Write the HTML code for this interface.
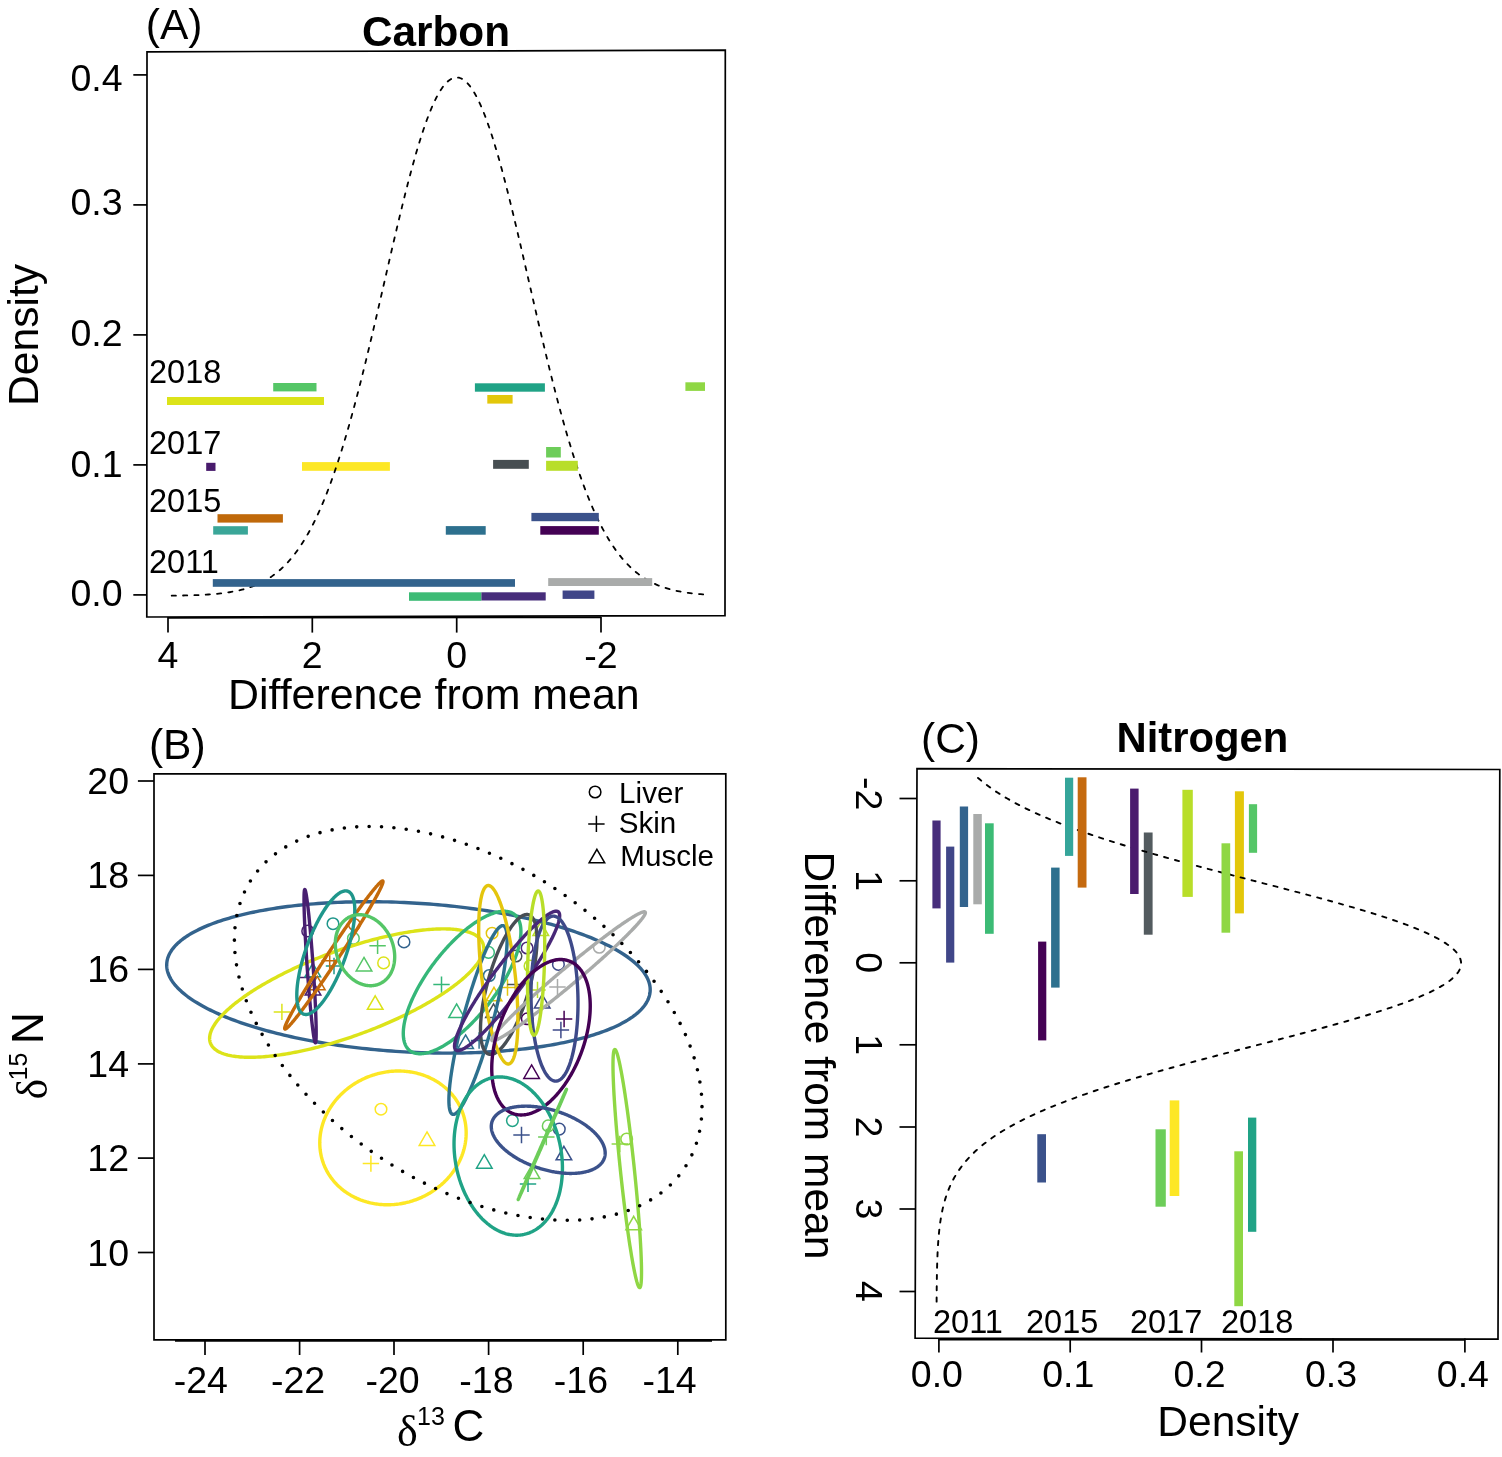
<!DOCTYPE html>
<html><head><meta charset="utf-8"><title>Carbon and Nitrogen</title>
<style>html,body{margin:0;padding:0;background:#fff;} svg{display:block;}</style></head>
<body><svg width="1502" height="1457" viewBox="0 0 1502 1457">
<rect width="1502" height="1457" fill="#fff"/>
<path d="M147.00,51.80 L725.30,50.20 L725.00,615.60 L146.80,617.00 Z" fill="none" stroke="#000" stroke-width="1.7" />
<line x1="133.30" y1="74.90" x2="147.00" y2="74.90" stroke="#000" stroke-width="1.7" />
<text x="122.60" y="91.00" font-size="37.5" font-family="'Liberation Sans', Arial, Helvetica, sans-serif" font-weight="normal" text-anchor="end" >0.4</text>
<line x1="133.30" y1="204.90" x2="147.00" y2="204.90" stroke="#000" stroke-width="1.7" />
<text x="122.60" y="214.70" font-size="37.5" font-family="'Liberation Sans', Arial, Helvetica, sans-serif" font-weight="normal" text-anchor="end" >0.3</text>
<line x1="133.30" y1="334.90" x2="147.00" y2="334.90" stroke="#000" stroke-width="1.7" />
<text x="122.60" y="345.90" font-size="37.5" font-family="'Liberation Sans', Arial, Helvetica, sans-serif" font-weight="normal" text-anchor="end" >0.2</text>
<line x1="133.30" y1="464.90" x2="147.00" y2="464.90" stroke="#000" stroke-width="1.7" />
<text x="122.60" y="476.80" font-size="37.5" font-family="'Liberation Sans', Arial, Helvetica, sans-serif" font-weight="normal" text-anchor="end" >0.1</text>
<line x1="133.30" y1="594.90" x2="147.00" y2="594.90" stroke="#000" stroke-width="1.7" />
<text x="122.60" y="606.00" font-size="37.5" font-family="'Liberation Sans', Arial, Helvetica, sans-serif" font-weight="normal" text-anchor="end" >0.0</text>
<line x1="168.00" y1="617.80" x2="601.00" y2="617.40" stroke="#000" stroke-width="1.7" />
<line x1="168.00" y1="617.00" x2="168.00" y2="632.60" stroke="#000" stroke-width="1.7" />
<text x="168.00" y="668.20" font-size="37.5" font-family="'Liberation Sans', Arial, Helvetica, sans-serif" font-weight="normal" text-anchor="middle" >4</text>
<line x1="312.30" y1="617.00" x2="312.30" y2="632.60" stroke="#000" stroke-width="1.7" />
<text x="312.30" y="668.20" font-size="37.5" font-family="'Liberation Sans', Arial, Helvetica, sans-serif" font-weight="normal" text-anchor="middle" >2</text>
<line x1="456.70" y1="617.00" x2="456.70" y2="632.60" stroke="#000" stroke-width="1.7" />
<text x="456.70" y="668.20" font-size="37.5" font-family="'Liberation Sans', Arial, Helvetica, sans-serif" font-weight="normal" text-anchor="middle" >0</text>
<line x1="601.00" y1="617.00" x2="601.00" y2="632.60" stroke="#000" stroke-width="1.7" />
<text x="601.00" y="668.20" font-size="37.5" font-family="'Liberation Sans', Arial, Helvetica, sans-serif" font-weight="normal" text-anchor="middle" >-2</text>
<text x="433.80" y="709.00" font-size="42.9" font-family="'Liberation Sans', Arial, Helvetica, sans-serif" font-weight="normal" text-anchor="middle" >Difference from mean</text>
<text x="37.80" y="335.00" font-size="42.6" font-family="'Liberation Sans', Arial, Helvetica, sans-serif" font-weight="normal" text-anchor="middle" transform="rotate(-90 37.80 335.00)" >Density</text>
<text x="145.80" y="39.00" font-size="42.5" font-family="'Liberation Sans', Arial, Helvetica, sans-serif" font-weight="normal" text-anchor="start" >(A)</text>
<text x="436.00" y="45.60" font-size="42.3" font-family="'Liberation Sans', Arial, Helvetica, sans-serif" font-weight="bold" text-anchor="middle" >Carbon</text>
<text x="149.00" y="383.00" font-size="32.5" font-family="'Liberation Sans', Arial, Helvetica, sans-serif" font-weight="normal" text-anchor="start" >2018</text>
<text x="149.00" y="453.90" font-size="32.5" font-family="'Liberation Sans', Arial, Helvetica, sans-serif" font-weight="normal" text-anchor="start" >2017</text>
<text x="149.00" y="512.00" font-size="32.5" font-family="'Liberation Sans', Arial, Helvetica, sans-serif" font-weight="normal" text-anchor="start" >2015</text>
<text x="149.00" y="573.20" font-size="32.5" font-family="'Liberation Sans', Arial, Helvetica, sans-serif" font-weight="normal" text-anchor="start" >2011</text>
<rect x="302.00" y="462.10" width="87.90" height="8.70" fill="#FDE725"/>
<path d="M170.79,595.70 L172.57,595.68 L174.35,595.65 L176.12,595.63 L177.90,595.60 L179.68,595.57 L181.46,595.54 L183.24,595.50 L185.02,595.46 L186.79,595.42 L188.57,595.38 L190.35,595.33 L192.13,595.27 L193.91,595.21 L195.69,595.15 L197.47,595.08 L199.24,595.00 L201.02,594.92 L202.80,594.83 L204.58,594.73 L206.36,594.63 L208.14,594.52 L209.92,594.39 L211.69,594.26 L213.47,594.12 L215.25,593.97 L217.03,593.80 L218.81,593.62 L220.59,593.43 L222.37,593.23 L224.14,593.00 L225.92,592.77 L227.70,592.51 L229.48,592.24 L231.26,591.94 L233.04,591.63 L234.81,591.29 L236.59,590.93 L238.37,590.54 L240.15,590.13 L241.93,589.69 L243.71,589.22 L245.49,588.72 L247.26,588.18 L249.04,587.61 L250.82,587.01 L252.60,586.36 L254.38,585.68 L256.16,584.95 L257.94,584.18 L259.71,583.36 L261.49,582.49 L263.27,581.57 L265.05,580.60 L266.83,579.57 L268.61,578.48 L270.39,577.34 L272.16,576.12 L273.94,574.84 L275.72,573.50 L277.50,572.08 L279.28,570.58 L281.06,569.01 L282.84,567.36 L284.61,565.62 L286.39,563.80 L288.17,561.89 L289.95,559.89 L291.73,557.80 L293.51,555.60 L295.28,553.31 L297.06,550.91 L298.84,548.41 L300.62,545.79 L302.40,543.07 L304.18,540.23 L305.96,537.27 L307.73,534.20 L309.51,531.00 L311.29,527.68 L313.07,524.23 L314.85,520.65 L316.63,516.95 L318.41,513.11 L320.18,509.13 L321.96,505.02 L323.74,500.78 L325.52,496.39 L327.30,491.87 L329.08,487.21 L330.86,482.40 L332.63,477.46 L334.41,472.38 L336.19,467.15 L337.97,461.79 L339.75,456.29 L341.53,450.65 L343.31,444.87 L345.08,438.96 L346.86,432.92 L348.64,426.75 L350.42,420.45 L352.20,414.03 L353.98,407.48 L355.75,400.82 L357.53,394.05 L359.31,387.16 L361.09,380.18 L362.87,373.09 L364.65,365.91 L366.43,358.65 L368.20,351.30 L369.98,343.88 L371.76,336.39 L373.54,328.84 L375.32,321.24 L377.10,313.59 L378.88,305.91 L380.65,298.19 L382.43,290.46 L384.21,282.72 L385.99,274.97 L387.77,267.24 L389.55,259.52 L391.33,251.82 L393.10,244.17 L394.88,236.56 L396.66,229.02 L398.44,221.54 L400.22,214.14 L402.00,206.83 L403.77,199.62 L405.55,192.52 L407.33,185.54 L409.11,178.70 L410.89,172.00 L412.67,165.45 L414.45,159.07 L416.22,152.86 L418.00,146.84 L419.78,141.01 L421.56,135.38 L423.34,129.97 L425.12,124.78 L426.90,119.82 L428.67,115.10 L430.45,110.62 L432.23,106.41 L434.01,102.45 L435.79,98.77 L437.57,95.36 L439.35,92.24 L441.12,89.40 L442.90,86.85 L444.68,84.61 L446.46,82.66 L448.24,81.02 L450.02,79.69 L451.80,78.67 L453.57,77.96 L455.35,77.56 L457.13,77.48 L458.91,77.72 L460.69,78.26 L462.47,79.13 L464.24,80.30 L466.02,81.78 L467.80,83.57 L469.58,85.66 L471.36,88.05 L473.14,90.74 L474.92,93.71 L476.69,96.98 L478.47,100.52 L480.25,104.34 L482.03,108.42 L483.81,112.76 L485.59,117.35 L487.37,122.19 L489.14,127.26 L490.92,132.56 L492.70,138.08 L494.48,143.81 L496.26,149.73 L498.04,155.85 L499.82,162.14 L501.59,168.60 L503.37,175.23 L505.15,182.00 L506.93,188.91 L508.71,195.94 L510.49,203.10 L512.27,210.36 L514.04,217.71 L515.82,225.15 L517.60,232.66 L519.38,240.24 L521.16,247.87 L522.94,255.55 L524.71,263.25 L526.49,270.98 L528.27,278.72 L530.05,286.47 L531.83,294.21 L533.61,301.93 L535.39,309.63 L537.16,317.30 L538.94,324.93 L540.72,332.50 L542.50,340.03 L544.28,347.48 L546.06,354.87 L547.84,362.18 L549.61,369.40 L551.39,376.54 L553.17,383.57 L554.95,390.51 L556.73,397.34 L558.51,404.06 L560.29,410.67 L562.06,417.15 L563.84,423.52 L565.62,429.76 L567.40,435.86 L569.18,441.84 L570.96,447.69 L572.74,453.40 L574.51,458.97 L576.29,464.41 L578.07,469.70 L579.85,474.86 L581.63,479.87 L583.41,484.75 L585.18,489.48 L586.96,494.08 L588.74,498.53 L590.52,502.85 L592.30,507.03 L594.08,511.07 L595.86,514.98 L597.63,518.76 L599.41,522.40 L601.19,525.92 L602.97,529.30 L604.75,532.56 L606.53,535.70 L608.31,538.72 L610.08,541.62 L611.86,544.40 L613.64,547.07 L615.42,549.63 L617.20,552.08 L618.98,554.43 L620.76,556.68 L622.53,558.82 L624.31,560.87 L626.09,562.83 L627.87,564.70 L629.65,566.48 L631.43,568.17 L633.20,569.78 L634.98,571.32 L636.76,572.77 L638.54,574.16 L640.32,575.47 L642.10,576.72 L643.88,577.90 L645.65,579.02 L647.43,580.08 L649.21,581.08 L650.99,582.03 L652.77,582.92 L654.55,583.76 L656.33,584.56 L658.10,585.31 L659.88,586.01 L661.66,586.68 L663.44,587.31 L665.22,587.89 L667.00,588.44 L668.78,588.96 L670.55,589.45 L672.33,589.91 L674.11,590.33 L675.89,590.73 L677.67,591.11 L679.45,591.46 L681.23,591.78 L683.00,592.09 L684.78,592.37 L686.56,592.64 L688.34,592.88 L690.12,593.11 L691.90,593.33 L693.67,593.53 L695.45,593.71 L697.23,593.88 L699.01,594.04 L700.79,594.19 L702.57,594.33 L704.35,594.45" fill="none" stroke="#000" stroke-width="1.8" stroke-dasharray="4.2 7.148" stroke-dashoffset="-0.9" stroke-linecap="round" stroke-linejoin="round"/>
<rect x="273.20" y="383.00" width="43.30" height="8.40" fill="#55C667"/>
<rect x="167.00" y="397.00" width="157.00" height="8.00" fill="#DCE319"/>
<rect x="474.90" y="383.30" width="70.00" height="8.40" fill="#20A386"/>
<rect x="487.30" y="395.00" width="25.30" height="8.60" fill="#E3C70A"/>
<rect x="685.40" y="382.30" width="19.60" height="8.60" fill="#8FD744"/>
<rect x="206.20" y="462.80" width="9.30" height="8.10" fill="#481A6C"/>
<rect x="493.10" y="459.90" width="35.70" height="8.90" fill="#474E52"/>
<rect x="546.10" y="447.00" width="14.70" height="10.50" fill="#6DCD59"/>
<rect x="546.10" y="460.80" width="31.70" height="10.00" fill="#B8DE29"/>
<rect x="217.50" y="514.20" width="65.40" height="8.40" fill="#C0690A"/>
<rect x="213.20" y="526.20" width="34.70" height="8.40" fill="#3AA698"/>
<rect x="531.40" y="512.90" width="67.40" height="8.30" fill="#3B528B"/>
<rect x="445.80" y="526.10" width="39.90" height="8.60" fill="#2D708E"/>
<rect x="540.30" y="526.10" width="58.50" height="8.60" fill="#440154"/>
<rect x="212.80" y="579.10" width="302.20" height="7.70" fill="#33638D"/>
<rect x="548.20" y="578.10" width="104.00" height="7.90" fill="#A9ABAA"/>
<rect x="409.00" y="592.30" width="72.40" height="8.50" fill="#3CBB75"/>
<rect x="481.40" y="592.30" width="64.30" height="8.20" fill="#472D7B"/>
<rect x="562.60" y="590.50" width="31.80" height="8.40" fill="#404688"/>
<path d="M154.00,773.80 L725.80,773.80 L725.80,1339.80 L154.00,1339.80 Z" fill="none" stroke="#000" stroke-width="1.7" />
<line x1="137.90" y1="781.00" x2="154.00" y2="781.00" stroke="#000" stroke-width="1.7" />
<text x="129.00" y="794.00" font-size="37.5" font-family="'Liberation Sans', Arial, Helvetica, sans-serif" font-weight="normal" text-anchor="end" >20</text>
<line x1="137.90" y1="875.40" x2="154.00" y2="875.40" stroke="#000" stroke-width="1.7" />
<text x="129.00" y="888.40" font-size="37.5" font-family="'Liberation Sans', Arial, Helvetica, sans-serif" font-weight="normal" text-anchor="end" >18</text>
<line x1="137.90" y1="969.40" x2="154.00" y2="969.40" stroke="#000" stroke-width="1.7" />
<text x="129.00" y="982.40" font-size="37.5" font-family="'Liberation Sans', Arial, Helvetica, sans-serif" font-weight="normal" text-anchor="end" >16</text>
<line x1="137.90" y1="1063.90" x2="154.00" y2="1063.90" stroke="#000" stroke-width="1.7" />
<text x="129.00" y="1076.90" font-size="37.5" font-family="'Liberation Sans', Arial, Helvetica, sans-serif" font-weight="normal" text-anchor="end" >14</text>
<line x1="137.90" y1="1158.10" x2="154.00" y2="1158.10" stroke="#000" stroke-width="1.7" />
<text x="129.00" y="1171.10" font-size="37.5" font-family="'Liberation Sans', Arial, Helvetica, sans-serif" font-weight="normal" text-anchor="end" >12</text>
<line x1="137.90" y1="1252.50" x2="154.00" y2="1252.50" stroke="#000" stroke-width="1.7" />
<text x="129.00" y="1265.50" font-size="37.5" font-family="'Liberation Sans', Arial, Helvetica, sans-serif" font-weight="normal" text-anchor="end" >10</text>
<line x1="175.00" y1="1340.90" x2="712.00" y2="1340.90" stroke="#000" stroke-width="1.7" />
<line x1="205.00" y1="1339.80" x2="205.00" y2="1355.00" stroke="#000" stroke-width="1.7" />
<text x="200.80" y="1393.00" font-size="37.5" font-family="'Liberation Sans', Arial, Helvetica, sans-serif" font-weight="normal" text-anchor="middle" >-24</text>
<line x1="299.60" y1="1339.80" x2="299.60" y2="1355.00" stroke="#000" stroke-width="1.7" />
<text x="298.10" y="1393.00" font-size="37.5" font-family="'Liberation Sans', Arial, Helvetica, sans-serif" font-weight="normal" text-anchor="middle" >-22</text>
<line x1="394.00" y1="1339.80" x2="394.00" y2="1355.00" stroke="#000" stroke-width="1.7" />
<text x="392.50" y="1393.00" font-size="37.5" font-family="'Liberation Sans', Arial, Helvetica, sans-serif" font-weight="normal" text-anchor="middle" >-20</text>
<line x1="488.60" y1="1339.80" x2="488.60" y2="1355.00" stroke="#000" stroke-width="1.7" />
<text x="486.40" y="1393.00" font-size="37.5" font-family="'Liberation Sans', Arial, Helvetica, sans-serif" font-weight="normal" text-anchor="middle" >-18</text>
<line x1="583.20" y1="1339.80" x2="583.20" y2="1355.00" stroke="#000" stroke-width="1.7" />
<text x="580.90" y="1393.00" font-size="37.5" font-family="'Liberation Sans', Arial, Helvetica, sans-serif" font-weight="normal" text-anchor="middle" >-16</text>
<line x1="677.80" y1="1339.80" x2="677.80" y2="1355.00" stroke="#000" stroke-width="1.7" />
<text x="669.60" y="1393.00" font-size="37.5" font-family="'Liberation Sans', Arial, Helvetica, sans-serif" font-weight="normal" text-anchor="middle" >-14</text>
<text x="148.90" y="759.00" font-size="42.5" font-family="'Liberation Sans', Arial, Helvetica, sans-serif" font-weight="normal" text-anchor="start" >(B)</text>
<circle cx="595.10" cy="792.00" r="5.80" fill="none" stroke="#000" stroke-width="1.5"/>
<path d="M588.20,823.90 H604.60 M596.40,815.70 V832.10" fill="none" stroke="#000" stroke-width="1.5"/>
<path d="M596.90,849.28 L604.71,862.81 L589.09,862.81 Z" fill="none" stroke="#000" stroke-width="1.5" stroke-linejoin="miter"/>
<text x="619.10" y="803.00" font-size="29.6" font-family="'Liberation Sans', Arial, Helvetica, sans-serif" font-weight="normal" text-anchor="start" >Liver</text>
<text x="618.70" y="832.90" font-size="29.6" font-family="'Liberation Sans', Arial, Helvetica, sans-serif" font-weight="normal" text-anchor="start" >Skin</text>
<text x="620.30" y="865.80" font-size="29.6" font-family="'Liberation Sans', Arial, Helvetica, sans-serif" font-weight="normal" text-anchor="start" >Muscle</text>
<circle cx="307.70" cy="931.00" r="5.80" fill="none" stroke="#481F70" stroke-width="1.5"/>
<path d="M299.90,977.40 H316.30 M308.10,969.20 V985.60" fill="none" stroke="#481F70" stroke-width="1.5"/>
<path d="M313.00,981.48 L320.81,995.01 L305.19,995.01 Z" fill="none" stroke="#481F70" stroke-width="1.5" stroke-linejoin="miter"/>
<circle cx="333.00" cy="923.70" r="5.80" fill="none" stroke="#1F968B" stroke-width="1.5"/>
<path d="M325.80,966.00 H342.20 M334.00,957.80 V974.20" fill="none" stroke="#1F968B" stroke-width="1.5"/>
<path d="M312.80,963.28 L320.61,976.81 L304.99,976.81 Z" fill="none" stroke="#1F968B" stroke-width="1.5" stroke-linejoin="miter"/>
<circle cx="354.40" cy="924.50" r="5.80" fill="none" stroke="#C46A0A" stroke-width="1.5"/>
<path d="M321.50,960.80 H337.90 M329.70,952.60 V969.00" fill="none" stroke="#C46A0A" stroke-width="1.5"/>
<path d="M317.30,976.28 L325.11,989.81 L309.49,989.81 Z" fill="none" stroke="#C46A0A" stroke-width="1.5" stroke-linejoin="miter"/>
<circle cx="353.40" cy="938.40" r="5.80" fill="none" stroke="#55C667" stroke-width="1.5"/>
<path d="M369.40,945.80 H385.80 M377.60,937.60 V954.00" fill="none" stroke="#55C667" stroke-width="1.5"/>
<path d="M364.00,957.38 L371.81,970.91 L356.19,970.91 Z" fill="none" stroke="#55C667" stroke-width="1.5" stroke-linejoin="miter"/>
<circle cx="383.60" cy="962.90" r="5.80" fill="none" stroke="#DCE319" stroke-width="1.5"/>
<path d="M273.70,1011.90 H290.10 M281.90,1003.70 V1020.10" fill="none" stroke="#DCE319" stroke-width="1.5"/>
<path d="M375.20,995.78 L383.01,1009.31 L367.39,1009.31 Z" fill="none" stroke="#DCE319" stroke-width="1.5" stroke-linejoin="miter"/>
<circle cx="404.00" cy="941.90" r="5.80" fill="none" stroke="#33638D" stroke-width="1.5"/>
<circle cx="381.00" cy="1109.20" r="5.80" fill="none" stroke="#FDE725" stroke-width="1.5"/>
<path d="M427.00,1131.88 L434.81,1145.41 L419.19,1145.41 Z" fill="none" stroke="#FDE725" stroke-width="1.5" stroke-linejoin="miter"/>
<path d="M362.70,1163.60 H379.10 M370.90,1155.40 V1171.80" fill="none" stroke="#FDE725" stroke-width="1.5"/>
<circle cx="488.50" cy="952.40" r="5.80" fill="none" stroke="#35B779" stroke-width="1.5"/>
<path d="M433.30,984.60 H449.70 M441.50,976.40 V992.80" fill="none" stroke="#35B779" stroke-width="1.5"/>
<path d="M456.60,1003.98 L464.41,1017.51 L448.79,1017.51 Z" fill="none" stroke="#35B779" stroke-width="1.5" stroke-linejoin="miter"/>
<circle cx="492.10" cy="933.20" r="5.80" fill="none" stroke="#E4C50D" stroke-width="1.5"/>
<path d="M499.30,987.50 H515.70 M507.50,979.30 V995.70" fill="none" stroke="#E4C50D" stroke-width="1.5"/>
<path d="M494.00,987.28 L501.81,1000.81 L486.19,1000.81 Z" fill="none" stroke="#E4C50D" stroke-width="1.5" stroke-linejoin="miter"/>
<circle cx="489.30" cy="975.50" r="5.80" fill="none" stroke="#2D708E" stroke-width="1.5"/>
<path d="M470.90,1040.50 H487.30 M479.10,1032.30 V1048.70" fill="none" stroke="#2D708E" stroke-width="1.5"/>
<path d="M465.60,1034.98 L473.41,1048.51 L457.79,1048.51 Z" fill="none" stroke="#2D708E" stroke-width="1.5" stroke-linejoin="miter"/>
<circle cx="527.10" cy="948.00" r="5.80" fill="none" stroke="#482878" stroke-width="1.5"/>
<circle cx="558.40" cy="964.40" r="5.80" fill="none" stroke="#3E4A89" stroke-width="1.5"/>
<path d="M552.70,1030.00 H569.10 M560.90,1021.80 V1038.20" fill="none" stroke="#3E4A89" stroke-width="1.5"/>
<path d="M542.20,994.58 L550.01,1008.11 L534.39,1008.11 Z" fill="none" stroke="#3E4A89" stroke-width="1.5" stroke-linejoin="miter"/>
<circle cx="599.30" cy="947.30" r="5.80" fill="none" stroke="#A9ABAA" stroke-width="1.5"/>
<path d="M549.30,987.10 H565.70 M557.50,978.90 V995.30" fill="none" stroke="#A9ABAA" stroke-width="1.5"/>
<path d="M529.30,989.90 H545.70 M537.50,981.70 V998.10" fill="none" stroke="#B8DE29" stroke-width="1.5"/>
<circle cx="530.00" cy="966.00" r="5.80" fill="none" stroke="#B8DE29" stroke-width="1.5"/>
<path d="M540.80,921.98 L548.61,935.51 L532.99,935.51 Z" fill="none" stroke="#B8DE29" stroke-width="1.5" stroke-linejoin="miter"/>
<circle cx="516.00" cy="956.00" r="5.80" fill="none" stroke="#484E54" stroke-width="1.5"/>
<path d="M507.30,984.50 H523.70 M515.50,976.30 V992.70" fill="none" stroke="#484E54" stroke-width="1.5"/>
<path d="M493.50,1003.98 L501.31,1017.51 L485.69,1017.51 Z" fill="none" stroke="#484E54" stroke-width="1.5" stroke-linejoin="miter"/>
<circle cx="527.30" cy="1018.80" r="5.80" fill="none" stroke="#440154" stroke-width="1.5"/>
<path d="M555.90,1019.00 H572.30 M564.10,1010.80 V1027.20" fill="none" stroke="#440154" stroke-width="1.5"/>
<path d="M531.60,1064.88 L539.41,1078.41 L523.79,1078.41 Z" fill="none" stroke="#440154" stroke-width="1.5" stroke-linejoin="miter"/>
<circle cx="512.40" cy="1120.60" r="5.80" fill="none" stroke="#20A386" stroke-width="1.5"/>
<path d="M484.30,1154.68 L492.11,1168.21 L476.49,1168.21 Z" fill="none" stroke="#20A386" stroke-width="1.5" stroke-linejoin="miter"/>
<path d="M519.80,1183.90 H536.20 M528.00,1175.70 V1192.10" fill="none" stroke="#20A386" stroke-width="1.5"/>
<circle cx="559.30" cy="1129.10" r="5.80" fill="none" stroke="#3B528B" stroke-width="1.5"/>
<path d="M513.30,1135.00 H529.70 M521.50,1126.80 V1143.20" fill="none" stroke="#3B528B" stroke-width="1.5"/>
<path d="M563.90,1146.28 L571.71,1159.81 L556.09,1159.81 Z" fill="none" stroke="#3B528B" stroke-width="1.5" stroke-linejoin="miter"/>
<circle cx="548.20" cy="1125.90" r="5.80" fill="none" stroke="#6DCD59" stroke-width="1.5"/>
<path d="M538.10,1137.00 H554.50 M546.30,1128.80 V1145.20" fill="none" stroke="#6DCD59" stroke-width="1.5"/>
<path d="M532.00,1164.98 L539.81,1178.51 L524.19,1178.51 Z" fill="none" stroke="#6DCD59" stroke-width="1.5" stroke-linejoin="miter"/>
<circle cx="626.70" cy="1139.00" r="5.80" fill="none" stroke="#8FD744" stroke-width="1.5"/>
<path d="M611.60,1144.00 H628.00 M619.80,1135.80 V1152.20" fill="none" stroke="#8FD744" stroke-width="1.5"/>
<path d="M633.70,1216.28 L641.51,1229.81 L625.89,1229.81 Z" fill="none" stroke="#8FD744" stroke-width="1.5" stroke-linejoin="miter"/>
<path d="M650.20,989.73 L650.16,991.03 L650.05,992.33 L649.87,993.62 L649.61,994.91 L649.28,996.19 L648.88,997.47 L648.40,998.74 L647.85,1000.00 L647.22,1001.26 L646.53,1002.51 L645.76,1003.75 L644.92,1004.99 L644.00,1006.21 L643.02,1007.43 L641.96,1008.64 L640.84,1009.84 L639.64,1011.03 L638.37,1012.20 L637.03,1013.37 L635.62,1014.53 L634.14,1015.67 L632.60,1016.81 L630.98,1017.93 L629.30,1019.04 L627.55,1020.14 L625.73,1021.22 L623.85,1022.29 L621.90,1023.35 L619.89,1024.39 L617.81,1025.42 L615.67,1026.43 L613.47,1027.43 L611.20,1028.42 L608.87,1029.39 L606.48,1030.34 L604.03,1031.27 L601.52,1032.19 L598.95,1033.10 L596.33,1033.98 L593.64,1034.85 L590.90,1035.70 L588.11,1036.54 L585.25,1037.35 L582.35,1038.15 L579.39,1038.93 L576.38,1039.69 L573.32,1040.43 L570.21,1041.15 L567.05,1041.86 L563.84,1042.54 L560.59,1043.20 L557.29,1043.85 L553.94,1044.47 L550.55,1045.07 L547.11,1045.65 L543.63,1046.21 L540.12,1046.75 L536.56,1047.27 L532.96,1047.77 L529.33,1048.25 L525.65,1048.70 L521.94,1049.13 L518.20,1049.55 L514.43,1049.93 L510.62,1050.30 L506.78,1050.65 L502.91,1050.97 L499.01,1051.27 L495.09,1051.55 L491.13,1051.80 L487.16,1052.03 L483.15,1052.24 L479.13,1052.43 L475.09,1052.59 L471.02,1052.74 L466.93,1052.85 L462.83,1052.95 L458.71,1053.02 L454.58,1053.07 L450.43,1053.10 L446.27,1053.10 L442.10,1053.08 L437.91,1053.04 L433.72,1052.97 L429.52,1052.88 L425.31,1052.77 L421.10,1052.63 L416.89,1052.47 L412.67,1052.29 L408.45,1052.09 L404.23,1051.86 L400.01,1051.61 L395.80,1051.34 L391.59,1051.05 L387.38,1050.73 L383.18,1050.39 L378.99,1050.03 L374.80,1049.65 L370.63,1049.24 L366.47,1048.81 L362.32,1048.37 L358.19,1047.89 L354.07,1047.40 L349.97,1046.89 L345.88,1046.35 L341.81,1045.80 L337.77,1045.22 L333.75,1044.62 L329.74,1044.01 L325.77,1043.37 L321.81,1042.71 L317.89,1042.03 L313.99,1041.34 L310.12,1040.62 L306.28,1039.88 L302.47,1039.13 L298.70,1038.35 L294.96,1037.56 L291.25,1036.75 L287.58,1035.92 L283.94,1035.07 L280.34,1034.21 L276.78,1033.33 L273.27,1032.43 L269.79,1031.51 L266.35,1030.58 L262.96,1029.63 L259.61,1028.67 L256.31,1027.69 L253.06,1026.69 L249.85,1025.68 L246.69,1024.66 L243.58,1023.62 L240.52,1022.56 L237.51,1021.50 L234.55,1020.42 L231.65,1019.32 L228.79,1018.22 L226.00,1017.10 L223.26,1015.97 L220.57,1014.82 L217.95,1013.67 L215.38,1012.50 L212.87,1011.33 L210.42,1010.14 L208.03,1008.95 L205.70,1007.74 L203.43,1006.53 L201.23,1005.30 L199.09,1004.07 L197.01,1002.83 L195.00,1001.58 L193.05,1000.33 L191.17,999.06 L189.35,997.79 L187.60,996.52 L185.92,995.24 L184.30,993.95 L182.76,992.66 L181.28,991.36 L179.87,990.06 L178.53,988.76 L177.26,987.45 L176.06,986.14 L174.94,984.82 L173.88,983.51 L172.90,982.19 L171.98,980.87 L171.14,979.55 L170.37,978.23 L169.68,976.91 L169.05,975.59 L168.50,974.27 L168.02,972.95 L167.62,971.63 L167.29,970.31 L167.03,969.00 L166.85,967.69 L166.74,966.38 L166.70,965.07 L166.74,963.77 L166.85,962.47 L167.03,961.18 L167.29,959.89 L167.62,958.61 L168.02,957.33 L168.50,956.06 L169.05,954.80 L169.68,953.54 L170.37,952.29 L171.14,951.05 L171.98,949.81 L172.90,948.59 L173.88,947.37 L174.94,946.16 L176.06,944.96 L177.26,943.77 L178.53,942.60 L179.87,941.43 L181.28,940.27 L182.76,939.13 L184.30,937.99 L185.92,936.87 L187.60,935.76 L189.35,934.66 L191.17,933.58 L193.05,932.51 L195.00,931.45 L197.01,930.41 L199.09,929.38 L201.23,928.37 L203.43,927.37 L205.70,926.38 L208.03,925.41 L210.42,924.46 L212.87,923.53 L215.38,922.61 L217.95,921.70 L220.57,920.82 L223.26,919.95 L226.00,919.10 L228.79,918.26 L231.65,917.45 L234.55,916.65 L237.51,915.87 L240.52,915.11 L243.58,914.37 L246.69,913.65 L249.85,912.94 L253.06,912.26 L256.31,911.60 L259.61,910.95 L262.96,910.33 L266.35,909.73 L269.79,909.15 L273.27,908.59 L276.78,908.05 L280.34,907.53 L283.94,907.03 L287.57,906.55 L291.25,906.10 L294.96,905.67 L298.70,905.25 L302.47,904.87 L306.28,904.50 L310.12,904.15 L313.99,903.83 L317.89,903.53 L321.81,903.25 L325.77,903.00 L329.74,902.77 L333.75,902.56 L337.77,902.37 L341.81,902.21 L345.88,902.06 L349.97,901.95 L354.07,901.85 L358.19,901.78 L362.32,901.73 L366.47,901.70 L370.63,901.70 L374.80,901.72 L378.99,901.76 L383.18,901.83 L387.38,901.92 L391.59,902.03 L395.80,902.17 L400.01,902.33 L404.23,902.51 L408.45,902.71 L412.67,902.94 L416.89,903.19 L421.10,903.46 L425.31,903.75 L429.52,904.07 L433.72,904.41 L437.91,904.77 L442.10,905.15 L446.27,905.56 L450.43,905.99 L454.58,906.43 L458.71,906.91 L462.83,907.40 L466.93,907.91 L471.02,908.45 L475.09,909.00 L479.13,909.58 L483.15,910.18 L487.16,910.79 L491.13,911.43 L495.09,912.09 L499.01,912.77 L502.91,913.46 L506.78,914.18 L510.62,914.92 L514.43,915.67 L518.20,916.45 L521.94,917.24 L525.65,918.05 L529.33,918.88 L532.96,919.73 L536.56,920.59 L540.12,921.47 L543.63,922.37 L547.11,923.29 L550.55,924.22 L553.94,925.17 L557.29,926.13 L560.59,927.11 L563.84,928.11 L567.05,929.12 L570.21,930.14 L573.32,931.18 L576.38,932.24 L579.39,933.30 L582.35,934.38 L585.25,935.48 L588.11,936.58 L590.90,937.70 L593.64,938.83 L596.33,939.98 L598.95,941.13 L601.52,942.30 L604.03,943.47 L606.48,944.66 L608.87,945.85 L611.20,947.06 L613.47,948.27 L615.67,949.50 L617.81,950.73 L619.89,951.97 L621.90,953.22 L623.85,954.47 L625.73,955.74 L627.55,957.01 L629.30,958.28 L630.98,959.56 L632.60,960.85 L634.14,962.14 L635.62,963.44 L637.03,964.74 L638.37,966.04 L639.64,967.35 L640.84,968.66 L641.96,969.98 L643.02,971.29 L644.00,972.61 L644.92,973.93 L645.76,975.25 L646.53,976.57 L647.22,977.89 L647.85,979.21 L648.40,980.53 L648.88,981.85 L649.28,983.17 L649.61,984.49 L649.87,985.80 L650.05,987.11 L650.16,988.42 Z" fill="none" stroke="#33638D" stroke-width="3.4" stroke-linejoin="round" />
<path d="M483.60,947.84 L483.58,948.65 L483.52,949.46 L483.41,950.29 L483.27,951.13 L483.08,951.99 L482.85,952.85 L482.58,953.73 L482.27,954.62 L481.91,955.53 L481.52,956.44 L481.08,957.36 L480.61,958.30 L480.09,959.25 L479.53,960.21 L478.93,961.17 L478.29,962.15 L477.61,963.14 L476.89,964.13 L476.14,965.14 L475.34,966.15 L474.50,967.17 L473.62,968.20 L472.71,969.23 L471.76,970.28 L470.76,971.33 L469.73,972.39 L468.67,973.45 L467.56,974.52 L466.42,975.60 L465.25,976.68 L464.03,977.76 L462.78,978.85 L461.50,979.95 L460.18,981.05 L458.82,982.15 L457.44,983.25 L456.01,984.36 L454.56,985.47 L453.07,986.59 L451.55,987.70 L450.00,988.82 L448.41,989.94 L446.80,991.06 L445.15,992.18 L443.47,993.30 L441.77,994.42 L440.03,995.54 L438.27,996.66 L436.48,997.78 L434.66,998.89 L432.82,1000.01 L430.95,1001.12 L429.05,1002.23 L427.13,1003.34 L425.18,1004.44 L423.21,1005.55 L421.22,1006.64 L419.20,1007.74 L417.16,1008.82 L415.10,1009.91 L413.02,1010.99 L410.92,1012.06 L408.80,1013.13 L406.66,1014.19 L404.50,1015.24 L402.32,1016.29 L400.13,1017.33 L397.92,1018.37 L395.70,1019.39 L393.46,1020.41 L391.20,1021.42 L388.94,1022.42 L386.65,1023.42 L384.36,1024.40 L382.06,1025.37 L379.74,1026.34 L377.42,1027.29 L375.08,1028.23 L372.74,1029.16 L370.39,1030.09 L368.03,1031.00 L365.67,1031.90 L363.30,1032.78 L360.92,1033.66 L358.54,1034.52 L356.16,1035.37 L353.77,1036.21 L351.38,1037.03 L348.99,1037.84 L346.60,1038.64 L344.21,1039.42 L341.82,1040.19 L339.43,1040.94 L337.04,1041.68 L334.66,1042.41 L332.28,1043.12 L329.90,1043.81 L327.53,1044.49 L325.17,1045.16 L322.81,1045.80 L320.46,1046.44 L318.12,1047.05 L315.78,1047.65 L313.46,1048.23 L311.14,1048.80 L308.84,1049.35 L306.55,1049.88 L304.26,1050.39 L302.00,1050.89 L299.74,1051.37 L297.50,1051.83 L295.28,1052.27 L293.07,1052.70 L290.88,1053.11 L288.70,1053.50 L286.54,1053.87 L284.40,1054.22 L282.28,1054.55 L280.18,1054.87 L278.10,1055.16 L276.04,1055.44 L274.00,1055.70 L271.98,1055.94 L269.99,1056.16 L268.02,1056.36 L266.07,1056.54 L264.15,1056.70 L262.25,1056.85 L260.38,1056.97 L258.54,1057.07 L256.72,1057.16 L254.93,1057.22 L253.17,1057.27 L251.43,1057.29 L249.73,1057.30 L248.05,1057.29 L246.40,1057.25 L244.79,1057.20 L243.20,1057.13 L241.65,1057.04 L240.13,1056.93 L238.64,1056.80 L237.19,1056.65 L235.76,1056.48 L234.38,1056.29 L233.02,1056.08 L231.70,1055.86 L230.42,1055.61 L229.17,1055.34 L227.95,1055.06 L226.78,1054.76 L225.64,1054.44 L224.53,1054.10 L223.47,1053.74 L222.44,1053.36 L221.44,1052.96 L220.49,1052.55 L219.58,1052.12 L218.70,1051.67 L217.86,1051.20 L217.06,1050.72 L216.31,1050.21 L215.59,1049.69 L214.91,1049.15 L214.27,1048.60 L213.67,1048.03 L213.11,1047.44 L212.59,1046.83 L212.12,1046.21 L211.68,1045.58 L211.29,1044.92 L210.93,1044.25 L210.62,1043.57 L210.35,1042.87 L210.12,1042.15 L209.93,1041.42 L209.79,1040.68 L209.68,1039.92 L209.62,1039.14 L209.60,1038.36 L209.62,1037.55 L209.68,1036.74 L209.79,1035.91 L209.93,1035.07 L210.12,1034.21 L210.35,1033.35 L210.62,1032.47 L210.93,1031.58 L211.29,1030.67 L211.68,1029.76 L212.12,1028.84 L212.59,1027.90 L213.11,1026.95 L213.67,1025.99 L214.27,1025.03 L214.91,1024.05 L215.59,1023.06 L216.31,1022.07 L217.06,1021.06 L217.86,1020.05 L218.70,1019.03 L219.58,1018.00 L220.49,1016.97 L221.44,1015.92 L222.44,1014.87 L223.47,1013.81 L224.53,1012.75 L225.64,1011.68 L226.78,1010.60 L227.95,1009.52 L229.17,1008.44 L230.42,1007.35 L231.70,1006.25 L233.02,1005.15 L234.38,1004.05 L235.76,1002.95 L237.19,1001.84 L238.64,1000.73 L240.13,999.61 L241.65,998.50 L243.20,997.38 L244.79,996.26 L246.40,995.14 L248.05,994.02 L249.73,992.90 L251.43,991.78 L253.17,990.66 L254.93,989.54 L256.72,988.42 L258.54,987.31 L260.38,986.19 L262.25,985.08 L264.15,983.97 L266.07,982.86 L268.02,981.76 L269.99,980.65 L271.98,979.56 L274.00,978.46 L276.04,977.38 L278.10,976.29 L280.18,975.21 L282.28,974.14 L284.40,973.07 L286.54,972.01 L288.70,970.96 L290.88,969.91 L293.07,968.87 L295.28,967.83 L297.50,966.81 L299.74,965.79 L302.00,964.78 L304.26,963.78 L306.55,962.78 L308.84,961.80 L311.14,960.83 L313.46,959.86 L315.78,958.91 L318.12,957.97 L320.46,957.04 L322.81,956.11 L325.17,955.20 L327.53,954.30 L329.90,953.42 L332.28,952.54 L334.66,951.68 L337.04,950.83 L339.43,949.99 L341.82,949.17 L344.21,948.36 L346.60,947.56 L348.99,946.78 L351.38,946.01 L353.77,945.26 L356.16,944.52 L358.54,943.79 L360.92,943.08 L363.30,942.39 L365.67,941.71 L368.03,941.04 L370.39,940.40 L372.74,939.76 L375.08,939.15 L377.42,938.55 L379.74,937.97 L382.06,937.40 L384.36,936.85 L386.65,936.32 L388.94,935.81 L391.20,935.31 L393.46,934.83 L395.70,934.37 L397.92,933.93 L400.13,933.50 L402.32,933.09 L404.50,932.70 L406.66,932.33 L408.80,931.98 L410.92,931.65 L413.02,931.33 L415.10,931.04 L417.16,930.76 L419.20,930.50 L421.22,930.26 L423.21,930.04 L425.18,929.84 L427.13,929.66 L429.05,929.50 L430.95,929.35 L432.82,929.23 L434.66,929.13 L436.48,929.04 L438.27,928.98 L440.03,928.93 L441.77,928.91 L443.47,928.90 L445.15,928.91 L446.80,928.95 L448.41,929.00 L450.00,929.07 L451.55,929.16 L453.07,929.27 L454.56,929.40 L456.01,929.55 L457.44,929.72 L458.82,929.91 L460.18,930.12 L461.50,930.34 L462.78,930.59 L464.03,930.86 L465.25,931.14 L466.42,931.44 L467.56,931.76 L468.67,932.10 L469.73,932.46 L470.76,932.84 L471.76,933.24 L472.71,933.65 L473.62,934.08 L474.50,934.53 L475.34,935.00 L476.14,935.48 L476.89,935.99 L477.61,936.51 L478.29,937.05 L478.93,937.60 L479.53,938.17 L480.09,938.76 L480.61,939.37 L481.08,939.99 L481.52,940.62 L481.91,941.28 L482.27,941.95 L482.58,942.63 L482.85,943.33 L483.08,944.05 L483.27,944.78 L483.41,945.52 L483.52,946.28 L483.58,947.06 Z" fill="none" stroke="#DCE319" stroke-width="3.4" stroke-linejoin="round" />
<path d="M316.19,1032.79 L316.19,1033.44 L316.18,1034.07 L316.18,1034.68 L316.17,1035.27 L316.16,1035.84 L316.15,1036.39 L316.14,1036.91 L316.13,1037.41 L316.11,1037.90 L316.09,1038.36 L316.07,1038.79 L316.05,1039.21 L316.03,1039.60 L316.01,1039.97 L315.98,1040.32 L315.95,1040.65 L315.92,1040.95 L315.89,1041.23 L315.86,1041.49 L315.82,1041.73 L315.78,1041.94 L315.74,1042.13 L315.70,1042.29 L315.66,1042.43 L315.62,1042.55 L315.57,1042.65 L315.52,1042.72 L315.47,1042.77 L315.42,1042.80 L315.37,1042.80 L315.32,1042.78 L315.26,1042.73 L315.20,1042.67 L315.15,1042.58 L315.09,1042.46 L315.02,1042.32 L314.96,1042.16 L314.90,1041.98 L314.83,1041.77 L314.76,1041.54 L314.69,1041.29 L314.62,1041.01 L314.55,1040.72 L314.48,1040.39 L314.40,1040.05 L314.33,1039.68 L314.25,1039.30 L314.17,1038.88 L314.09,1038.45 L314.01,1038.00 L313.93,1037.52 L313.85,1037.02 L313.76,1036.50 L313.68,1035.96 L313.59,1035.40 L313.50,1034.81 L313.42,1034.21 L313.33,1033.58 L313.23,1032.93 L313.14,1032.27 L313.05,1031.58 L312.96,1030.87 L312.86,1030.15 L312.77,1029.40 L312.67,1028.64 L312.58,1027.85 L312.48,1027.05 L312.38,1026.23 L312.28,1025.39 L312.18,1024.53 L312.08,1023.65 L311.98,1022.76 L311.88,1021.85 L311.78,1020.92 L311.68,1019.98 L311.57,1019.02 L311.47,1018.04 L311.37,1017.05 L311.26,1016.04 L311.16,1015.02 L311.05,1013.98 L310.95,1012.93 L310.84,1011.86 L310.74,1010.78 L310.63,1009.68 L310.52,1008.58 L310.42,1007.46 L310.31,1006.32 L310.21,1005.18 L310.10,1004.02 L309.99,1002.85 L309.89,1001.67 L309.78,1000.48 L309.68,999.28 L309.57,998.07 L309.46,996.85 L309.36,995.62 L309.25,994.38 L309.15,993.13 L309.04,991.87 L308.94,990.61 L308.83,989.34 L308.73,988.06 L308.63,986.77 L308.52,985.48 L308.42,984.18 L308.32,982.88 L308.22,981.57 L308.12,980.26 L308.02,978.94 L307.92,977.62 L307.82,976.30 L307.72,974.97 L307.62,973.64 L307.53,972.31 L307.43,970.97 L307.34,969.64 L307.24,968.30 L307.15,966.96 L307.06,965.63 L306.97,964.29 L306.87,962.95 L306.78,961.61 L306.70,960.28 L306.61,958.95 L306.52,957.62 L306.44,956.29 L306.35,954.96 L306.27,953.64 L306.19,952.32 L306.11,951.01 L306.03,949.70 L305.95,948.40 L305.87,947.10 L305.80,945.80 L305.72,944.52 L305.65,943.24 L305.58,941.97 L305.51,940.70 L305.44,939.44 L305.37,938.19 L305.30,936.95 L305.24,935.72 L305.18,934.49 L305.11,933.28 L305.05,932.08 L305.00,930.88 L304.94,929.70 L304.88,928.53 L304.83,927.37 L304.78,926.22 L304.73,925.09 L304.68,923.96 L304.63,922.85 L304.58,921.76 L304.54,920.67 L304.50,919.60 L304.46,918.55 L304.42,917.51 L304.38,916.48 L304.34,915.47 L304.31,914.47 L304.28,913.49 L304.25,912.53 L304.22,911.58 L304.19,910.65 L304.17,909.73 L304.15,908.84 L304.13,907.96 L304.11,907.10 L304.09,906.25 L304.07,905.43 L304.06,904.62 L304.05,903.83 L304.04,903.06 L304.03,902.31 L304.02,901.58 L304.02,900.87 L304.01,900.18 L304.01,899.51 L304.01,898.86 L304.02,898.23 L304.02,897.62 L304.03,897.03 L304.04,896.46 L304.05,895.91 L304.06,895.39 L304.07,894.89 L304.09,894.40 L304.11,893.94 L304.13,893.51 L304.15,893.09 L304.17,892.70 L304.19,892.33 L304.22,891.98 L304.25,891.65 L304.28,891.35 L304.31,891.07 L304.34,890.81 L304.38,890.57 L304.42,890.36 L304.46,890.17 L304.50,890.01 L304.54,889.87 L304.58,889.75 L304.63,889.65 L304.68,889.58 L304.73,889.53 L304.78,889.50 L304.83,889.50 L304.88,889.52 L304.94,889.57 L305.00,889.63 L305.05,889.72 L305.11,889.84 L305.18,889.98 L305.24,890.14 L305.30,890.32 L305.37,890.53 L305.44,890.76 L305.51,891.01 L305.58,891.29 L305.65,891.58 L305.72,891.91 L305.80,892.25 L305.87,892.62 L305.95,893.00 L306.03,893.42 L306.11,893.85 L306.19,894.30 L306.27,894.78 L306.35,895.28 L306.44,895.80 L306.52,896.34 L306.61,896.90 L306.70,897.49 L306.78,898.09 L306.87,898.72 L306.97,899.37 L307.06,900.03 L307.15,900.72 L307.24,901.43 L307.34,902.15 L307.43,902.90 L307.53,903.66 L307.62,904.45 L307.72,905.25 L307.82,906.07 L307.92,906.91 L308.02,907.77 L308.12,908.65 L308.22,909.54 L308.32,910.45 L308.42,911.38 L308.52,912.32 L308.63,913.28 L308.73,914.26 L308.83,915.25 L308.94,916.26 L309.04,917.28 L309.15,918.32 L309.25,919.37 L309.36,920.44 L309.46,921.52 L309.57,922.62 L309.68,923.72 L309.78,924.84 L309.89,925.98 L309.99,927.12 L310.10,928.28 L310.21,929.45 L310.31,930.63 L310.42,931.82 L310.52,933.02 L310.63,934.23 L310.74,935.45 L310.84,936.68 L310.95,937.92 L311.05,939.17 L311.16,940.43 L311.26,941.69 L311.37,942.96 L311.47,944.24 L311.57,945.53 L311.68,946.82 L311.78,948.12 L311.88,949.42 L311.98,950.73 L312.08,952.04 L312.18,953.36 L312.28,954.68 L312.38,956.00 L312.48,957.33 L312.58,958.66 L312.67,959.99 L312.77,961.33 L312.86,962.66 L312.96,964.00 L313.05,965.34 L313.14,966.67 L313.23,968.01 L313.33,969.35 L313.42,970.69 L313.50,972.02 L313.59,973.35 L313.68,974.68 L313.76,976.01 L313.85,977.34 L313.93,978.66 L314.01,979.98 L314.09,981.29 L314.17,982.60 L314.25,983.90 L314.33,985.20 L314.40,986.50 L314.48,987.78 L314.55,989.06 L314.62,990.33 L314.69,991.60 L314.76,992.86 L314.83,994.11 L314.90,995.35 L314.96,996.58 L315.02,997.81 L315.09,999.02 L315.15,1000.22 L315.20,1001.42 L315.26,1002.60 L315.32,1003.77 L315.37,1004.93 L315.42,1006.08 L315.47,1007.21 L315.52,1008.34 L315.57,1009.45 L315.62,1010.54 L315.66,1011.63 L315.70,1012.70 L315.74,1013.75 L315.78,1014.79 L315.82,1015.82 L315.86,1016.83 L315.89,1017.83 L315.92,1018.81 L315.95,1019.77 L315.98,1020.72 L316.01,1021.65 L316.03,1022.57 L316.05,1023.46 L316.07,1024.34 L316.09,1025.20 L316.11,1026.05 L316.13,1026.87 L316.14,1027.68 L316.15,1028.47 L316.16,1029.24 L316.17,1029.99 L316.18,1030.72 L316.18,1031.43 L316.19,1032.12 Z" fill="none" stroke="#481F70" stroke-width="3.4" stroke-linejoin="round" />
<path d="M383.01,881.61 L383.01,881.79 L382.98,882.00 L382.95,882.23 L382.89,882.48 L382.83,882.75 L382.75,883.05 L382.65,883.36 L382.54,883.70 L382.41,884.06 L382.27,884.44 L382.11,884.85 L381.94,885.27 L381.75,885.72 L381.55,886.19 L381.34,886.68 L381.11,887.18 L380.87,887.71 L380.61,888.27 L380.34,888.84 L380.05,889.43 L379.75,890.04 L379.43,890.67 L379.11,891.32 L378.76,891.99 L378.41,892.68 L378.04,893.38 L377.66,894.11 L377.26,894.86 L376.85,895.62 L376.43,896.40 L375.99,897.20 L375.54,898.02 L375.08,898.85 L374.61,899.70 L374.12,900.57 L373.62,901.46 L373.11,902.36 L372.59,903.28 L372.06,904.21 L371.51,905.16 L370.95,906.12 L370.39,907.10 L369.81,908.09 L369.22,909.10 L368.61,910.12 L368.00,911.16 L367.38,912.20 L366.75,913.27 L366.10,914.34 L365.45,915.43 L364.79,916.53 L364.12,917.64 L363.44,918.76 L362.75,919.89 L362.05,921.03 L361.34,922.19 L360.63,923.35 L359.90,924.52 L359.17,925.71 L358.43,926.90 L357.69,928.10 L356.93,929.31 L356.17,930.52 L355.40,931.75 L354.63,932.98 L353.85,934.22 L353.06,935.46 L352.27,936.71 L351.47,937.96 L350.67,939.22 L349.86,940.49 L349.04,941.76 L348.22,943.03 L347.40,944.31 L346.57,945.59 L345.74,946.88 L344.91,948.16 L344.07,949.45 L343.23,950.74 L342.39,952.03 L341.54,953.32 L340.69,954.61 L339.84,955.91 L338.99,957.20 L338.13,958.49 L337.28,959.78 L336.42,961.07 L335.57,962.36 L334.71,963.64 L333.85,964.93 L332.99,966.20 L332.13,967.48 L331.28,968.75 L330.42,970.02 L329.57,971.28 L328.71,972.54 L327.86,973.80 L327.01,975.04 L326.16,976.28 L325.31,977.52 L324.47,978.75 L323.63,979.97 L322.79,981.18 L321.96,982.39 L321.13,983.58 L320.30,984.77 L319.48,985.95 L318.66,987.12 L317.84,988.28 L317.03,989.43 L316.23,990.57 L315.43,991.70 L314.64,992.81 L313.85,993.92 L313.07,995.01 L312.30,996.09 L311.53,997.16 L310.77,998.22 L310.01,999.26 L309.27,1000.29 L308.53,1001.31 L307.80,1002.31 L307.07,1003.30 L306.36,1004.27 L305.65,1005.23 L304.95,1006.17 L304.26,1007.10 L303.58,1008.01 L302.91,1008.90 L302.25,1009.78 L301.60,1010.64 L300.95,1011.49 L300.32,1012.31 L299.70,1013.12 L299.09,1013.92 L298.48,1014.69 L297.89,1015.45 L297.31,1016.18 L296.75,1016.90 L296.19,1017.60 L295.64,1018.28 L295.11,1018.95 L294.59,1019.59 L294.08,1020.21 L293.58,1020.81 L293.09,1021.40 L292.62,1021.96 L292.16,1022.50 L291.71,1023.02 L291.27,1023.52 L290.85,1024.00 L290.44,1024.46 L290.04,1024.90 L289.66,1025.32 L289.29,1025.71 L288.94,1026.09 L288.59,1026.44 L288.27,1026.77 L287.95,1027.08 L287.65,1027.36 L287.36,1027.63 L287.09,1027.87 L286.83,1028.09 L286.59,1028.29 L286.36,1028.46 L286.15,1028.62 L285.95,1028.75 L285.76,1028.85 L285.59,1028.94 L285.43,1029.00 L285.29,1029.04 L285.16,1029.06 L285.05,1029.06 L284.95,1029.03 L284.87,1028.98 L284.81,1028.91 L284.75,1028.81 L284.72,1028.70 L284.69,1028.56 L284.69,1028.39 L284.69,1028.21 L284.72,1028.00 L284.75,1027.77 L284.81,1027.52 L284.87,1027.25 L284.95,1026.95 L285.05,1026.64 L285.16,1026.30 L285.29,1025.94 L285.43,1025.56 L285.59,1025.15 L285.76,1024.73 L285.95,1024.28 L286.15,1023.81 L286.36,1023.32 L286.59,1022.82 L286.83,1022.29 L287.09,1021.73 L287.36,1021.16 L287.65,1020.57 L287.95,1019.96 L288.27,1019.33 L288.59,1018.68 L288.94,1018.01 L289.29,1017.32 L289.66,1016.62 L290.04,1015.89 L290.44,1015.14 L290.85,1014.38 L291.27,1013.60 L291.71,1012.80 L292.16,1011.98 L292.62,1011.15 L293.09,1010.30 L293.58,1009.43 L294.08,1008.54 L294.59,1007.64 L295.11,1006.72 L295.64,1005.79 L296.19,1004.84 L296.75,1003.88 L297.31,1002.90 L297.89,1001.91 L298.48,1000.90 L299.09,999.88 L299.70,998.84 L300.32,997.80 L300.95,996.73 L301.60,995.66 L302.25,994.57 L302.91,993.47 L303.58,992.36 L304.26,991.24 L304.95,990.11 L305.65,988.97 L306.36,987.81 L307.07,986.65 L307.80,985.48 L308.53,984.29 L309.27,983.10 L310.01,981.90 L310.77,980.69 L311.53,979.48 L312.30,978.25 L313.07,977.02 L313.85,975.78 L314.64,974.54 L315.43,973.29 L316.23,972.04 L317.03,970.78 L317.84,969.51 L318.66,968.24 L319.48,966.97 L320.30,965.69 L321.13,964.41 L321.96,963.12 L322.79,961.84 L323.63,960.55 L324.47,959.26 L325.31,957.97 L326.16,956.68 L327.01,955.39 L327.86,954.09 L328.71,952.80 L329.57,951.51 L330.42,950.22 L331.28,948.93 L332.13,947.64 L332.99,946.36 L333.85,945.07 L334.71,943.80 L335.57,942.52 L336.42,941.25 L337.28,939.98 L338.13,938.72 L338.99,937.46 L339.84,936.20 L340.69,934.96 L341.54,933.72 L342.39,932.48 L343.23,931.25 L344.07,930.03 L344.91,928.82 L345.74,927.61 L346.57,926.42 L347.40,925.23 L348.22,924.05 L349.04,922.88 L349.86,921.72 L350.67,920.57 L351.47,919.43 L352.27,918.30 L353.06,917.19 L353.85,916.08 L354.63,914.99 L355.40,913.91 L356.17,912.84 L356.93,911.78 L357.69,910.74 L358.43,909.71 L359.17,908.69 L359.90,907.69 L360.63,906.70 L361.34,905.73 L362.05,904.77 L362.75,903.83 L363.44,902.90 L364.12,901.99 L364.79,901.10 L365.45,900.22 L366.10,899.36 L366.75,898.51 L367.38,897.69 L368.00,896.88 L368.61,896.08 L369.22,895.31 L369.81,894.55 L370.39,893.82 L370.95,893.10 L371.51,892.40 L372.06,891.72 L372.59,891.05 L373.11,890.41 L373.62,889.79 L374.12,889.19 L374.61,888.60 L375.08,888.04 L375.54,887.50 L375.99,886.98 L376.43,886.48 L376.85,886.00 L377.26,885.54 L377.66,885.10 L378.04,884.68 L378.41,884.29 L378.76,883.91 L379.11,883.56 L379.43,883.23 L379.75,882.92 L380.05,882.64 L380.34,882.37 L380.61,882.13 L380.87,881.91 L381.11,881.71 L381.34,881.54 L381.55,881.38 L381.75,881.25 L381.94,881.15 L382.11,881.06 L382.27,881.00 L382.41,880.96 L382.54,880.94 L382.65,880.94 L382.75,880.97 L382.83,881.02 L382.89,881.09 L382.95,881.19 L382.98,881.30 L383.01,881.44 Z" fill="none" stroke="#C46A0A" stroke-width="3.4" stroke-linejoin="round" />
<path d="M354.80,910.29 L354.80,911.08 L354.78,911.88 L354.76,912.70 L354.73,913.52 L354.69,914.37 L354.64,915.22 L354.58,916.08 L354.52,916.95 L354.44,917.84 L354.36,918.74 L354.27,919.64 L354.17,920.56 L354.06,921.48 L353.94,922.42 L353.81,923.36 L353.68,924.32 L353.53,925.28 L353.38,926.25 L353.22,927.23 L353.05,928.22 L352.87,929.21 L352.69,930.21 L352.49,931.22 L352.29,932.24 L352.08,933.26 L351.87,934.28 L351.64,935.31 L351.41,936.35 L351.16,937.40 L350.91,938.44 L350.66,939.49 L350.39,940.55 L350.12,941.61 L349.84,942.67 L349.56,943.74 L349.26,944.81 L348.96,945.88 L348.65,946.95 L348.34,948.02 L348.02,949.10 L347.69,950.18 L347.35,951.26 L347.01,952.33 L346.66,953.41 L346.31,954.49 L345.95,955.57 L345.58,956.65 L345.20,957.72 L344.83,958.80 L344.44,959.87 L344.05,960.94 L343.65,962.01 L343.25,963.07 L342.85,964.13 L342.43,965.19 L342.02,966.25 L341.59,967.30 L341.17,968.34 L340.74,969.38 L340.30,970.42 L339.86,971.45 L339.41,972.47 L338.97,973.49 L338.51,974.51 L338.06,975.51 L337.60,976.51 L337.13,977.50 L336.66,978.49 L336.19,979.46 L335.72,980.43 L335.24,981.39 L334.76,982.34 L334.28,983.28 L333.79,984.22 L333.31,985.14 L332.82,986.05 L332.32,986.95 L331.83,987.85 L331.33,988.73 L330.84,989.60 L330.34,990.46 L329.84,991.31 L329.33,992.14 L328.83,992.97 L328.33,993.78 L327.82,994.58 L327.32,995.37 L326.81,996.14 L326.31,996.90 L325.80,997.65 L325.29,998.38 L324.79,999.10 L324.28,999.81 L323.78,1000.50 L323.27,1001.17 L322.77,1001.84 L322.27,1002.48 L321.76,1003.11 L321.26,1003.73 L320.76,1004.33 L320.27,1004.91 L319.77,1005.48 L319.28,1006.04 L318.78,1006.57 L318.29,1007.09 L317.81,1007.60 L317.32,1008.08 L316.84,1008.55 L316.36,1009.01 L315.88,1009.44 L315.41,1009.86 L314.94,1010.26 L314.47,1010.65 L314.00,1011.01 L313.54,1011.36 L313.09,1011.69 L312.63,1012.00 L312.19,1012.30 L311.74,1012.57 L311.30,1012.83 L310.86,1013.07 L310.43,1013.29 L310.01,1013.50 L309.58,1013.68 L309.17,1013.85 L308.75,1013.99 L308.35,1014.12 L307.95,1014.23 L307.55,1014.32 L307.16,1014.40 L306.77,1014.45 L306.40,1014.48 L306.02,1014.50 L305.65,1014.50 L305.29,1014.47 L304.94,1014.43 L304.59,1014.37 L304.25,1014.30 L303.91,1014.20 L303.58,1014.08 L303.26,1013.95 L302.95,1013.80 L302.64,1013.62 L302.34,1013.43 L302.04,1013.22 L301.76,1013.00 L301.48,1012.75 L301.21,1012.49 L300.94,1012.21 L300.69,1011.91 L300.44,1011.59 L300.19,1011.25 L299.96,1010.90 L299.73,1010.53 L299.52,1010.14 L299.31,1009.73 L299.11,1009.30 L298.91,1008.86 L298.73,1008.40 L298.55,1007.93 L298.38,1007.44 L298.22,1006.93 L298.07,1006.40 L297.92,1005.86 L297.79,1005.30 L297.66,1004.73 L297.54,1004.14 L297.43,1003.53 L297.33,1002.91 L297.24,1002.27 L297.16,1001.62 L297.08,1000.96 L297.02,1000.28 L296.96,999.58 L296.91,998.87 L296.87,998.15 L296.84,997.41 L296.82,996.66 L296.80,995.89 L296.80,995.11 L296.80,994.32 L296.82,993.52 L296.84,992.70 L296.87,991.88 L296.91,991.03 L296.96,990.18 L297.02,989.32 L297.08,988.45 L297.16,987.56 L297.24,986.66 L297.33,985.76 L297.43,984.84 L297.54,983.92 L297.66,982.98 L297.79,982.04 L297.92,981.08 L298.07,980.12 L298.22,979.15 L298.38,978.17 L298.55,977.18 L298.73,976.19 L298.91,975.19 L299.11,974.18 L299.31,973.16 L299.52,972.14 L299.73,971.12 L299.96,970.09 L300.19,969.05 L300.44,968.00 L300.69,966.96 L300.94,965.91 L301.21,964.85 L301.48,963.79 L301.76,962.73 L302.04,961.66 L302.34,960.59 L302.64,959.52 L302.95,958.45 L303.26,957.38 L303.58,956.30 L303.91,955.22 L304.25,954.14 L304.59,953.07 L304.94,951.99 L305.29,950.91 L305.65,949.83 L306.02,948.75 L306.40,947.68 L306.77,946.60 L307.16,945.53 L307.55,944.46 L307.95,943.39 L308.35,942.33 L308.75,941.27 L309.17,940.21 L309.58,939.15 L310.01,938.10 L310.43,937.06 L310.86,936.02 L311.30,934.98 L311.74,933.95 L312.19,932.93 L312.63,931.91 L313.09,930.89 L313.54,929.89 L314.00,928.89 L314.47,927.90 L314.94,926.91 L315.41,925.94 L315.88,924.97 L316.36,924.01 L316.84,923.06 L317.32,922.12 L317.81,921.18 L318.29,920.26 L318.78,919.35 L319.28,918.45 L319.77,917.55 L320.27,916.67 L320.76,915.80 L321.26,914.94 L321.76,914.09 L322.27,913.26 L322.77,912.43 L323.27,911.62 L323.78,910.82 L324.28,910.03 L324.79,909.26 L325.29,908.50 L325.80,907.75 L326.31,907.02 L326.81,906.30 L327.32,905.59 L327.82,904.90 L328.33,904.23 L328.83,903.56 L329.33,902.92 L329.84,902.29 L330.34,901.67 L330.84,901.07 L331.33,900.49 L331.83,899.92 L332.32,899.36 L332.82,898.83 L333.31,898.31 L333.79,897.80 L334.28,897.32 L334.76,896.85 L335.24,896.39 L335.72,895.96 L336.19,895.54 L336.66,895.14 L337.13,894.75 L337.60,894.39 L338.06,894.04 L338.51,893.71 L338.97,893.40 L339.41,893.10 L339.86,892.83 L340.30,892.57 L340.74,892.33 L341.17,892.11 L341.59,891.90 L342.02,891.72 L342.43,891.55 L342.85,891.41 L343.25,891.28 L343.65,891.17 L344.05,891.08 L344.44,891.00 L344.83,890.95 L345.20,890.92 L345.58,890.90 L345.95,890.90 L346.31,890.93 L346.66,890.97 L347.01,891.03 L347.35,891.10 L347.69,891.20 L348.02,891.32 L348.34,891.45 L348.65,891.60 L348.96,891.78 L349.26,891.97 L349.56,892.18 L349.84,892.40 L350.12,892.65 L350.39,892.91 L350.66,893.19 L350.91,893.49 L351.16,893.81 L351.41,894.15 L351.64,894.50 L351.87,894.87 L352.08,895.26 L352.29,895.67 L352.49,896.10 L352.69,896.54 L352.87,897.00 L353.05,897.47 L353.22,897.96 L353.38,898.47 L353.53,899.00 L353.68,899.54 L353.81,900.10 L353.94,900.67 L354.06,901.26 L354.17,901.87 L354.27,902.49 L354.36,903.13 L354.44,903.78 L354.52,904.44 L354.58,905.12 L354.64,905.82 L354.69,906.53 L354.73,907.25 L354.76,907.99 L354.78,908.74 L354.80,909.51 Z" fill="none" stroke="#1F968B" stroke-width="3.4" stroke-linejoin="round" />
<path d="M394.69,956.78 L394.69,957.39 L394.67,958.00 L394.65,958.60 L394.62,959.20 L394.58,959.80 L394.53,960.39 L394.47,960.99 L394.40,961.57 L394.33,962.16 L394.24,962.74 L394.15,963.32 L394.04,963.89 L393.93,964.46 L393.81,965.03 L393.68,965.59 L393.54,966.15 L393.39,966.70 L393.24,967.24 L393.07,967.78 L392.90,968.32 L392.72,968.85 L392.53,969.38 L392.33,969.89 L392.13,970.41 L391.91,970.91 L391.69,971.41 L391.46,971.91 L391.22,972.40 L390.97,972.88 L390.71,973.35 L390.45,973.82 L390.18,974.28 L389.90,974.73 L389.62,975.17 L389.32,975.61 L389.02,976.04 L388.71,976.46 L388.40,976.87 L388.08,977.28 L387.75,977.67 L387.41,978.06 L387.07,978.44 L386.72,978.81 L386.36,979.18 L386.00,979.53 L385.63,979.88 L385.25,980.21 L384.87,980.54 L384.48,980.86 L384.09,981.16 L383.69,981.46 L383.28,981.75 L382.87,982.03 L382.45,982.30 L382.03,982.56 L381.60,982.81 L381.17,983.05 L380.73,983.28 L380.29,983.50 L379.85,983.71 L379.40,983.91 L378.94,984.10 L378.48,984.28 L378.02,984.45 L377.55,984.61 L377.08,984.76 L376.60,984.90 L376.12,985.02 L375.64,985.14 L375.16,985.24 L374.67,985.34 L374.18,985.42 L373.68,985.50 L373.18,985.56 L372.68,985.61 L372.18,985.65 L371.68,985.68 L371.17,985.70 L370.67,985.71 L370.16,985.71 L369.64,985.70 L369.13,985.67 L368.62,985.64 L368.10,985.60 L367.59,985.54 L367.07,985.47 L366.55,985.40 L366.04,985.31 L365.52,985.21 L365.00,985.10 L364.48,984.98 L363.96,984.85 L363.45,984.71 L362.93,984.55 L362.41,984.39 L361.90,984.22 L361.38,984.04 L360.87,983.84 L360.36,983.64 L359.84,983.43 L359.33,983.20 L358.83,982.97 L358.32,982.72 L357.82,982.47 L357.32,982.21 L356.82,981.93 L356.32,981.65 L355.82,981.36 L355.33,981.05 L354.84,980.74 L354.36,980.42 L353.88,980.09 L353.40,979.75 L352.92,979.40 L352.45,979.05 L351.98,978.68 L351.52,978.31 L351.06,977.92 L350.60,977.53 L350.15,977.13 L349.71,976.72 L349.27,976.31 L348.83,975.88 L348.40,975.45 L347.97,975.01 L347.55,974.56 L347.13,974.11 L346.72,973.65 L346.31,973.18 L345.91,972.70 L345.52,972.22 L345.13,971.73 L344.75,971.23 L344.37,970.73 L344.00,970.22 L343.64,969.71 L343.28,969.19 L342.93,968.66 L342.59,968.13 L342.25,967.59 L341.92,967.05 L341.60,966.50 L341.29,965.95 L340.98,965.39 L340.68,964.83 L340.38,964.26 L340.10,963.69 L339.82,963.11 L339.55,962.53 L339.29,961.95 L339.03,961.36 L338.78,960.77 L338.54,960.18 L338.31,959.58 L338.09,958.98 L337.87,958.38 L337.67,957.78 L337.47,957.17 L337.28,956.56 L337.10,955.95 L336.93,955.34 L336.76,954.72 L336.61,954.11 L336.46,953.49 L336.32,952.87 L336.19,952.26 L336.07,951.64 L335.96,951.02 L335.85,950.40 L335.76,949.78 L335.67,949.16 L335.60,948.54 L335.53,947.92 L335.47,947.30 L335.42,946.68 L335.38,946.07 L335.35,945.45 L335.33,944.84 L335.31,944.23 L335.31,943.62 L335.31,943.01 L335.33,942.40 L335.35,941.80 L335.38,941.20 L335.42,940.60 L335.47,940.01 L335.53,939.41 L335.60,938.83 L335.67,938.24 L335.76,937.66 L335.85,937.08 L335.96,936.51 L336.07,935.94 L336.19,935.37 L336.32,934.81 L336.46,934.25 L336.61,933.70 L336.76,933.16 L336.93,932.62 L337.10,932.08 L337.28,931.55 L337.47,931.02 L337.67,930.51 L337.87,929.99 L338.09,929.49 L338.31,928.99 L338.54,928.49 L338.78,928.00 L339.03,927.52 L339.29,927.05 L339.55,926.58 L339.82,926.12 L340.10,925.67 L340.38,925.23 L340.68,924.79 L340.98,924.36 L341.29,923.94 L341.60,923.53 L341.92,923.12 L342.25,922.73 L342.59,922.34 L342.93,921.96 L343.28,921.59 L343.64,921.22 L344.00,920.87 L344.37,920.52 L344.75,920.19 L345.13,919.86 L345.52,919.54 L345.91,919.24 L346.31,918.94 L346.72,918.65 L347.13,918.37 L347.55,918.10 L347.97,917.84 L348.40,917.59 L348.83,917.35 L349.27,917.12 L349.71,916.90 L350.15,916.69 L350.60,916.49 L351.06,916.30 L351.52,916.12 L351.98,915.95 L352.45,915.79 L352.92,915.64 L353.40,915.50 L353.88,915.38 L354.36,915.26 L354.84,915.16 L355.33,915.06 L355.82,914.98 L356.32,914.90 L356.82,914.84 L357.32,914.79 L357.82,914.75 L358.32,914.72 L358.83,914.70 L359.33,914.69 L359.84,914.69 L360.36,914.70 L360.87,914.73 L361.38,914.76 L361.90,914.80 L362.41,914.86 L362.93,914.93 L363.45,915.00 L363.96,915.09 L364.48,915.19 L365.00,915.30 L365.52,915.42 L366.04,915.55 L366.55,915.69 L367.07,915.85 L367.59,916.01 L368.10,916.18 L368.62,916.36 L369.13,916.56 L369.64,916.76 L370.16,916.97 L370.67,917.20 L371.17,917.43 L371.68,917.68 L372.18,917.93 L372.68,918.19 L373.18,918.47 L373.68,918.75 L374.18,919.04 L374.67,919.35 L375.16,919.66 L375.64,919.98 L376.12,920.31 L376.60,920.65 L377.08,921.00 L377.55,921.35 L378.02,921.72 L378.48,922.09 L378.94,922.48 L379.40,922.87 L379.85,923.27 L380.29,923.68 L380.73,924.09 L381.17,924.52 L381.60,924.95 L382.03,925.39 L382.45,925.84 L382.87,926.29 L383.28,926.75 L383.69,927.22 L384.09,927.70 L384.48,928.18 L384.87,928.67 L385.25,929.17 L385.63,929.67 L386.00,930.18 L386.36,930.69 L386.72,931.21 L387.07,931.74 L387.41,932.27 L387.75,932.81 L388.08,933.35 L388.40,933.90 L388.71,934.45 L389.02,935.01 L389.32,935.57 L389.62,936.14 L389.90,936.71 L390.18,937.29 L390.45,937.87 L390.71,938.45 L390.97,939.04 L391.22,939.63 L391.46,940.22 L391.69,940.82 L391.91,941.42 L392.13,942.02 L392.33,942.62 L392.53,943.23 L392.72,943.84 L392.90,944.45 L393.07,945.06 L393.24,945.68 L393.39,946.29 L393.54,946.91 L393.68,947.53 L393.81,948.14 L393.93,948.76 L394.04,949.38 L394.15,950.00 L394.24,950.62 L394.33,951.24 L394.40,951.86 L394.47,952.48 L394.53,953.10 L394.58,953.72 L394.62,954.33 L394.65,954.95 L394.67,955.56 L394.69,956.17 Z" fill="none" stroke="#55C667" stroke-width="3.4" stroke-linejoin="round" />
<path d="M466.16,1132.92 L466.15,1134.09 L466.11,1135.26 L466.06,1136.42 L465.98,1137.59 L465.88,1138.76 L465.76,1139.92 L465.61,1141.09 L465.45,1142.26 L465.26,1143.42 L465.05,1144.58 L464.81,1145.74 L464.56,1146.90 L464.28,1148.05 L463.99,1149.21 L463.67,1150.36 L463.32,1151.50 L462.96,1152.64 L462.58,1153.78 L462.17,1154.91 L461.75,1156.04 L461.30,1157.16 L460.83,1158.27 L460.34,1159.38 L459.83,1160.48 L459.30,1161.58 L458.75,1162.66 L458.18,1163.75 L457.59,1164.82 L456.98,1165.88 L456.35,1166.94 L455.71,1167.99 L455.04,1169.02 L454.35,1170.05 L453.65,1171.07 L452.92,1172.08 L452.18,1173.08 L451.42,1174.06 L450.64,1175.04 L449.85,1176.01 L449.04,1176.96 L448.21,1177.90 L447.36,1178.83 L446.50,1179.75 L445.62,1180.65 L444.72,1181.54 L443.81,1182.42 L442.88,1183.28 L441.94,1184.13 L440.99,1184.97 L440.01,1185.79 L439.03,1186.60 L438.03,1187.39 L437.02,1188.17 L435.99,1188.93 L434.95,1189.68 L433.90,1190.41 L432.83,1191.12 L431.75,1191.82 L430.66,1192.51 L429.56,1193.17 L428.45,1193.82 L427.33,1194.45 L426.20,1195.07 L425.05,1195.66 L423.90,1196.24 L422.74,1196.80 L421.57,1197.35 L420.39,1197.87 L419.20,1198.38 L418.00,1198.87 L416.80,1199.34 L415.58,1199.79 L414.37,1200.22 L413.14,1200.64 L411.91,1201.03 L410.67,1201.41 L409.43,1201.77 L408.18,1202.10 L406.93,1202.42 L405.68,1202.72 L404.42,1202.99 L403.15,1203.25 L401.89,1203.49 L400.62,1203.71 L399.35,1203.91 L398.07,1204.08 L396.80,1204.24 L395.52,1204.38 L394.24,1204.50 L392.97,1204.59 L391.69,1204.67 L390.41,1204.73 L389.14,1204.76 L387.86,1204.78 L386.59,1204.77 L385.32,1204.75 L384.05,1204.70 L382.78,1204.64 L381.52,1204.55 L380.26,1204.44 L379.00,1204.32 L377.75,1204.17 L376.50,1204.00 L375.26,1203.82 L374.02,1203.61 L372.79,1203.38 L371.57,1203.13 L370.35,1202.87 L369.14,1202.58 L367.93,1202.27 L366.74,1201.95 L365.55,1201.60 L364.37,1201.24 L363.20,1200.85 L362.03,1200.45 L360.88,1200.03 L359.74,1199.58 L358.60,1199.12 L357.48,1198.64 L356.37,1198.15 L355.27,1197.63 L354.18,1197.10 L353.10,1196.54 L352.04,1195.97 L350.99,1195.39 L349.95,1194.78 L348.92,1194.16 L347.90,1193.52 L346.91,1192.86 L345.92,1192.19 L344.95,1191.50 L343.99,1190.79 L343.05,1190.07 L342.12,1189.33 L341.21,1188.58 L340.32,1187.81 L339.44,1187.02 L338.57,1186.22 L337.73,1185.41 L336.90,1184.58 L336.09,1183.74 L335.29,1182.88 L334.51,1182.01 L333.75,1181.13 L333.01,1180.23 L332.29,1179.32 L331.58,1178.40 L330.90,1177.46 L330.23,1176.51 L329.58,1175.56 L328.95,1174.59 L328.34,1173.60 L327.75,1172.61 L327.18,1171.61 L326.63,1170.60 L326.10,1169.57 L325.59,1168.54 L325.10,1167.50 L324.64,1166.45 L324.19,1165.39 L323.76,1164.32 L323.36,1163.24 L322.97,1162.16 L322.61,1161.07 L322.27,1159.97 L321.95,1158.86 L321.65,1157.75 L321.37,1156.63 L321.12,1155.51 L320.89,1154.38 L320.68,1153.25 L320.49,1152.11 L320.32,1150.97 L320.17,1149.82 L320.05,1148.67 L319.95,1147.52 L319.87,1146.36 L319.82,1145.20 L319.79,1144.04 L319.77,1142.88 L319.79,1141.71 L319.82,1140.54 L319.87,1139.38 L319.95,1138.21 L320.05,1137.04 L320.17,1135.88 L320.32,1134.71 L320.49,1133.54 L320.68,1132.38 L320.89,1131.22 L321.12,1130.06 L321.37,1128.90 L321.65,1127.75 L321.95,1126.59 L322.27,1125.44 L322.61,1124.30 L322.97,1123.16 L323.36,1122.02 L323.76,1120.89 L324.19,1119.76 L324.64,1118.64 L325.10,1117.53 L325.59,1116.42 L326.10,1115.32 L326.63,1114.22 L327.18,1113.14 L327.75,1112.05 L328.34,1110.98 L328.95,1109.92 L329.58,1108.86 L330.23,1107.81 L330.90,1106.78 L331.58,1105.75 L332.29,1104.73 L333.01,1103.72 L333.75,1102.72 L334.51,1101.74 L335.29,1100.76 L336.09,1099.79 L336.90,1098.84 L337.73,1097.90 L338.57,1096.97 L339.44,1096.05 L340.32,1095.15 L341.21,1094.26 L342.12,1093.38 L343.05,1092.52 L343.99,1091.67 L344.95,1090.83 L345.92,1090.01 L346.91,1089.20 L347.90,1088.41 L348.92,1087.63 L349.95,1086.87 L350.99,1086.12 L352.04,1085.39 L353.10,1084.68 L354.18,1083.98 L355.27,1083.29 L356.37,1082.63 L357.48,1081.98 L358.60,1081.35 L359.74,1080.73 L360.88,1080.14 L362.03,1079.56 L363.20,1079.00 L364.37,1078.45 L365.55,1077.93 L366.74,1077.42 L367.93,1076.93 L369.14,1076.46 L370.35,1076.01 L371.57,1075.58 L372.79,1075.16 L374.02,1074.77 L375.26,1074.39 L376.50,1074.03 L377.75,1073.70 L379.00,1073.38 L380.26,1073.08 L381.52,1072.81 L382.78,1072.55 L384.05,1072.31 L385.32,1072.09 L386.59,1071.89 L387.86,1071.72 L389.14,1071.56 L390.41,1071.42 L391.69,1071.30 L392.97,1071.21 L394.24,1071.13 L395.52,1071.07 L396.80,1071.04 L398.07,1071.02 L399.35,1071.03 L400.62,1071.05 L401.89,1071.10 L403.15,1071.16 L404.42,1071.25 L405.68,1071.36 L406.93,1071.48 L408.18,1071.63 L409.43,1071.80 L410.67,1071.98 L411.91,1072.19 L413.14,1072.42 L414.37,1072.67 L415.58,1072.93 L416.80,1073.22 L418.00,1073.53 L419.20,1073.85 L420.39,1074.20 L421.57,1074.56 L422.74,1074.95 L423.90,1075.35 L425.05,1075.77 L426.20,1076.22 L427.33,1076.68 L428.45,1077.16 L429.56,1077.65 L430.66,1078.17 L431.75,1078.70 L432.83,1079.26 L433.90,1079.83 L434.95,1080.41 L435.99,1081.02 L437.02,1081.64 L438.03,1082.28 L439.03,1082.94 L440.01,1083.61 L440.99,1084.30 L441.94,1085.01 L442.88,1085.73 L443.81,1086.47 L444.72,1087.22 L445.62,1087.99 L446.50,1088.78 L447.36,1089.58 L448.21,1090.39 L449.04,1091.22 L449.85,1092.06 L450.64,1092.92 L451.42,1093.79 L452.18,1094.67 L452.92,1095.57 L453.65,1096.48 L454.35,1097.40 L455.04,1098.34 L455.71,1099.29 L456.35,1100.24 L456.98,1101.21 L457.59,1102.20 L458.18,1103.19 L458.75,1104.19 L459.30,1105.20 L459.83,1106.23 L460.34,1107.26 L460.83,1108.30 L461.30,1109.35 L461.75,1110.41 L462.17,1111.48 L462.58,1112.56 L462.96,1113.64 L463.32,1114.73 L463.67,1115.83 L463.99,1116.94 L464.28,1118.05 L464.56,1119.17 L464.81,1120.29 L465.05,1121.42 L465.26,1122.55 L465.45,1123.69 L465.61,1124.83 L465.76,1125.98 L465.88,1127.13 L465.98,1128.28 L466.06,1129.44 L466.11,1130.60 L466.15,1131.76 Z" fill="none" stroke="#FDE725" stroke-width="3.4" stroke-linejoin="round" />
<path d="M520.92,931.56 L520.91,932.43 L520.88,933.33 L520.84,934.23 L520.78,935.16 L520.70,936.09 L520.60,937.04 L520.48,938.01 L520.35,938.98 L520.19,939.98 L520.03,940.98 L519.84,942.00 L519.63,943.03 L519.41,944.07 L519.17,945.12 L518.91,946.18 L518.64,947.26 L518.35,948.34 L518.04,949.44 L517.71,950.55 L517.37,951.66 L517.01,952.79 L516.64,953.92 L516.24,955.07 L515.83,956.22 L515.41,957.38 L514.97,958.55 L514.51,959.72 L514.03,960.90 L513.54,962.09 L513.04,963.28 L512.52,964.48 L511.98,965.69 L511.43,966.90 L510.86,968.12 L510.28,969.34 L509.69,970.56 L509.07,971.79 L508.45,973.02 L507.81,974.25 L507.16,975.49 L506.49,976.73 L505.81,977.97 L505.12,979.21 L504.41,980.45 L503.69,981.70 L502.96,982.94 L502.21,984.18 L501.46,985.42 L500.69,986.67 L499.91,987.91 L499.12,989.15 L498.31,990.38 L497.50,991.62 L496.67,992.85 L495.84,994.08 L494.99,995.30 L494.14,996.52 L493.27,997.74 L492.39,998.95 L491.51,1000.16 L490.62,1001.36 L489.71,1002.56 L488.80,1003.75 L487.88,1004.93 L486.96,1006.11 L486.02,1007.28 L485.08,1008.44 L484.13,1009.59 L483.18,1010.74 L482.22,1011.88 L481.25,1013.01 L480.28,1014.12 L479.30,1015.23 L478.31,1016.33 L477.32,1017.42 L476.33,1018.50 L475.33,1019.57 L474.33,1020.62 L473.32,1021.67 L472.31,1022.70 L471.30,1023.72 L470.29,1024.73 L469.27,1025.72 L468.25,1026.71 L467.23,1027.67 L466.20,1028.63 L465.18,1029.57 L464.15,1030.50 L463.13,1031.41 L462.10,1032.30 L461.07,1033.19 L460.05,1034.05 L459.02,1034.90 L458.00,1035.74 L456.97,1036.55 L455.95,1037.36 L454.93,1038.14 L453.91,1038.91 L452.90,1039.66 L451.89,1040.39 L450.88,1041.11 L449.87,1041.81 L448.87,1042.49 L447.87,1043.15 L446.88,1043.79 L445.89,1044.42 L444.90,1045.02 L443.92,1045.61 L442.95,1046.18 L441.98,1046.72 L441.02,1047.25 L440.07,1047.76 L439.12,1048.25 L438.18,1048.72 L437.24,1049.17 L436.32,1049.60 L435.40,1050.00 L434.49,1050.39 L433.58,1050.76 L432.69,1051.10 L431.81,1051.43 L430.93,1051.73 L430.06,1052.01 L429.21,1052.28 L428.36,1052.52 L427.53,1052.74 L426.70,1052.93 L425.89,1053.11 L425.08,1053.26 L424.29,1053.40 L423.51,1053.51 L422.74,1053.60 L421.99,1053.67 L421.24,1053.71 L420.51,1053.74 L419.79,1053.74 L419.08,1053.72 L418.39,1053.68 L417.71,1053.62 L417.04,1053.54 L416.39,1053.43 L415.75,1053.31 L415.13,1053.16 L414.51,1052.99 L413.92,1052.80 L413.34,1052.58 L412.77,1052.35 L412.22,1052.09 L411.68,1051.82 L411.16,1051.52 L410.66,1051.20 L410.17,1050.86 L409.69,1050.50 L409.23,1050.12 L408.79,1049.72 L408.37,1049.30 L407.96,1048.85 L407.56,1048.39 L407.19,1047.91 L406.83,1047.40 L406.49,1046.88 L406.16,1046.34 L405.85,1045.78 L405.56,1045.20 L405.29,1044.60 L405.03,1043.98 L404.79,1043.34 L404.57,1042.68 L404.36,1042.01 L404.17,1041.32 L404.01,1040.61 L403.85,1039.88 L403.72,1039.13 L403.60,1038.37 L403.50,1037.59 L403.42,1036.79 L403.36,1035.98 L403.32,1035.15 L403.29,1034.30 L403.28,1033.44 L403.29,1032.57 L403.32,1031.67 L403.36,1030.77 L403.42,1029.84 L403.50,1028.91 L403.60,1027.96 L403.72,1026.99 L403.85,1026.02 L404.01,1025.02 L404.17,1024.02 L404.36,1023.00 L404.57,1021.97 L404.79,1020.93 L405.03,1019.88 L405.29,1018.82 L405.56,1017.74 L405.85,1016.66 L406.16,1015.56 L406.49,1014.45 L406.83,1013.34 L407.19,1012.21 L407.56,1011.08 L407.96,1009.93 L408.37,1008.78 L408.79,1007.62 L409.23,1006.45 L409.69,1005.28 L410.17,1004.10 L410.66,1002.91 L411.16,1001.72 L411.68,1000.52 L412.22,999.31 L412.77,998.10 L413.34,996.88 L413.92,995.66 L414.51,994.44 L415.13,993.21 L415.75,991.98 L416.39,990.75 L417.04,989.51 L417.71,988.27 L418.39,987.03 L419.08,985.79 L419.79,984.55 L420.51,983.30 L421.24,982.06 L421.99,980.82 L422.74,979.58 L423.51,978.33 L424.29,977.09 L425.08,975.85 L425.89,974.62 L426.70,973.38 L427.53,972.15 L428.36,970.92 L429.21,969.70 L430.06,968.48 L430.93,967.26 L431.81,966.05 L432.69,964.84 L433.58,963.64 L434.49,962.44 L435.40,961.25 L436.32,960.07 L437.24,958.89 L438.18,957.72 L439.12,956.56 L440.07,955.41 L441.02,954.26 L441.98,953.12 L442.95,951.99 L443.92,950.88 L444.90,949.77 L445.89,948.67 L446.88,947.58 L447.87,946.50 L448.87,945.43 L449.87,944.38 L450.88,943.33 L451.89,942.30 L452.90,941.28 L453.91,940.27 L454.93,939.28 L455.95,938.29 L456.97,937.33 L458.00,936.37 L459.02,935.43 L460.05,934.50 L461.07,933.59 L462.10,932.70 L463.13,931.81 L464.15,930.95 L465.18,930.10 L466.20,929.26 L467.23,928.45 L468.25,927.64 L469.27,926.86 L470.29,926.09 L471.30,925.34 L472.31,924.61 L473.32,923.89 L474.33,923.19 L475.33,922.51 L476.33,921.85 L477.32,921.21 L478.31,920.58 L479.30,919.98 L480.28,919.39 L481.25,918.82 L482.22,918.28 L483.18,917.75 L484.13,917.24 L485.08,916.75 L486.02,916.28 L486.96,915.83 L487.88,915.40 L488.80,915.00 L489.71,914.61 L490.62,914.24 L491.51,913.90 L492.39,913.57 L493.27,913.27 L494.14,912.99 L494.99,912.72 L495.84,912.48 L496.67,912.26 L497.50,912.07 L498.31,911.89 L499.12,911.74 L499.91,911.60 L500.69,911.49 L501.46,911.40 L502.21,911.33 L502.96,911.29 L503.69,911.26 L504.41,911.26 L505.12,911.28 L505.81,911.32 L506.49,911.38 L507.16,911.46 L507.81,911.57 L508.45,911.69 L509.07,911.84 L509.69,912.01 L510.28,912.20 L510.86,912.42 L511.43,912.65 L511.98,912.91 L512.52,913.18 L513.04,913.48 L513.54,913.80 L514.03,914.14 L514.51,914.50 L514.97,914.88 L515.41,915.28 L515.83,915.70 L516.24,916.15 L516.64,916.61 L517.01,917.09 L517.37,917.60 L517.71,918.12 L518.04,918.66 L518.35,919.22 L518.64,919.80 L518.91,920.40 L519.17,921.02 L519.41,921.66 L519.63,922.32 L519.84,922.99 L520.03,923.68 L520.19,924.39 L520.35,925.12 L520.48,925.87 L520.60,926.63 L520.70,927.41 L520.78,928.21 L520.84,929.02 L520.88,929.85 L520.91,930.70 Z" fill="none" stroke="#35B779" stroke-width="3.4" stroke-linejoin="round" />
<path d="M507.10,939.93 L507.10,940.82 L507.08,941.73 L507.06,942.66 L507.03,943.61 L506.99,944.59 L506.94,945.60 L506.88,946.62 L506.82,947.67 L506.74,948.74 L506.66,949.83 L506.57,950.94 L506.46,952.08 L506.35,953.23 L506.24,954.41 L506.11,955.60 L505.97,956.82 L505.83,958.05 L505.68,959.30 L505.51,960.57 L505.35,961.86 L505.17,963.17 L504.98,964.49 L504.79,965.83 L504.58,967.19 L504.37,968.57 L504.15,969.95 L503.93,971.36 L503.69,972.78 L503.45,974.21 L503.20,975.66 L502.94,977.12 L502.68,978.60 L502.41,980.08 L502.12,981.58 L501.84,983.09 L501.54,984.61 L501.24,986.15 L500.93,987.69 L500.61,989.24 L500.29,990.81 L499.96,992.38 L499.63,993.96 L499.28,995.54 L498.93,997.14 L498.58,998.74 L498.21,1000.35 L497.85,1001.96 L497.47,1003.58 L497.09,1005.21 L496.71,1006.84 L496.31,1008.47 L495.92,1010.11 L495.51,1011.75 L495.10,1013.39 L494.69,1015.04 L494.27,1016.68 L493.85,1018.33 L493.42,1019.98 L492.99,1021.62 L492.55,1023.27 L492.11,1024.92 L491.66,1026.56 L491.21,1028.20 L490.76,1029.84 L490.30,1031.48 L489.84,1033.11 L489.37,1034.74 L488.90,1036.37 L488.43,1037.99 L487.95,1039.60 L487.47,1041.21 L486.99,1042.81 L486.51,1044.41 L486.02,1046.00 L485.53,1047.58 L485.04,1049.15 L484.55,1050.71 L484.05,1052.26 L483.55,1053.81 L483.05,1055.34 L482.55,1056.86 L482.05,1058.37 L481.55,1059.87 L481.04,1061.36 L480.54,1062.83 L480.03,1064.30 L479.52,1065.74 L479.02,1067.18 L478.51,1068.60 L478.00,1070.00 L477.49,1071.39 L476.98,1072.77 L476.48,1074.13 L475.97,1075.47 L475.46,1076.79 L474.96,1078.10 L474.45,1079.39 L473.95,1080.66 L473.45,1081.91 L472.95,1083.15 L472.45,1084.36 L471.95,1085.56 L471.45,1086.73 L470.96,1087.89 L470.47,1089.02 L469.98,1090.14 L469.49,1091.23 L469.01,1092.30 L468.53,1093.35 L468.05,1094.37 L467.57,1095.38 L467.10,1096.36 L466.63,1097.31 L466.16,1098.25 L465.70,1099.16 L465.24,1100.04 L464.79,1100.90 L464.34,1101.74 L463.89,1102.55 L463.45,1103.34 L463.01,1104.10 L462.58,1104.84 L462.15,1105.55 L461.73,1106.23 L461.31,1106.89 L460.90,1107.52 L460.49,1108.12 L460.08,1108.70 L459.69,1109.25 L459.29,1109.77 L458.91,1110.27 L458.53,1110.74 L458.15,1111.18 L457.79,1111.59 L457.42,1111.98 L457.07,1112.33 L456.72,1112.66 L456.37,1112.96 L456.04,1113.23 L455.71,1113.48 L455.39,1113.69 L455.07,1113.88 L454.76,1114.04 L454.46,1114.17 L454.16,1114.27 L453.88,1114.34 L453.59,1114.39 L453.32,1114.40 L453.06,1114.39 L452.80,1114.34 L452.55,1114.27 L452.31,1114.17 L452.07,1114.04 L451.85,1113.89 L451.63,1113.70 L451.42,1113.48 L451.21,1113.24 L451.02,1112.97 L450.83,1112.67 L450.65,1112.34 L450.49,1111.99 L450.32,1111.60 L450.17,1111.19 L450.03,1110.75 L449.89,1110.28 L449.76,1109.79 L449.65,1109.26 L449.54,1108.72 L449.43,1108.14 L449.34,1107.54 L449.26,1106.91 L449.18,1106.25 L449.12,1105.57 L449.06,1104.86 L449.01,1104.12 L448.97,1103.36 L448.94,1102.58 L448.92,1101.77 L448.90,1100.93 L448.90,1100.07 L448.90,1099.18 L448.92,1098.27 L448.94,1097.34 L448.97,1096.39 L449.01,1095.41 L449.06,1094.40 L449.12,1093.38 L449.18,1092.33 L449.26,1091.26 L449.34,1090.17 L449.43,1089.06 L449.54,1087.92 L449.65,1086.77 L449.76,1085.59 L449.89,1084.40 L450.03,1083.18 L450.17,1081.95 L450.32,1080.70 L450.49,1079.43 L450.65,1078.14 L450.83,1076.83 L451.02,1075.51 L451.21,1074.17 L451.42,1072.81 L451.63,1071.43 L451.85,1070.05 L452.07,1068.64 L452.31,1067.22 L452.55,1065.79 L452.80,1064.34 L453.06,1062.88 L453.32,1061.40 L453.59,1059.92 L453.88,1058.42 L454.16,1056.91 L454.46,1055.39 L454.76,1053.85 L455.07,1052.31 L455.39,1050.76 L455.71,1049.19 L456.04,1047.62 L456.37,1046.04 L456.72,1044.46 L457.07,1042.86 L457.42,1041.26 L457.79,1039.65 L458.15,1038.04 L458.53,1036.42 L458.91,1034.79 L459.29,1033.16 L459.69,1031.53 L460.08,1029.89 L460.49,1028.25 L460.90,1026.61 L461.31,1024.96 L461.73,1023.32 L462.15,1021.67 L462.58,1020.02 L463.01,1018.38 L463.45,1016.73 L463.89,1015.08 L464.34,1013.44 L464.79,1011.80 L465.24,1010.16 L465.70,1008.52 L466.16,1006.89 L466.63,1005.26 L467.10,1003.63 L467.57,1002.01 L468.05,1000.40 L468.53,998.79 L469.01,997.19 L469.49,995.59 L469.98,994.00 L470.47,992.42 L470.96,990.85 L471.45,989.29 L471.95,987.74 L472.45,986.19 L472.95,984.66 L473.45,983.14 L473.95,981.63 L474.45,980.13 L474.96,978.64 L475.46,977.17 L475.97,975.70 L476.48,974.26 L476.98,972.82 L477.49,971.40 L478.00,970.00 L478.51,968.61 L479.02,967.23 L479.52,965.87 L480.03,964.53 L480.54,963.21 L481.04,961.90 L481.55,960.61 L482.05,959.34 L482.55,958.09 L483.05,956.85 L483.55,955.64 L484.05,954.44 L484.55,953.27 L485.04,952.11 L485.53,950.98 L486.02,949.86 L486.51,948.77 L486.99,947.70 L487.47,946.65 L487.95,945.63 L488.43,944.62 L488.90,943.64 L489.37,942.69 L489.84,941.75 L490.30,940.84 L490.76,939.96 L491.21,939.10 L491.66,938.26 L492.11,937.45 L492.55,936.66 L492.99,935.90 L493.42,935.16 L493.85,934.45 L494.27,933.77 L494.69,933.11 L495.10,932.48 L495.51,931.88 L495.92,931.30 L496.31,930.75 L496.71,930.23 L497.09,929.73 L497.47,929.26 L497.85,928.82 L498.21,928.41 L498.58,928.02 L498.93,927.67 L499.28,927.34 L499.63,927.04 L499.96,926.77 L500.29,926.52 L500.61,926.31 L500.93,926.12 L501.24,925.96 L501.54,925.83 L501.84,925.73 L502.12,925.66 L502.41,925.61 L502.68,925.60 L502.94,925.61 L503.20,925.66 L503.45,925.73 L503.69,925.83 L503.93,925.96 L504.15,926.11 L504.37,926.30 L504.58,926.52 L504.79,926.76 L504.98,927.03 L505.17,927.33 L505.35,927.66 L505.51,928.01 L505.68,928.40 L505.83,928.81 L505.97,929.25 L506.11,929.72 L506.24,930.21 L506.35,930.74 L506.46,931.28 L506.57,931.86 L506.66,932.46 L506.74,933.09 L506.82,933.75 L506.88,934.43 L506.94,935.14 L506.99,935.88 L507.03,936.64 L507.06,937.42 L507.08,938.23 L507.10,939.07 Z" fill="none" stroke="#2D708E" stroke-width="3.4" stroke-linejoin="round" />
<path d="M537.00,939.64 L537.00,940.58 L536.98,941.54 L536.96,942.51 L536.93,943.49 L536.89,944.49 L536.85,945.50 L536.79,946.52 L536.73,947.55 L536.65,948.59 L536.57,949.64 L536.48,950.71 L536.38,951.78 L536.28,952.87 L536.16,953.96 L536.04,955.06 L535.91,956.18 L535.77,957.30 L535.62,958.43 L535.46,959.56 L535.30,960.71 L535.12,961.86 L534.94,963.02 L534.75,964.18 L534.56,965.36 L534.35,966.53 L534.14,967.72 L533.92,968.90 L533.69,970.10 L533.46,971.29 L533.22,972.49 L532.96,973.70 L532.71,974.91 L532.44,976.12 L532.17,977.33 L531.89,978.55 L531.60,979.76 L531.31,980.98 L531.01,982.20 L530.70,983.42 L530.39,984.64 L530.07,985.86 L529.74,987.09 L529.41,988.30 L529.07,989.52 L528.73,990.74 L528.37,991.95 L528.02,993.17 L527.65,994.38 L527.28,995.58 L526.91,996.79 L526.53,997.99 L526.14,999.18 L525.75,1000.37 L525.35,1001.56 L524.95,1002.74 L524.55,1003.92 L524.14,1005.09 L523.72,1006.25 L523.30,1007.41 L522.88,1008.56 L522.45,1009.70 L522.01,1010.83 L521.58,1011.96 L521.13,1013.08 L520.69,1014.19 L520.24,1015.29 L519.79,1016.38 L519.33,1017.46 L518.87,1018.53 L518.41,1019.59 L517.95,1020.64 L517.48,1021.68 L517.01,1022.71 L516.54,1023.73 L516.06,1024.73 L515.58,1025.72 L515.10,1026.70 L514.62,1027.67 L514.14,1028.62 L513.66,1029.56 L513.17,1030.49 L512.68,1031.40 L512.19,1032.30 L511.70,1033.18 L511.21,1034.05 L510.72,1034.90 L510.23,1035.74 L509.74,1036.56 L509.24,1037.37 L508.75,1038.16 L508.26,1038.93 L507.76,1039.69 L507.27,1040.43 L506.78,1041.15 L506.29,1041.86 L505.80,1042.55 L505.31,1043.22 L504.82,1043.87 L504.33,1044.51 L503.84,1045.13 L503.36,1045.72 L502.88,1046.30 L502.40,1046.86 L501.92,1047.41 L501.44,1047.93 L500.96,1048.43 L500.49,1048.91 L500.02,1049.38 L499.55,1049.82 L499.09,1050.25 L498.63,1050.65 L498.17,1051.04 L497.71,1051.40 L497.26,1051.74 L496.81,1052.07 L496.37,1052.37 L495.92,1052.65 L495.49,1052.91 L495.05,1053.15 L494.62,1053.37 L494.20,1053.57 L493.78,1053.75 L493.36,1053.90 L492.95,1054.04 L492.55,1054.15 L492.15,1054.24 L491.75,1054.31 L491.36,1054.36 L490.97,1054.39 L490.59,1054.40 L490.22,1054.39 L489.85,1054.35 L489.48,1054.29 L489.13,1054.22 L488.77,1054.12 L488.43,1054.00 L488.09,1053.85 L487.76,1053.69 L487.43,1053.51 L487.11,1053.30 L486.80,1053.08 L486.49,1052.83 L486.19,1052.56 L485.90,1052.27 L485.61,1051.97 L485.33,1051.64 L485.06,1051.29 L484.79,1050.92 L484.54,1050.53 L484.28,1050.11 L484.04,1049.68 L483.81,1049.23 L483.58,1048.76 L483.36,1048.27 L483.15,1047.76 L482.94,1047.24 L482.75,1046.69 L482.56,1046.12 L482.38,1045.54 L482.20,1044.93 L482.04,1044.31 L481.88,1043.67 L481.73,1043.01 L481.59,1042.33 L481.46,1041.64 L481.34,1040.93 L481.22,1040.20 L481.12,1039.45 L481.02,1038.69 L480.93,1037.91 L480.85,1037.11 L480.77,1036.30 L480.71,1035.48 L480.65,1034.63 L480.61,1033.77 L480.57,1032.90 L480.54,1032.01 L480.52,1031.11 L480.50,1030.19 L480.50,1029.26 L480.50,1028.32 L480.52,1027.36 L480.54,1026.39 L480.57,1025.41 L480.61,1024.41 L480.65,1023.40 L480.71,1022.38 L480.77,1021.35 L480.85,1020.31 L480.93,1019.26 L481.02,1018.19 L481.12,1017.12 L481.22,1016.03 L481.34,1014.94 L481.46,1013.84 L481.59,1012.72 L481.73,1011.60 L481.88,1010.47 L482.04,1009.34 L482.20,1008.19 L482.38,1007.04 L482.56,1005.88 L482.75,1004.72 L482.94,1003.54 L483.15,1002.37 L483.36,1001.18 L483.58,1000.00 L483.81,998.80 L484.04,997.61 L484.28,996.41 L484.54,995.20 L484.79,993.99 L485.06,992.78 L485.33,991.57 L485.61,990.35 L485.90,989.14 L486.19,987.92 L486.49,986.70 L486.80,985.48 L487.11,984.26 L487.43,983.04 L487.76,981.81 L488.09,980.60 L488.43,979.38 L488.77,978.16 L489.13,976.95 L489.48,975.73 L489.85,974.52 L490.22,973.32 L490.59,972.11 L490.97,970.91 L491.36,969.72 L491.75,968.53 L492.15,967.34 L492.55,966.16 L492.95,964.98 L493.36,963.81 L493.78,962.65 L494.20,961.49 L494.62,960.34 L495.05,959.20 L495.49,958.07 L495.92,956.94 L496.37,955.82 L496.81,954.71 L497.26,953.61 L497.71,952.52 L498.17,951.44 L498.63,950.37 L499.09,949.31 L499.55,948.26 L500.02,947.22 L500.49,946.19 L500.96,945.17 L501.44,944.17 L501.92,943.18 L502.40,942.20 L502.88,941.23 L503.36,940.28 L503.84,939.34 L504.33,938.41 L504.82,937.50 L505.31,936.60 L505.80,935.72 L506.29,934.85 L506.78,934.00 L507.27,933.16 L507.76,932.34 L508.26,931.53 L508.75,930.74 L509.24,929.97 L509.74,929.21 L510.23,928.47 L510.72,927.75 L511.21,927.04 L511.70,926.35 L512.19,925.68 L512.68,925.03 L513.17,924.39 L513.66,923.77 L514.14,923.18 L514.62,922.60 L515.10,922.04 L515.58,921.49 L516.06,920.97 L516.54,920.47 L517.01,919.99 L517.48,919.52 L517.95,919.08 L518.41,918.65 L518.87,918.25 L519.33,917.86 L519.79,917.50 L520.24,917.16 L520.69,916.83 L521.13,916.53 L521.58,916.25 L522.01,915.99 L522.45,915.75 L522.88,915.53 L523.30,915.33 L523.72,915.15 L524.14,915.00 L524.55,914.86 L524.95,914.75 L525.35,914.66 L525.75,914.59 L526.14,914.54 L526.53,914.51 L526.91,914.50 L527.28,914.51 L527.65,914.55 L528.02,914.61 L528.37,914.68 L528.73,914.78 L529.07,914.90 L529.41,915.05 L529.74,915.21 L530.07,915.39 L530.39,915.60 L530.70,915.82 L531.01,916.07 L531.31,916.34 L531.60,916.63 L531.89,916.93 L532.17,917.26 L532.44,917.61 L532.71,917.98 L532.96,918.37 L533.22,918.79 L533.46,919.22 L533.69,919.67 L533.92,920.14 L534.14,920.63 L534.35,921.14 L534.56,921.66 L534.75,922.21 L534.94,922.78 L535.12,923.36 L535.30,923.97 L535.46,924.59 L535.62,925.23 L535.77,925.89 L535.91,926.57 L536.04,927.26 L536.16,927.97 L536.28,928.70 L536.38,929.45 L536.48,930.21 L536.57,930.99 L536.65,931.79 L536.73,932.60 L536.79,933.42 L536.85,934.27 L536.89,935.13 L536.93,936.00 L536.96,936.89 L536.98,937.79 L537.00,938.71 Z" fill="none" stroke="#484E54" stroke-width="3.4" stroke-linejoin="round" />
<path d="M517.90,1020.16 L517.90,1021.49 L517.89,1022.81 L517.87,1024.12 L517.85,1025.41 L517.83,1026.68 L517.79,1027.94 L517.75,1029.18 L517.71,1030.41 L517.66,1031.62 L517.60,1032.81 L517.54,1033.98 L517.47,1035.14 L517.40,1036.28 L517.32,1037.40 L517.23,1038.50 L517.14,1039.58 L517.04,1040.64 L516.94,1041.68 L516.83,1042.70 L516.72,1043.70 L516.60,1044.68 L516.47,1045.63 L516.34,1046.57 L516.21,1047.48 L516.06,1048.38 L515.92,1049.24 L515.76,1050.09 L515.61,1050.92 L515.44,1051.72 L515.27,1052.49 L515.10,1053.25 L514.92,1053.97 L514.74,1054.68 L514.55,1055.36 L514.36,1056.02 L514.16,1056.65 L513.95,1057.26 L513.75,1057.84 L513.53,1058.39 L513.31,1058.92 L513.09,1059.43 L512.87,1059.91 L512.63,1060.36 L512.40,1060.79 L512.16,1061.19 L511.92,1061.56 L511.67,1061.91 L511.41,1062.23 L511.16,1062.53 L510.90,1062.80 L510.63,1063.04 L510.37,1063.25 L510.10,1063.44 L509.82,1063.60 L509.54,1063.73 L509.26,1063.84 L508.97,1063.92 L508.69,1063.97 L508.39,1064.00 L508.10,1064.00 L507.80,1063.97 L507.50,1063.91 L507.20,1063.83 L506.89,1063.71 L506.58,1063.58 L506.27,1063.41 L505.96,1063.22 L505.64,1063.00 L505.32,1062.75 L505.00,1062.48 L504.68,1062.18 L504.36,1061.86 L504.03,1061.50 L503.70,1061.13 L503.37,1060.72 L503.04,1060.29 L502.71,1059.83 L502.38,1059.35 L502.04,1058.84 L501.70,1058.30 L501.37,1057.74 L501.03,1057.16 L500.69,1056.55 L500.35,1055.91 L500.01,1055.25 L499.67,1054.57 L499.33,1053.86 L498.98,1053.12 L498.64,1052.37 L498.30,1051.59 L497.96,1050.78 L497.62,1049.95 L497.27,1049.10 L496.93,1048.23 L496.59,1047.34 L496.25,1046.42 L495.91,1045.48 L495.57,1044.52 L495.23,1043.54 L494.90,1042.53 L494.56,1041.51 L494.22,1040.47 L493.89,1039.40 L493.56,1038.32 L493.23,1037.21 L492.90,1036.09 L492.57,1034.95 L492.24,1033.79 L491.92,1032.62 L491.60,1031.42 L491.28,1030.21 L490.96,1028.98 L490.64,1027.73 L490.33,1026.47 L490.02,1025.20 L489.71,1023.90 L489.40,1022.60 L489.10,1021.27 L488.80,1019.94 L488.50,1018.59 L488.21,1017.22 L487.91,1015.85 L487.63,1014.46 L487.34,1013.06 L487.06,1011.64 L486.78,1010.22 L486.50,1008.79 L486.23,1007.34 L485.97,1005.89 L485.70,1004.42 L485.44,1002.95 L485.19,1001.47 L484.93,999.98 L484.68,998.48 L484.44,996.97 L484.20,995.46 L483.97,993.94 L483.73,992.42 L483.51,990.89 L483.29,989.35 L483.07,987.82 L482.85,986.27 L482.65,984.73 L482.44,983.18 L482.24,981.62 L482.05,980.07 L481.86,978.52 L481.68,976.96 L481.50,975.40 L481.33,973.84 L481.16,972.29 L480.99,970.73 L480.84,969.17 L480.68,967.62 L480.54,966.07 L480.39,964.52 L480.26,962.97 L480.13,961.43 L480.00,959.89 L479.88,958.36 L479.77,956.83 L479.66,955.31 L479.56,953.79 L479.46,952.28 L479.37,950.78 L479.28,949.28 L479.20,947.79 L479.13,946.31 L479.06,944.84 L479.00,943.37 L478.94,941.92 L478.89,940.48 L478.85,939.04 L478.81,937.62 L478.77,936.21 L478.75,934.81 L478.73,933.43 L478.71,932.05 L478.70,930.69 L478.70,929.34 L478.70,928.01 L478.71,926.69 L478.73,925.38 L478.75,924.09 L478.77,922.82 L478.81,921.56 L478.85,920.32 L478.89,919.09 L478.94,917.88 L479.00,916.69 L479.06,915.52 L479.13,914.36 L479.20,913.22 L479.28,912.10 L479.37,911.00 L479.46,909.92 L479.56,908.86 L479.66,907.82 L479.77,906.80 L479.88,905.80 L480.00,904.82 L480.13,903.87 L480.26,902.93 L480.39,902.02 L480.54,901.12 L480.68,900.26 L480.84,899.41 L480.99,898.58 L481.16,897.78 L481.33,897.01 L481.50,896.25 L481.68,895.53 L481.86,894.82 L482.05,894.14 L482.24,893.48 L482.44,892.85 L482.65,892.24 L482.85,891.66 L483.07,891.11 L483.29,890.58 L483.51,890.07 L483.73,889.59 L483.97,889.14 L484.20,888.71 L484.44,888.31 L484.68,887.94 L484.93,887.59 L485.19,887.27 L485.44,886.97 L485.70,886.70 L485.97,886.46 L486.23,886.25 L486.50,886.06 L486.78,885.90 L487.06,885.77 L487.34,885.66 L487.63,885.58 L487.91,885.53 L488.21,885.50 L488.50,885.50 L488.80,885.53 L489.10,885.59 L489.40,885.67 L489.71,885.79 L490.02,885.92 L490.33,886.09 L490.64,886.28 L490.96,886.50 L491.28,886.75 L491.60,887.02 L491.92,887.32 L492.24,887.64 L492.57,888.00 L492.90,888.37 L493.23,888.78 L493.56,889.21 L493.89,889.67 L494.22,890.15 L494.56,890.66 L494.90,891.20 L495.23,891.76 L495.57,892.34 L495.91,892.95 L496.25,893.59 L496.59,894.25 L496.93,894.93 L497.27,895.64 L497.62,896.38 L497.96,897.13 L498.30,897.91 L498.64,898.72 L498.98,899.55 L499.33,900.40 L499.67,901.27 L500.01,902.16 L500.35,903.08 L500.69,904.02 L501.03,904.98 L501.37,905.96 L501.70,906.97 L502.04,907.99 L502.38,909.03 L502.71,910.10 L503.04,911.18 L503.37,912.29 L503.70,913.41 L504.03,914.55 L504.36,915.71 L504.68,916.88 L505.00,918.08 L505.32,919.29 L505.64,920.52 L505.96,921.77 L506.27,923.03 L506.58,924.30 L506.89,925.60 L507.20,926.90 L507.50,928.23 L507.80,929.56 L508.10,930.91 L508.39,932.28 L508.69,933.65 L508.97,935.04 L509.26,936.44 L509.54,937.86 L509.82,939.28 L510.10,940.71 L510.37,942.16 L510.63,943.61 L510.90,945.08 L511.16,946.55 L511.41,948.03 L511.67,949.52 L511.92,951.02 L512.16,952.53 L512.40,954.04 L512.63,955.56 L512.87,957.08 L513.09,958.61 L513.31,960.15 L513.53,961.68 L513.75,963.23 L513.95,964.77 L514.16,966.32 L514.36,967.88 L514.55,969.43 L514.74,970.98 L514.92,972.54 L515.10,974.10 L515.27,975.66 L515.44,977.21 L515.61,978.77 L515.76,980.33 L515.92,981.88 L516.06,983.43 L516.21,984.98 L516.34,986.53 L516.47,988.07 L516.60,989.61 L516.72,991.14 L516.83,992.67 L516.94,994.19 L517.04,995.71 L517.14,997.22 L517.23,998.72 L517.32,1000.22 L517.40,1001.71 L517.47,1003.19 L517.54,1004.66 L517.60,1006.13 L517.66,1007.58 L517.71,1009.02 L517.75,1010.46 L517.79,1011.88 L517.83,1013.29 L517.85,1014.69 L517.87,1016.07 L517.89,1017.45 L517.90,1018.81 Z" fill="none" stroke="#E4C50D" stroke-width="3.4" stroke-linejoin="round" />
<path d="M559.67,915.79 L559.66,916.23 L559.64,916.70 L559.60,917.18 L559.54,917.69 L559.47,918.21 L559.38,918.75 L559.28,919.31 L559.16,919.89 L559.03,920.49 L558.87,921.11 L558.71,921.74 L558.52,922.39 L558.33,923.06 L558.11,923.75 L557.88,924.46 L557.64,925.18 L557.38,925.92 L557.10,926.67 L556.81,927.45 L556.50,928.24 L556.18,929.04 L555.84,929.86 L555.49,930.70 L555.13,931.55 L554.75,932.42 L554.35,933.30 L553.94,934.20 L553.52,935.11 L553.08,936.03 L552.63,936.97 L552.16,937.92 L551.68,938.88 L551.19,939.86 L550.68,940.85 L550.17,941.85 L549.63,942.87 L549.09,943.89 L548.53,944.93 L547.96,945.98 L547.37,947.04 L546.78,948.10 L546.17,949.18 L545.55,950.27 L544.92,951.37 L544.27,952.47 L543.62,953.59 L542.95,954.71 L542.28,955.85 L541.59,956.98 L540.89,958.13 L540.19,959.28 L539.47,960.44 L538.74,961.61 L538.00,962.78 L537.25,963.96 L536.50,965.14 L535.73,966.33 L534.96,967.52 L534.18,968.72 L533.39,969.92 L532.59,971.12 L531.78,972.33 L530.97,973.54 L530.15,974.75 L529.32,975.96 L528.48,977.17 L527.64,978.39 L526.79,979.61 L525.94,980.82 L525.08,982.04 L524.22,983.26 L523.35,984.47 L522.47,985.69 L521.59,986.90 L520.71,988.11 L519.82,989.32 L518.93,990.53 L518.03,991.73 L517.13,992.93 L516.23,994.13 L515.32,995.32 L514.42,996.51 L513.51,997.69 L512.60,998.87 L511.68,1000.04 L510.77,1001.21 L509.85,1002.37 L508.93,1003.52 L508.02,1004.67 L507.10,1005.81 L506.18,1006.94 L505.27,1008.07 L504.35,1009.18 L503.43,1010.29 L502.52,1011.39 L501.60,1012.48 L500.69,1013.56 L499.78,1014.63 L498.88,1015.69 L497.97,1016.74 L497.07,1017.78 L496.17,1018.80 L495.27,1019.82 L494.38,1020.82 L493.49,1021.81 L492.61,1022.79 L491.73,1023.76 L490.85,1024.71 L489.98,1025.65 L489.12,1026.58 L488.26,1027.49 L487.41,1028.39 L486.56,1029.27 L485.72,1030.14 L484.88,1030.99 L484.05,1031.83 L483.23,1032.65 L482.42,1033.46 L481.61,1034.25 L480.81,1035.03 L480.02,1035.79 L479.24,1036.53 L478.47,1037.25 L477.70,1037.96 L476.95,1038.65 L476.20,1039.32 L475.46,1039.98 L474.73,1040.62 L474.01,1041.23 L473.31,1041.83 L472.61,1042.42 L471.92,1042.98 L471.25,1043.52 L470.58,1044.05 L469.93,1044.55 L469.28,1045.04 L468.65,1045.51 L468.03,1045.95 L467.42,1046.38 L466.83,1046.79 L466.24,1047.18 L465.67,1047.54 L465.11,1047.89 L464.57,1048.22 L464.03,1048.52 L463.52,1048.81 L463.01,1049.07 L462.52,1049.32 L462.04,1049.54 L461.57,1049.74 L461.12,1049.92 L460.68,1050.08 L460.26,1050.22 L459.85,1050.34 L459.45,1050.44 L459.07,1050.51 L458.71,1050.57 L458.36,1050.60 L458.02,1050.61 L457.70,1050.60 L457.39,1050.57 L457.10,1050.52 L456.82,1050.45 L456.56,1050.35 L456.32,1050.24 L456.09,1050.10 L455.87,1049.94 L455.68,1049.77 L455.49,1049.57 L455.33,1049.35 L455.17,1049.10 L455.04,1048.84 L454.92,1048.56 L454.82,1048.26 L454.73,1047.93 L454.66,1047.59 L454.60,1047.22 L454.56,1046.84 L454.54,1046.43 L454.53,1046.01 L454.54,1045.57 L454.56,1045.10 L454.60,1044.62 L454.66,1044.11 L454.73,1043.59 L454.82,1043.05 L454.92,1042.49 L455.04,1041.91 L455.17,1041.31 L455.33,1040.69 L455.49,1040.06 L455.68,1039.41 L455.87,1038.74 L456.09,1038.05 L456.32,1037.34 L456.56,1036.62 L456.82,1035.88 L457.10,1035.13 L457.39,1034.35 L457.70,1033.56 L458.02,1032.76 L458.36,1031.94 L458.71,1031.10 L459.07,1030.25 L459.45,1029.38 L459.85,1028.50 L460.26,1027.60 L460.68,1026.69 L461.12,1025.77 L461.57,1024.83 L462.04,1023.88 L462.52,1022.92 L463.01,1021.94 L463.52,1020.95 L464.03,1019.95 L464.57,1018.93 L465.11,1017.91 L465.67,1016.87 L466.24,1015.82 L466.83,1014.76 L467.42,1013.70 L468.03,1012.62 L468.65,1011.53 L469.28,1010.43 L469.93,1009.33 L470.58,1008.21 L471.25,1007.09 L471.92,1005.95 L472.61,1004.82 L473.31,1003.67 L474.01,1002.52 L474.73,1001.36 L475.46,1000.19 L476.20,999.02 L476.95,997.84 L477.70,996.66 L478.47,995.47 L479.24,994.28 L480.02,993.08 L480.81,991.88 L481.61,990.68 L482.42,989.47 L483.23,988.26 L484.05,987.05 L484.88,985.84 L485.72,984.63 L486.56,983.41 L487.41,982.19 L488.26,980.98 L489.12,979.76 L489.98,978.54 L490.85,977.33 L491.73,976.11 L492.61,974.90 L493.49,973.69 L494.38,972.48 L495.27,971.27 L496.17,970.07 L497.07,968.87 L497.97,967.67 L498.88,966.48 L499.78,965.29 L500.69,964.11 L501.60,962.93 L502.52,961.76 L503.43,960.59 L504.35,959.43 L505.27,958.28 L506.18,957.13 L507.10,955.99 L508.02,954.86 L508.93,953.73 L509.85,952.62 L510.77,951.51 L511.68,950.41 L512.60,949.32 L513.51,948.24 L514.42,947.17 L515.32,946.11 L516.23,945.06 L517.13,944.02 L518.03,943.00 L518.93,941.98 L519.82,940.98 L520.71,939.99 L521.59,939.01 L522.47,938.04 L523.35,937.09 L524.22,936.15 L525.08,935.22 L525.94,934.31 L526.79,933.41 L527.64,932.53 L528.48,931.66 L529.32,930.81 L530.15,929.97 L530.97,929.15 L531.78,928.34 L532.59,927.55 L533.39,926.77 L534.18,926.01 L534.96,925.27 L535.73,924.55 L536.50,923.84 L537.25,923.15 L538.00,922.48 L538.74,921.82 L539.47,921.18 L540.19,920.57 L540.89,919.97 L541.59,919.38 L542.28,918.82 L542.95,918.28 L543.62,917.75 L544.27,917.25 L544.92,916.76 L545.55,916.29 L546.17,915.85 L546.78,915.42 L547.37,915.01 L547.96,914.62 L548.53,914.26 L549.09,913.91 L549.63,913.58 L550.17,913.28 L550.68,912.99 L551.19,912.73 L551.68,912.48 L552.16,912.26 L552.63,912.06 L553.08,911.88 L553.52,911.72 L553.94,911.58 L554.35,911.46 L554.75,911.36 L555.13,911.29 L555.49,911.23 L555.84,911.20 L556.18,911.19 L556.50,911.20 L556.81,911.23 L557.10,911.28 L557.38,911.35 L557.64,911.45 L557.88,911.56 L558.11,911.70 L558.33,911.86 L558.52,912.03 L558.71,912.23 L558.87,912.45 L559.03,912.70 L559.16,912.96 L559.28,913.24 L559.38,913.54 L559.47,913.87 L559.54,914.21 L559.60,914.58 L559.64,914.96 L559.66,915.37 Z" fill="none" stroke="#482878" stroke-width="3.4" stroke-linejoin="round" />
<path d="M645.39,912.73 L645.38,912.93 L645.35,913.15 L645.29,913.39 L645.21,913.65 L645.10,913.93 L644.97,914.23 L644.82,914.55 L644.65,914.88 L644.45,915.24 L644.23,915.61 L643.98,916.00 L643.72,916.41 L643.43,916.84 L643.11,917.29 L642.78,917.76 L642.42,918.24 L642.04,918.74 L641.64,919.26 L641.21,919.79 L640.76,920.34 L640.29,920.91 L639.80,921.50 L639.29,922.10 L638.76,922.72 L638.20,923.36 L637.62,924.01 L637.02,924.68 L636.41,925.36 L635.77,926.06 L635.11,926.77 L634.43,927.50 L633.73,928.25 L633.01,929.01 L632.27,929.78 L631.51,930.57 L630.73,931.37 L629.93,932.18 L629.11,933.01 L628.28,933.86 L627.43,934.71 L626.56,935.58 L625.67,936.46 L624.76,937.35 L623.84,938.25 L622.90,939.17 L621.95,940.10 L620.97,941.03 L619.99,941.98 L618.98,942.94 L617.96,943.91 L616.93,944.89 L615.88,945.88 L614.82,946.87 L613.74,947.88 L612.65,948.90 L611.54,949.92 L610.43,950.95 L609.29,951.99 L608.15,953.04 L607.00,954.09 L605.83,955.15 L604.65,956.22 L603.46,957.29 L602.26,958.37 L601.05,959.46 L599.84,960.55 L598.61,961.64 L597.37,962.74 L596.12,963.84 L594.87,964.95 L593.60,966.06 L592.33,967.18 L591.05,968.29 L589.77,969.41 L588.48,970.53 L587.18,971.65 L585.87,972.78 L584.57,973.90 L583.25,975.03 L581.94,976.15 L580.61,977.28 L579.29,978.41 L577.96,979.53 L576.63,980.66 L575.29,981.78 L573.96,982.90 L572.62,984.02 L571.28,985.14 L569.94,986.25 L568.60,987.36 L567.26,988.47 L565.92,989.57 L564.58,990.67 L563.24,991.77 L561.91,992.86 L560.57,993.95 L559.24,995.03 L557.91,996.10 L556.59,997.17 L555.26,998.23 L553.95,999.29 L552.63,1000.34 L551.33,1001.38 L550.02,1002.41 L548.72,1003.44 L547.43,1004.46 L546.15,1005.47 L544.87,1006.47 L543.60,1007.46 L542.33,1008.44 L541.08,1009.41 L539.83,1010.37 L538.59,1011.32 L537.36,1012.26 L536.15,1013.19 L534.94,1014.11 L533.74,1015.02 L532.55,1015.91 L531.37,1016.80 L530.20,1017.67 L529.05,1018.53 L527.91,1019.37 L526.77,1020.20 L525.66,1021.02 L524.55,1021.83 L523.46,1022.62 L522.38,1023.39 L521.32,1024.16 L520.27,1024.91 L519.24,1025.64 L518.22,1026.36 L517.21,1027.06 L516.23,1027.75 L515.25,1028.42 L514.30,1029.08 L513.36,1029.72 L512.44,1030.34 L511.53,1030.95 L510.64,1031.54 L509.77,1032.11 L508.92,1032.67 L508.09,1033.21 L507.27,1033.73 L506.47,1034.24 L505.69,1034.72 L504.93,1035.19 L504.19,1035.64 L503.47,1036.08 L502.77,1036.49 L502.09,1036.89 L501.43,1037.27 L500.79,1037.63 L500.18,1037.97 L499.58,1038.29 L499.00,1038.59 L498.44,1038.88 L497.91,1039.14 L497.40,1039.39 L496.91,1039.62 L496.44,1039.82 L495.99,1040.01 L495.56,1040.18 L495.16,1040.33 L494.78,1040.46 L494.42,1040.57 L494.09,1040.66 L493.77,1040.73 L493.48,1040.79 L493.22,1040.82 L492.97,1040.83 L492.75,1040.82 L492.55,1040.80 L492.38,1040.75 L492.23,1040.68 L492.10,1040.60 L491.99,1040.49 L491.91,1040.37 L491.85,1040.22 L491.82,1040.06 L491.81,1039.87 L491.82,1039.67 L491.85,1039.45 L491.91,1039.21 L491.99,1038.95 L492.10,1038.67 L492.23,1038.37 L492.38,1038.05 L492.55,1037.72 L492.75,1037.36 L492.97,1036.99 L493.22,1036.60 L493.48,1036.19 L493.77,1035.76 L494.09,1035.31 L494.42,1034.84 L494.78,1034.36 L495.16,1033.86 L495.56,1033.34 L495.99,1032.81 L496.44,1032.26 L496.91,1031.69 L497.40,1031.10 L497.91,1030.50 L498.44,1029.88 L499.00,1029.24 L499.58,1028.59 L500.18,1027.92 L500.79,1027.24 L501.43,1026.54 L502.09,1025.83 L502.77,1025.10 L503.47,1024.35 L504.19,1023.59 L504.93,1022.82 L505.69,1022.03 L506.47,1021.23 L507.27,1020.42 L508.09,1019.59 L508.92,1018.74 L509.77,1017.89 L510.64,1017.02 L511.53,1016.14 L512.44,1015.25 L513.36,1014.35 L514.30,1013.43 L515.25,1012.50 L516.23,1011.57 L517.21,1010.62 L518.22,1009.66 L519.24,1008.69 L520.27,1007.71 L521.32,1006.72 L522.38,1005.73 L523.46,1004.72 L524.55,1003.70 L525.66,1002.68 L526.77,1001.65 L527.91,1000.61 L529.05,999.56 L530.20,998.51 L531.37,997.45 L532.55,996.38 L533.74,995.31 L534.94,994.23 L536.15,993.14 L537.36,992.05 L538.59,990.96 L539.83,989.86 L541.08,988.76 L542.33,987.65 L543.60,986.54 L544.87,985.42 L546.15,984.31 L547.43,983.19 L548.72,982.07 L550.02,980.95 L551.33,979.82 L552.63,978.70 L553.95,977.57 L555.26,976.45 L556.59,975.32 L557.91,974.19 L559.24,973.07 L560.57,971.94 L561.91,970.82 L563.24,969.70 L564.58,968.58 L565.92,967.46 L567.26,966.35 L568.60,965.24 L569.94,964.13 L571.28,963.03 L572.62,961.93 L573.96,960.83 L575.29,959.74 L576.63,958.65 L577.96,957.57 L579.29,956.50 L580.61,955.43 L581.94,954.37 L583.25,953.31 L584.57,952.26 L585.87,951.22 L587.18,950.19 L588.48,949.16 L589.77,948.14 L591.05,947.13 L592.33,946.13 L593.60,945.14 L594.87,944.16 L596.12,943.19 L597.37,942.23 L598.61,941.28 L599.84,940.34 L601.05,939.41 L602.26,938.49 L603.46,937.58 L604.65,936.69 L605.83,935.80 L607.00,934.93 L608.15,934.07 L609.29,933.23 L610.43,932.40 L611.54,931.58 L612.65,930.77 L613.74,929.98 L614.82,929.21 L615.88,928.44 L616.93,927.69 L617.96,926.96 L618.98,926.24 L619.99,925.54 L620.97,924.85 L621.95,924.18 L622.90,923.52 L623.84,922.88 L624.76,922.26 L625.67,921.65 L626.56,921.06 L627.43,920.49 L628.28,919.93 L629.11,919.39 L629.93,918.87 L630.73,918.36 L631.51,917.88 L632.27,917.41 L633.01,916.96 L633.73,916.52 L634.43,916.11 L635.11,915.71 L635.77,915.33 L636.41,914.97 L637.02,914.63 L637.62,914.31 L638.20,914.01 L638.76,913.72 L639.29,913.46 L639.80,913.21 L640.29,912.98 L640.76,912.78 L641.21,912.59 L641.64,912.42 L642.04,912.27 L642.42,912.14 L642.78,912.03 L643.11,911.94 L643.43,911.87 L643.72,911.81 L643.98,911.78 L644.23,911.77 L644.45,911.78 L644.65,911.80 L644.82,911.85 L644.97,911.92 L645.10,912.00 L645.21,912.11 L645.29,912.23 L645.35,912.38 L645.38,912.54 Z" fill="none" stroke="#A9ABAA" stroke-width="3.4" stroke-linejoin="round" />
<path d="M578.00,1002.86 L578.00,1004.29 L577.99,1005.73 L577.97,1007.16 L577.94,1008.59 L577.91,1010.02 L577.87,1011.44 L577.82,1012.86 L577.77,1014.28 L577.71,1015.69 L577.64,1017.10 L577.57,1018.50 L577.49,1019.89 L577.40,1021.28 L577.30,1022.66 L577.20,1024.03 L577.09,1025.40 L576.97,1026.76 L576.85,1028.11 L576.72,1029.45 L576.58,1030.78 L576.44,1032.10 L576.29,1033.41 L576.13,1034.71 L575.97,1036.00 L575.80,1037.28 L575.62,1038.54 L575.44,1039.80 L575.25,1041.04 L575.05,1042.27 L574.85,1043.48 L574.64,1044.68 L574.43,1045.87 L574.21,1047.04 L573.98,1048.20 L573.75,1049.34 L573.51,1050.47 L573.27,1051.58 L573.02,1052.68 L572.76,1053.76 L572.50,1054.82 L572.24,1055.86 L571.96,1056.89 L571.69,1057.90 L571.40,1058.89 L571.12,1059.87 L570.82,1060.82 L570.53,1061.76 L570.22,1062.68 L569.92,1063.57 L569.61,1064.45 L569.29,1065.31 L568.97,1066.14 L568.64,1066.96 L568.31,1067.76 L567.98,1068.53 L567.64,1069.28 L567.30,1070.02 L566.95,1070.73 L566.60,1071.41 L566.25,1072.08 L565.89,1072.72 L565.53,1073.34 L565.17,1073.94 L564.80,1074.52 L564.43,1075.07 L564.06,1075.60 L563.68,1076.10 L563.30,1076.58 L562.92,1077.04 L562.54,1077.48 L562.15,1077.89 L561.76,1078.27 L561.37,1078.63 L560.98,1078.97 L560.58,1079.28 L560.19,1079.57 L559.79,1079.84 L559.39,1080.07 L558.98,1080.29 L558.58,1080.48 L558.18,1080.64 L557.77,1080.78 L557.36,1080.89 L556.96,1080.98 L556.55,1081.05 L556.14,1081.09 L555.73,1081.10 L555.32,1081.09 L554.91,1081.05 L554.50,1080.99 L554.09,1080.90 L553.68,1080.79 L553.27,1080.65 L552.86,1080.49 L552.45,1080.31 L552.04,1080.09 L551.64,1079.86 L551.23,1079.60 L550.82,1079.31 L550.42,1079.00 L550.02,1078.66 L549.61,1078.31 L549.21,1077.92 L548.81,1077.51 L548.42,1077.08 L548.02,1076.63 L547.63,1076.15 L547.24,1075.64 L546.85,1075.12 L546.46,1074.57 L546.08,1073.99 L545.70,1073.40 L545.32,1072.78 L544.94,1072.14 L544.57,1071.47 L544.20,1070.79 L543.83,1070.08 L543.47,1069.35 L543.11,1068.60 L542.75,1067.82 L542.40,1067.03 L542.05,1066.22 L541.70,1065.38 L541.36,1064.53 L541.02,1063.65 L540.69,1062.75 L540.36,1061.84 L540.03,1060.90 L539.71,1059.95 L539.39,1058.98 L539.08,1057.99 L538.78,1056.98 L538.47,1055.95 L538.18,1054.91 L537.88,1053.85 L537.60,1052.77 L537.31,1051.68 L537.04,1050.57 L536.76,1049.44 L536.50,1048.30 L536.24,1047.14 L535.98,1045.97 L535.73,1044.79 L535.49,1043.59 L535.25,1042.37 L535.02,1041.14 L534.79,1039.90 L534.57,1038.65 L534.36,1037.39 L534.15,1036.11 L533.95,1034.82 L533.75,1033.52 L533.56,1032.21 L533.38,1030.89 L533.20,1029.56 L533.03,1028.22 L532.87,1026.88 L532.71,1025.52 L532.56,1024.15 L532.42,1022.78 L532.28,1021.40 L532.15,1020.01 L532.03,1018.62 L531.91,1017.22 L531.80,1015.81 L531.70,1014.40 L531.60,1012.99 L531.51,1011.57 L531.43,1010.14 L531.36,1008.72 L531.29,1007.29 L531.23,1005.85 L531.18,1004.42 L531.13,1002.98 L531.09,1001.54 L531.06,1000.10 L531.03,998.66 L531.01,997.22 L531.00,995.78 L531.00,994.34 L531.00,992.91 L531.01,991.47 L531.03,990.04 L531.06,988.61 L531.09,987.18 L531.13,985.76 L531.18,984.34 L531.23,982.92 L531.29,981.51 L531.36,980.10 L531.43,978.70 L531.51,977.31 L531.60,975.92 L531.70,974.54 L531.80,973.17 L531.91,971.80 L532.03,970.44 L532.15,969.09 L532.28,967.75 L532.42,966.42 L532.56,965.10 L532.71,963.79 L532.87,962.49 L533.03,961.20 L533.20,959.92 L533.38,958.66 L533.56,957.40 L533.75,956.16 L533.95,954.93 L534.15,953.72 L534.36,952.52 L534.57,951.33 L534.79,950.16 L535.02,949.00 L535.25,947.86 L535.49,946.73 L535.73,945.62 L535.98,944.52 L536.24,943.44 L536.50,942.38 L536.76,941.34 L537.04,940.31 L537.31,939.30 L537.60,938.31 L537.88,937.33 L538.18,936.38 L538.47,935.44 L538.78,934.52 L539.08,933.63 L539.39,932.75 L539.71,931.89 L540.03,931.06 L540.36,930.24 L540.69,929.44 L541.02,928.67 L541.36,927.92 L541.70,927.18 L542.05,926.47 L542.40,925.79 L542.75,925.12 L543.11,924.48 L543.47,923.86 L543.83,923.26 L544.20,922.68 L544.57,922.13 L544.94,921.60 L545.32,921.10 L545.70,920.62 L546.08,920.16 L546.46,919.72 L546.85,919.31 L547.24,918.93 L547.63,918.57 L548.02,918.23 L548.42,917.92 L548.81,917.63 L549.21,917.36 L549.61,917.13 L550.02,916.91 L550.42,916.72 L550.82,916.56 L551.23,916.42 L551.64,916.31 L552.04,916.22 L552.45,916.15 L552.86,916.11 L553.27,916.10 L553.68,916.11 L554.09,916.15 L554.50,916.21 L554.91,916.30 L555.32,916.41 L555.73,916.55 L556.14,916.71 L556.55,916.89 L556.96,917.11 L557.36,917.34 L557.77,917.60 L558.18,917.89 L558.58,918.20 L558.98,918.54 L559.39,918.89 L559.79,919.28 L560.19,919.69 L560.58,920.12 L560.98,920.57 L561.37,921.05 L561.76,921.56 L562.15,922.08 L562.54,922.63 L562.92,923.21 L563.30,923.80 L563.68,924.42 L564.06,925.06 L564.43,925.73 L564.80,926.41 L565.17,927.12 L565.53,927.85 L565.89,928.60 L566.25,929.38 L566.60,930.17 L566.95,930.98 L567.30,931.82 L567.64,932.67 L567.98,933.55 L568.31,934.45 L568.64,935.36 L568.97,936.30 L569.29,937.25 L569.61,938.22 L569.92,939.21 L570.22,940.22 L570.53,941.25 L570.82,942.29 L571.12,943.35 L571.40,944.43 L571.69,945.52 L571.96,946.63 L572.24,947.76 L572.50,948.90 L572.76,950.06 L573.02,951.23 L573.27,952.41 L573.51,953.61 L573.75,954.83 L573.98,956.06 L574.21,957.30 L574.43,958.55 L574.64,959.81 L574.85,961.09 L575.05,962.38 L575.25,963.68 L575.44,964.99 L575.62,966.31 L575.80,967.64 L575.97,968.98 L576.13,970.32 L576.29,971.68 L576.44,973.05 L576.58,974.42 L576.72,975.80 L576.85,977.19 L576.97,978.58 L577.09,979.98 L577.20,981.39 L577.30,982.80 L577.40,984.21 L577.49,985.63 L577.57,987.06 L577.64,988.48 L577.71,989.91 L577.77,991.35 L577.82,992.78 L577.87,994.22 L577.91,995.66 L577.94,997.10 L577.97,998.54 L577.99,999.98 L578.00,1001.42 Z" fill="none" stroke="#3E4A89" stroke-width="3.4" stroke-linejoin="round" />
<path d="M544.70,945.66 L544.70,946.88 L544.69,948.11 L544.69,949.34 L544.68,950.58 L544.67,951.82 L544.65,953.07 L544.64,954.31 L544.62,955.56 L544.59,956.82 L544.57,958.07 L544.54,959.33 L544.51,960.58 L544.48,961.84 L544.44,963.10 L544.41,964.36 L544.37,965.62 L544.32,966.87 L544.28,968.13 L544.23,969.38 L544.18,970.64 L544.13,971.89 L544.07,973.14 L544.02,974.38 L543.96,975.62 L543.89,976.86 L543.83,978.09 L543.76,979.32 L543.69,980.54 L543.62,981.76 L543.55,982.97 L543.47,984.18 L543.39,985.38 L543.31,986.57 L543.23,987.76 L543.14,988.94 L543.06,990.11 L542.97,991.27 L542.88,992.43 L542.78,993.57 L542.69,994.71 L542.59,995.83 L542.49,996.95 L542.39,998.06 L542.29,999.15 L542.18,1000.23 L542.07,1001.31 L541.97,1002.37 L541.85,1003.42 L541.74,1004.46 L541.63,1005.48 L541.51,1006.49 L541.39,1007.49 L541.28,1008.47 L541.15,1009.45 L541.03,1010.40 L540.91,1011.34 L540.78,1012.27 L540.66,1013.19 L540.53,1014.08 L540.40,1014.96 L540.27,1015.83 L540.14,1016.68 L540.00,1017.52 L539.87,1018.33 L539.73,1019.13 L539.60,1019.92 L539.46,1020.68 L539.32,1021.43 L539.18,1022.16 L539.04,1022.87 L538.90,1023.57 L538.76,1024.24 L538.61,1024.90 L538.47,1025.54 L538.33,1026.16 L538.18,1026.76 L538.03,1027.34 L537.89,1027.90 L537.74,1028.45 L537.59,1028.97 L537.45,1029.47 L537.30,1029.95 L537.15,1030.41 L537.00,1030.85 L536.85,1031.27 L536.70,1031.67 L536.55,1032.05 L536.40,1032.41 L536.25,1032.74 L536.10,1033.06 L535.95,1033.35 L535.80,1033.62 L535.65,1033.88 L535.50,1034.10 L535.35,1034.31 L535.20,1034.50 L535.05,1034.66 L534.90,1034.81 L534.75,1034.93 L534.61,1035.02 L534.46,1035.10 L534.31,1035.16 L534.17,1035.19 L534.02,1035.20 L533.87,1035.19 L533.73,1035.16 L533.59,1035.10 L533.44,1035.02 L533.30,1034.93 L533.16,1034.80 L533.02,1034.66 L532.88,1034.50 L532.74,1034.31 L532.60,1034.10 L532.47,1033.88 L532.33,1033.62 L532.20,1033.35 L532.06,1033.06 L531.93,1032.74 L531.80,1032.41 L531.67,1032.05 L531.54,1031.67 L531.42,1031.27 L531.29,1030.85 L531.17,1030.41 L531.05,1029.95 L530.92,1029.47 L530.81,1028.97 L530.69,1028.44 L530.57,1027.90 L530.46,1027.34 L530.35,1026.76 L530.23,1026.16 L530.13,1025.54 L530.02,1024.90 L529.91,1024.24 L529.81,1023.57 L529.71,1022.87 L529.61,1022.16 L529.51,1021.43 L529.42,1020.68 L529.32,1019.92 L529.23,1019.13 L529.14,1018.33 L529.06,1017.51 L528.97,1016.68 L528.89,1015.83 L528.81,1014.96 L528.73,1014.08 L528.65,1013.18 L528.58,1012.27 L528.51,1011.34 L528.44,1010.40 L528.37,1009.44 L528.31,1008.47 L528.24,1007.49 L528.18,1006.49 L528.13,1005.48 L528.07,1004.45 L528.02,1003.42 L527.97,1002.37 L527.92,1001.31 L527.88,1000.23 L527.83,999.15 L527.79,998.05 L527.76,996.95 L527.72,995.83 L527.69,994.71 L527.66,993.57 L527.63,992.43 L527.61,991.27 L527.58,990.11 L527.56,988.94 L527.55,987.76 L527.53,986.57 L527.52,985.38 L527.51,984.18 L527.51,982.97 L527.50,981.76 L527.50,980.54 L527.50,979.32 L527.51,978.09 L527.51,976.86 L527.52,975.62 L527.53,974.38 L527.55,973.13 L527.56,971.89 L527.58,970.64 L527.61,969.38 L527.63,968.13 L527.66,966.87 L527.69,965.62 L527.72,964.36 L527.76,963.10 L527.79,961.84 L527.83,960.58 L527.88,959.33 L527.92,958.07 L527.97,956.82 L528.02,955.56 L528.07,954.31 L528.13,953.06 L528.18,951.82 L528.24,950.58 L528.31,949.34 L528.37,948.11 L528.44,946.88 L528.51,945.66 L528.58,944.44 L528.65,943.23 L528.73,942.02 L528.81,940.82 L528.89,939.63 L528.97,938.44 L529.06,937.26 L529.14,936.09 L529.23,934.93 L529.32,933.77 L529.42,932.63 L529.51,931.49 L529.61,930.37 L529.71,929.25 L529.81,928.14 L529.91,927.05 L530.02,925.97 L530.13,924.89 L530.23,923.83 L530.35,922.78 L530.46,921.74 L530.57,920.72 L530.69,919.71 L530.81,918.71 L530.92,917.73 L531.05,916.75 L531.17,915.80 L531.29,914.86 L531.42,913.93 L531.54,913.01 L531.67,912.12 L531.80,911.24 L531.93,910.37 L532.06,909.52 L532.20,908.68 L532.33,907.87 L532.47,907.07 L532.60,906.28 L532.74,905.52 L532.88,904.77 L533.02,904.04 L533.16,903.33 L533.30,902.63 L533.44,901.96 L533.59,901.30 L533.73,900.66 L533.87,900.04 L534.02,899.44 L534.17,898.86 L534.31,898.30 L534.46,897.75 L534.61,897.23 L534.75,896.73 L534.90,896.25 L535.05,895.79 L535.20,895.35 L535.35,894.93 L535.50,894.53 L535.65,894.15 L535.80,893.79 L535.95,893.46 L536.10,893.14 L536.25,892.85 L536.40,892.58 L536.55,892.32 L536.70,892.10 L536.85,891.89 L537.00,891.70 L537.15,891.54 L537.30,891.39 L537.45,891.27 L537.59,891.18 L537.74,891.10 L537.89,891.04 L538.03,891.01 L538.18,891.00 L538.33,891.01 L538.47,891.04 L538.61,891.10 L538.76,891.18 L538.90,891.27 L539.04,891.40 L539.18,891.54 L539.32,891.70 L539.46,891.89 L539.60,892.10 L539.73,892.32 L539.87,892.58 L540.00,892.85 L540.14,893.14 L540.27,893.46 L540.40,893.79 L540.53,894.15 L540.66,894.53 L540.78,894.93 L540.91,895.35 L541.03,895.79 L541.15,896.25 L541.28,896.73 L541.39,897.23 L541.51,897.76 L541.63,898.30 L541.74,898.86 L541.85,899.44 L541.97,900.04 L542.07,900.66 L542.18,901.30 L542.29,901.96 L542.39,902.63 L542.49,903.33 L542.59,904.04 L542.69,904.77 L542.78,905.52 L542.88,906.28 L542.97,907.07 L543.06,907.87 L543.14,908.69 L543.23,909.52 L543.31,910.37 L543.39,911.24 L543.47,912.12 L543.55,913.02 L543.62,913.93 L543.69,914.86 L543.76,915.80 L543.83,916.76 L543.89,917.73 L543.96,918.71 L544.02,919.71 L544.07,920.72 L544.13,921.75 L544.18,922.78 L544.23,923.83 L544.28,924.89 L544.32,925.97 L544.37,927.05 L544.41,928.15 L544.44,929.25 L544.48,930.37 L544.51,931.49 L544.54,932.63 L544.57,933.77 L544.59,934.93 L544.62,936.09 L544.64,937.26 L544.65,938.44 L544.67,939.63 L544.68,940.82 L544.69,942.02 L544.69,943.23 L544.70,944.44 Z" fill="none" stroke="#B8DE29" stroke-width="3.4" stroke-linejoin="round" />
<path d="M590.25,1006.01 L590.24,1007.26 L590.22,1008.51 L590.18,1009.78 L590.13,1011.05 L590.06,1012.33 L589.98,1013.62 L589.88,1014.92 L589.77,1016.22 L589.64,1017.53 L589.50,1018.84 L589.34,1020.17 L589.17,1021.49 L588.99,1022.82 L588.78,1024.16 L588.57,1025.50 L588.34,1026.84 L588.10,1028.18 L587.84,1029.53 L587.56,1030.88 L587.28,1032.24 L586.98,1033.59 L586.66,1034.95 L586.33,1036.30 L585.99,1037.66 L585.63,1039.02 L585.26,1040.37 L584.88,1041.73 L584.48,1043.08 L584.07,1044.43 L583.65,1045.78 L583.21,1047.13 L582.76,1048.47 L582.30,1049.81 L581.83,1051.15 L581.34,1052.48 L580.84,1053.81 L580.33,1055.13 L579.81,1056.45 L579.27,1057.76 L578.73,1059.07 L578.17,1060.37 L577.60,1061.66 L577.02,1062.94 L576.43,1064.22 L575.82,1065.49 L575.21,1066.74 L574.59,1067.99 L573.95,1069.24 L573.31,1070.47 L572.66,1071.69 L571.99,1072.90 L571.32,1074.10 L570.64,1075.29 L569.95,1076.46 L569.25,1077.63 L568.54,1078.78 L567.82,1079.92 L567.10,1081.05 L566.36,1082.16 L565.62,1083.26 L564.88,1084.35 L564.12,1085.42 L563.36,1086.48 L562.59,1087.52 L561.81,1088.55 L561.03,1089.56 L560.24,1090.55 L559.45,1091.53 L558.65,1092.49 L557.84,1093.44 L557.03,1094.37 L556.22,1095.28 L555.40,1096.17 L554.57,1097.05 L553.75,1097.90 L552.91,1098.74 L552.08,1099.56 L551.24,1100.36 L550.40,1101.14 L549.55,1101.91 L548.70,1102.65 L547.85,1103.37 L547.00,1104.07 L546.15,1104.76 L545.29,1105.42 L544.44,1106.06 L543.58,1106.68 L542.72,1107.28 L541.86,1107.85 L541.00,1108.41 L540.14,1108.94 L539.28,1109.46 L538.42,1109.95 L537.56,1110.41 L536.71,1110.86 L535.85,1111.28 L535.00,1111.68 L534.15,1112.06 L533.30,1112.42 L532.45,1112.75 L531.60,1113.06 L530.76,1113.35 L529.92,1113.61 L529.09,1113.85 L528.25,1114.07 L527.43,1114.26 L526.60,1114.43 L525.78,1114.57 L524.97,1114.70 L524.16,1114.80 L523.35,1114.87 L522.55,1114.92 L521.76,1114.95 L520.97,1114.96 L520.19,1114.94 L519.41,1114.89 L518.64,1114.83 L517.88,1114.74 L517.12,1114.62 L516.38,1114.49 L515.64,1114.32 L514.90,1114.14 L514.18,1113.93 L513.46,1113.70 L512.75,1113.45 L512.05,1113.17 L511.36,1112.87 L510.68,1112.54 L510.01,1112.20 L509.34,1111.83 L508.69,1111.44 L508.05,1111.02 L507.41,1110.58 L506.79,1110.12 L506.18,1109.64 L505.57,1109.14 L504.98,1108.61 L504.40,1108.06 L503.83,1107.49 L503.27,1106.90 L502.73,1106.29 L502.19,1105.66 L501.67,1105.00 L501.16,1104.33 L500.66,1103.63 L500.17,1102.92 L499.70,1102.18 L499.24,1101.43 L498.79,1100.66 L498.35,1099.86 L497.93,1099.05 L497.52,1098.22 L497.12,1097.37 L496.74,1096.50 L496.37,1095.61 L496.01,1094.71 L495.67,1093.79 L495.34,1092.85 L495.02,1091.89 L494.72,1090.92 L494.44,1089.93 L494.16,1088.92 L493.90,1087.90 L493.66,1086.87 L493.43,1085.81 L493.22,1084.75 L493.01,1083.67 L492.83,1082.57 L492.66,1081.46 L492.50,1080.34 L492.36,1079.21 L492.23,1078.06 L492.12,1076.90 L492.02,1075.73 L491.94,1074.54 L491.87,1073.35 L491.82,1072.14 L491.78,1070.92 L491.76,1069.69 L491.75,1068.46 L491.76,1067.21 L491.78,1065.95 L491.82,1064.69 L491.87,1063.42 L491.94,1062.13 L492.02,1060.85 L492.12,1059.55 L492.23,1058.25 L492.36,1056.94 L492.50,1055.62 L492.66,1054.30 L492.83,1052.98 L493.01,1051.64 L493.22,1050.31 L493.43,1048.97 L493.66,1047.63 L493.90,1046.28 L494.16,1044.93 L494.44,1043.58 L494.72,1042.23 L495.02,1040.87 L495.34,1039.52 L495.67,1038.16 L496.01,1036.81 L496.37,1035.45 L496.74,1034.09 L497.12,1032.74 L497.52,1031.39 L497.93,1030.03 L498.35,1028.68 L498.79,1027.34 L499.24,1025.99 L499.70,1024.65 L500.17,1023.32 L500.66,1021.98 L501.16,1020.66 L501.67,1019.33 L502.19,1018.02 L502.73,1016.71 L503.27,1015.40 L503.83,1014.10 L504.40,1012.81 L504.98,1011.53 L505.57,1010.25 L506.18,1008.98 L506.79,1007.72 L507.41,1006.47 L508.05,1005.23 L508.69,1004.00 L509.34,1002.78 L510.01,1001.57 L510.68,1000.37 L511.36,999.18 L512.05,998.00 L512.75,996.84 L513.46,995.68 L514.18,994.54 L514.90,993.42 L515.64,992.30 L516.38,991.20 L517.12,990.12 L517.88,989.05 L518.64,987.99 L519.41,986.95 L520.19,985.92 L520.97,984.91 L521.76,983.91 L522.55,982.94 L523.35,981.97 L524.16,981.03 L524.97,980.10 L525.78,979.19 L526.60,978.30 L527.43,977.42 L528.25,976.56 L529.09,975.72 L529.92,974.90 L530.76,974.10 L531.60,973.32 L532.45,972.56 L533.30,971.82 L534.15,971.09 L535.00,970.39 L535.85,969.71 L536.71,969.05 L537.56,968.41 L538.42,967.79 L539.28,967.19 L540.14,966.61 L541.00,966.06 L541.86,965.52 L542.72,965.01 L543.58,964.52 L544.44,964.05 L545.29,963.61 L546.15,963.18 L547.00,962.78 L547.85,962.40 L548.70,962.05 L549.55,961.72 L550.40,961.41 L551.24,961.12 L552.08,960.86 L552.91,960.62 L553.75,960.40 L554.57,960.21 L555.40,960.04 L556.22,959.89 L557.03,959.77 L557.84,959.67 L558.65,959.59 L559.45,959.54 L560.24,959.52 L561.03,959.51 L561.81,959.53 L562.59,959.57 L563.36,959.64 L564.12,959.73 L564.88,959.84 L565.62,959.98 L566.36,960.14 L567.10,960.33 L567.82,960.53 L568.54,960.77 L569.25,961.02 L569.95,961.30 L570.64,961.60 L571.32,961.92 L571.99,962.27 L572.66,962.64 L573.31,963.03 L573.95,963.45 L574.59,963.88 L575.21,964.34 L575.82,964.83 L576.43,965.33 L577.02,965.86 L577.60,966.40 L578.17,966.97 L578.73,967.56 L579.27,968.18 L579.81,968.81 L580.33,969.46 L580.84,970.14 L581.34,970.83 L581.83,971.55 L582.30,972.28 L582.76,973.04 L583.21,973.81 L583.65,974.61 L584.07,975.42 L584.48,976.25 L584.88,977.10 L585.26,977.97 L585.63,978.86 L585.99,979.76 L586.33,980.68 L586.66,981.62 L586.98,982.58 L587.28,983.55 L587.56,984.54 L587.84,985.54 L588.10,986.56 L588.34,987.60 L588.57,988.65 L588.78,989.72 L588.99,990.80 L589.17,991.89 L589.34,993.00 L589.50,994.13 L589.64,995.26 L589.77,996.41 L589.88,997.57 L589.98,998.74 L590.06,999.93 L590.13,1001.12 L590.18,1002.33 L590.22,1003.55 L590.24,1004.77 Z" fill="none" stroke="#440154" stroke-width="3.4" stroke-linejoin="round" />
<path d="M562.44,1168.21 L562.43,1169.57 L562.41,1170.93 L562.36,1172.28 L562.31,1173.63 L562.23,1174.98 L562.14,1176.32 L562.03,1177.65 L561.91,1178.97 L561.77,1180.29 L561.62,1181.60 L561.44,1182.91 L561.25,1184.20 L561.05,1185.49 L560.83,1186.77 L560.59,1188.03 L560.34,1189.29 L560.07,1190.54 L559.79,1191.78 L559.49,1193.01 L559.17,1194.22 L558.84,1195.43 L558.49,1196.62 L558.13,1197.80 L557.75,1198.97 L557.36,1200.12 L556.95,1201.26 L556.53,1202.39 L556.09,1203.50 L555.64,1204.60 L555.18,1205.68 L554.70,1206.75 L554.20,1207.80 L553.69,1208.84 L553.17,1209.86 L552.64,1210.87 L552.09,1211.86 L551.52,1212.83 L550.95,1213.78 L550.36,1214.72 L549.76,1215.64 L549.14,1216.54 L548.52,1217.42 L547.88,1218.28 L547.23,1219.12 L546.56,1219.95 L545.89,1220.76 L545.20,1221.54 L544.50,1222.31 L543.80,1223.05 L543.08,1223.78 L542.35,1224.48 L541.61,1225.17 L540.86,1225.83 L540.09,1226.47 L539.32,1227.09 L538.54,1227.69 L537.76,1228.27 L536.96,1228.82 L536.15,1229.35 L535.34,1229.86 L534.51,1230.35 L533.68,1230.82 L532.84,1231.26 L532.00,1231.68 L531.14,1232.07 L530.28,1232.45 L529.41,1232.80 L528.54,1233.12 L527.66,1233.43 L526.77,1233.71 L525.88,1233.96 L524.98,1234.19 L524.08,1234.40 L523.17,1234.59 L522.26,1234.75 L521.35,1234.88 L520.43,1235.00 L519.50,1235.09 L518.58,1235.15 L517.65,1235.19 L516.71,1235.21 L515.78,1235.20 L514.84,1235.17 L513.90,1235.11 L512.96,1235.03 L512.01,1234.93 L511.07,1234.80 L510.13,1234.65 L509.18,1234.47 L508.23,1234.27 L507.29,1234.05 L506.34,1233.80 L505.40,1233.53 L504.45,1233.23 L503.51,1232.91 L502.57,1232.57 L501.63,1232.21 L500.69,1231.82 L499.75,1231.41 L498.82,1230.97 L497.89,1230.52 L496.96,1230.04 L496.04,1229.53 L495.12,1229.01 L494.20,1228.46 L493.29,1227.89 L492.39,1227.30 L491.48,1226.69 L490.59,1226.06 L489.69,1225.40 L488.81,1224.72 L487.93,1224.03 L487.05,1223.31 L486.19,1222.57 L485.33,1221.81 L484.47,1221.03 L483.62,1220.23 L482.79,1219.42 L481.95,1218.58 L481.13,1217.72 L480.32,1216.85 L479.51,1215.95 L478.71,1215.04 L477.92,1214.11 L477.14,1213.16 L476.37,1212.20 L475.61,1211.22 L474.86,1210.22 L474.12,1209.20 L473.39,1208.17 L472.67,1207.12 L471.96,1206.06 L471.27,1204.98 L470.58,1203.89 L469.90,1202.78 L469.24,1201.66 L468.59,1200.52 L467.95,1199.37 L467.32,1198.21 L466.71,1197.03 L466.11,1195.85 L465.52,1194.65 L464.94,1193.43 L464.38,1192.21 L463.83,1190.98 L463.29,1189.73 L462.77,1188.48 L462.26,1187.21 L461.77,1185.94 L461.29,1184.65 L460.82,1183.36 L460.37,1182.06 L459.94,1180.75 L459.51,1179.44 L459.11,1178.11 L458.71,1176.78 L458.34,1175.45 L457.97,1174.10 L457.63,1172.76 L457.30,1171.40 L456.98,1170.05 L456.68,1168.69 L456.40,1167.32 L456.13,1165.95 L455.87,1164.58 L455.64,1163.21 L455.42,1161.83 L455.21,1160.45 L455.02,1159.07 L454.85,1157.69 L454.70,1156.31 L454.56,1154.93 L454.43,1153.55 L454.32,1152.17 L454.23,1150.79 L454.16,1149.41 L454.10,1148.03 L454.06,1146.66 L454.04,1145.29 L454.03,1143.93 L454.04,1142.56 L454.06,1141.20 L454.10,1139.85 L454.16,1138.50 L454.23,1137.16 L454.32,1135.82 L454.43,1134.49 L454.56,1133.16 L454.70,1131.84 L454.85,1130.53 L455.02,1129.23 L455.21,1127.93 L455.42,1126.64 L455.64,1125.37 L455.87,1124.10 L456.13,1122.84 L456.40,1121.59 L456.68,1120.35 L456.98,1119.13 L457.30,1117.91 L457.63,1116.71 L457.97,1115.51 L458.34,1114.33 L458.71,1113.17 L459.11,1112.01 L459.51,1110.87 L459.94,1109.75 L460.37,1108.63 L460.82,1107.53 L461.29,1106.45 L461.77,1105.38 L462.26,1104.33 L462.77,1103.29 L463.29,1102.27 L463.83,1101.27 L464.38,1100.28 L464.94,1099.31 L465.52,1098.35 L466.11,1097.42 L466.71,1096.50 L467.32,1095.60 L467.95,1094.72 L468.59,1093.85 L469.24,1093.01 L469.90,1092.18 L470.58,1091.38 L471.27,1090.59 L471.96,1089.83 L472.67,1089.08 L473.39,1088.36 L474.12,1087.65 L474.86,1086.97 L475.61,1086.30 L476.37,1085.66 L477.14,1085.04 L477.92,1084.44 L478.71,1083.87 L479.51,1083.31 L480.32,1082.78 L481.13,1082.27 L481.95,1081.78 L482.79,1081.32 L483.62,1080.88 L484.47,1080.46 L485.33,1080.06 L486.19,1079.69 L487.05,1079.34 L487.93,1079.01 L488.81,1078.71 L489.69,1078.43 L490.59,1078.17 L491.48,1077.94 L492.39,1077.73 L493.29,1077.55 L494.20,1077.39 L495.12,1077.25 L496.04,1077.14 L496.96,1077.05 L497.89,1076.98 L498.82,1076.94 L499.75,1076.93 L500.69,1076.93 L501.63,1076.97 L502.57,1077.02 L503.51,1077.10 L504.45,1077.21 L505.40,1077.34 L506.34,1077.49 L507.29,1077.66 L508.23,1077.86 L509.18,1078.09 L510.13,1078.33 L511.07,1078.61 L512.01,1078.90 L512.96,1079.22 L513.90,1079.56 L514.84,1079.93 L515.78,1080.31 L516.71,1080.73 L517.65,1081.16 L518.58,1081.62 L519.50,1082.10 L520.43,1082.60 L521.35,1083.12 L522.26,1083.67 L523.17,1084.24 L524.08,1084.83 L524.98,1085.44 L525.88,1086.08 L526.77,1086.73 L527.66,1087.41 L528.54,1088.11 L529.41,1088.82 L530.28,1089.56 L531.14,1090.32 L532.00,1091.10 L532.84,1091.90 L533.68,1092.72 L534.51,1093.55 L535.34,1094.41 L536.15,1095.29 L536.96,1096.18 L537.76,1097.09 L538.54,1098.02 L539.32,1098.97 L540.09,1099.94 L540.86,1100.92 L541.61,1101.92 L542.35,1102.93 L543.08,1103.96 L543.80,1105.01 L544.50,1106.07 L545.20,1107.15 L545.89,1108.25 L546.56,1109.35 L547.23,1110.48 L547.88,1111.61 L548.52,1112.76 L549.14,1113.92 L549.76,1115.10 L550.36,1116.29 L550.95,1117.49 L551.52,1118.70 L552.09,1119.92 L552.64,1121.16 L553.17,1122.40 L553.69,1123.66 L554.20,1124.92 L554.70,1126.20 L555.18,1127.48 L555.64,1128.77 L556.09,1130.07 L556.53,1131.38 L556.95,1132.70 L557.36,1134.02 L557.75,1135.35 L558.13,1136.69 L558.49,1138.03 L558.84,1139.38 L559.17,1140.73 L559.49,1142.09 L559.79,1143.45 L560.07,1144.81 L560.34,1146.18 L560.59,1147.55 L560.83,1148.93 L561.05,1150.30 L561.25,1151.68 L561.44,1153.06 L561.62,1154.44 L561.77,1155.82 L561.91,1157.21 L562.03,1158.59 L562.14,1159.97 L562.23,1161.35 L562.31,1162.72 L562.36,1164.10 L562.41,1165.47 L562.43,1166.84 Z" fill="none" stroke="#20A386" stroke-width="3.4" stroke-linejoin="round" />
<path d="M605.18,1153.09 L605.17,1153.63 L605.15,1154.17 L605.10,1154.69 L605.04,1155.22 L604.96,1155.74 L604.87,1156.25 L604.76,1156.76 L604.63,1157.27 L604.48,1157.77 L604.31,1158.26 L604.13,1158.75 L603.94,1159.23 L603.72,1159.71 L603.49,1160.18 L603.24,1160.64 L602.97,1161.10 L602.69,1161.55 L602.39,1161.99 L602.08,1162.43 L601.75,1162.86 L601.40,1163.29 L601.03,1163.70 L600.65,1164.11 L600.26,1164.51 L599.84,1164.91 L599.42,1165.30 L598.97,1165.67 L598.51,1166.05 L598.04,1166.41 L597.55,1166.76 L597.05,1167.11 L596.53,1167.45 L595.99,1167.78 L595.44,1168.10 L594.88,1168.41 L594.30,1168.72 L593.71,1169.01 L593.11,1169.30 L592.49,1169.58 L591.86,1169.85 L591.21,1170.11 L590.55,1170.36 L589.88,1170.60 L589.20,1170.83 L588.50,1171.05 L587.79,1171.26 L587.07,1171.47 L586.34,1171.66 L585.59,1171.84 L584.84,1172.02 L584.07,1172.18 L583.29,1172.34 L582.50,1172.48 L581.71,1172.61 L580.90,1172.74 L580.08,1172.85 L579.25,1172.96 L578.41,1173.05 L577.56,1173.13 L576.71,1173.21 L575.84,1173.27 L574.97,1173.33 L574.09,1173.37 L573.20,1173.40 L572.30,1173.42 L571.40,1173.44 L570.48,1173.44 L569.57,1173.43 L568.64,1173.41 L567.71,1173.38 L566.77,1173.35 L565.83,1173.30 L564.88,1173.24 L563.93,1173.17 L562.97,1173.09 L562.01,1173.00 L561.04,1172.90 L560.07,1172.79 L559.10,1172.67 L558.12,1172.54 L557.14,1172.40 L556.16,1172.25 L555.17,1172.09 L554.19,1171.92 L553.20,1171.74 L552.21,1171.55 L551.21,1171.35 L550.22,1171.15 L549.23,1170.93 L548.23,1170.70 L547.24,1170.46 L546.25,1170.22 L545.25,1169.96 L544.26,1169.70 L543.27,1169.43 L542.28,1169.14 L541.29,1168.85 L540.31,1168.55 L539.32,1168.24 L538.34,1167.92 L537.37,1167.60 L536.39,1167.26 L535.42,1166.92 L534.46,1166.57 L533.49,1166.21 L532.54,1165.84 L531.58,1165.46 L530.64,1165.08 L529.69,1164.69 L528.76,1164.29 L527.83,1163.88 L526.90,1163.47 L525.98,1163.05 L525.07,1162.62 L524.17,1162.19 L523.27,1161.75 L522.38,1161.30 L521.50,1160.84 L520.63,1160.38 L519.76,1159.91 L518.90,1159.44 L518.06,1158.96 L517.22,1158.48 L516.39,1157.98 L515.57,1157.49 L514.76,1156.99 L513.96,1156.48 L513.17,1155.97 L512.40,1155.45 L511.63,1154.93 L510.87,1154.40 L510.13,1153.87 L509.40,1153.33 L508.68,1152.79 L507.97,1152.25 L507.27,1151.70 L506.59,1151.15 L505.91,1150.60 L505.26,1150.04 L504.61,1149.48 L503.98,1148.91 L503.36,1148.35 L502.75,1147.78 L502.16,1147.21 L501.59,1146.63 L501.02,1146.06 L500.47,1145.48 L499.94,1144.90 L499.42,1144.32 L498.92,1143.74 L498.43,1143.15 L497.95,1142.57 L497.49,1141.98 L497.05,1141.40 L496.62,1140.81 L496.21,1140.22 L495.81,1139.64 L495.43,1139.05 L495.07,1138.46 L494.72,1137.88 L494.39,1137.29 L494.07,1136.71 L493.78,1136.12 L493.49,1135.54 L493.23,1134.96 L492.98,1134.38 L492.75,1133.80 L492.53,1133.22 L492.33,1132.65 L492.15,1132.07 L491.99,1131.50 L491.84,1130.94 L491.71,1130.37 L491.60,1129.81 L491.50,1129.25 L491.43,1128.69 L491.37,1128.14 L491.32,1127.59 L491.30,1127.05 L491.29,1126.51 L491.30,1125.97 L491.32,1125.43 L491.37,1124.91 L491.43,1124.38 L491.50,1123.86 L491.60,1123.35 L491.71,1122.84 L491.84,1122.33 L491.99,1121.83 L492.15,1121.34 L492.33,1120.85 L492.53,1120.37 L492.75,1119.89 L492.98,1119.42 L493.23,1118.96 L493.49,1118.50 L493.78,1118.05 L494.07,1117.61 L494.39,1117.17 L494.72,1116.74 L495.07,1116.31 L495.43,1115.90 L495.81,1115.49 L496.21,1115.09 L496.62,1114.69 L497.05,1114.30 L497.49,1113.93 L497.95,1113.55 L498.43,1113.19 L498.92,1112.84 L499.42,1112.49 L499.94,1112.15 L500.47,1111.82 L501.02,1111.50 L501.59,1111.19 L502.16,1110.88 L502.75,1110.59 L503.36,1110.30 L503.98,1110.02 L504.61,1109.75 L505.26,1109.49 L505.91,1109.24 L506.59,1109.00 L507.27,1108.77 L507.97,1108.55 L508.68,1108.34 L509.40,1108.13 L510.13,1107.94 L510.87,1107.76 L511.63,1107.58 L512.40,1107.42 L513.17,1107.26 L513.96,1107.12 L514.76,1106.99 L515.57,1106.86 L516.39,1106.75 L517.22,1106.64 L518.06,1106.55 L518.90,1106.47 L519.76,1106.39 L520.63,1106.33 L521.50,1106.27 L522.38,1106.23 L523.27,1106.20 L524.17,1106.18 L525.07,1106.16 L525.98,1106.16 L526.90,1106.17 L527.83,1106.19 L528.76,1106.22 L529.69,1106.25 L530.64,1106.30 L531.58,1106.36 L532.54,1106.43 L533.49,1106.51 L534.46,1106.60 L535.42,1106.70 L536.39,1106.81 L537.37,1106.93 L538.34,1107.06 L539.32,1107.20 L540.31,1107.35 L541.29,1107.51 L542.28,1107.68 L543.27,1107.86 L544.26,1108.05 L545.25,1108.25 L546.25,1108.45 L547.24,1108.67 L548.23,1108.90 L549.23,1109.14 L550.22,1109.38 L551.21,1109.64 L552.21,1109.90 L553.20,1110.17 L554.19,1110.46 L555.17,1110.75 L556.16,1111.05 L557.14,1111.36 L558.12,1111.68 L559.10,1112.00 L560.07,1112.34 L561.04,1112.68 L562.01,1113.03 L562.97,1113.39 L563.93,1113.76 L564.88,1114.14 L565.83,1114.52 L566.77,1114.91 L567.71,1115.31 L568.64,1115.72 L569.57,1116.13 L570.48,1116.55 L571.40,1116.98 L572.30,1117.41 L573.20,1117.85 L574.09,1118.30 L574.97,1118.76 L575.84,1119.22 L576.71,1119.69 L577.56,1120.16 L578.41,1120.64 L579.25,1121.12 L580.08,1121.62 L580.90,1122.11 L581.71,1122.61 L582.50,1123.12 L583.29,1123.63 L584.07,1124.15 L584.84,1124.67 L585.59,1125.20 L586.34,1125.73 L587.07,1126.27 L587.79,1126.81 L588.50,1127.35 L589.20,1127.90 L589.88,1128.45 L590.55,1129.00 L591.21,1129.56 L591.86,1130.12 L592.49,1130.69 L593.11,1131.25 L593.71,1131.82 L594.30,1132.39 L594.88,1132.97 L595.44,1133.54 L595.99,1134.12 L596.53,1134.70 L597.05,1135.28 L597.55,1135.86 L598.04,1136.45 L598.51,1137.03 L598.97,1137.62 L599.42,1138.20 L599.84,1138.79 L600.26,1139.38 L600.65,1139.96 L601.03,1140.55 L601.40,1141.14 L601.75,1141.72 L602.08,1142.31 L602.39,1142.89 L602.69,1143.48 L602.97,1144.06 L603.24,1144.64 L603.49,1145.22 L603.72,1145.80 L603.94,1146.38 L604.13,1146.95 L604.31,1147.53 L604.48,1148.10 L604.63,1148.66 L604.76,1149.23 L604.87,1149.79 L604.96,1150.35 L605.04,1150.91 L605.10,1151.46 L605.15,1152.01 L605.17,1152.55 Z" fill="none" stroke="#3B528B" stroke-width="3.4" stroke-linejoin="round" />
<path d="M566.50,1089.30 L566.50,1089.33 L566.49,1089.36 L566.47,1089.42 L566.44,1089.49 L566.41,1089.58 L566.37,1089.68 L566.32,1089.81 L566.27,1089.95 L566.20,1090.10 L566.13,1090.27 L566.06,1090.46 L565.97,1090.66 L565.88,1090.89 L565.78,1091.12 L565.68,1091.38 L565.57,1091.65 L565.45,1091.93 L565.32,1092.23 L565.19,1092.55 L565.05,1092.88 L564.90,1093.23 L564.74,1093.60 L564.58,1093.98 L564.41,1094.37 L564.24,1094.78 L564.06,1095.21 L563.87,1095.65 L563.67,1096.10 L563.47,1096.58 L563.27,1097.06 L563.05,1097.56 L562.83,1098.07 L562.61,1098.60 L562.37,1099.14 L562.13,1099.70 L561.89,1100.27 L561.64,1100.85 L561.38,1101.44 L561.12,1102.05 L560.85,1102.68 L560.58,1103.31 L560.30,1103.96 L560.01,1104.62 L559.72,1105.29 L559.43,1105.97 L559.13,1106.67 L558.82,1107.37 L558.51,1108.09 L558.19,1108.82 L557.87,1109.56 L557.55,1110.31 L557.22,1111.07 L556.88,1111.84 L556.55,1112.62 L556.20,1113.41 L555.86,1114.21 L555.50,1115.02 L555.15,1115.84 L554.79,1116.66 L554.43,1117.50 L554.06,1118.34 L553.69,1119.19 L553.31,1120.05 L552.94,1120.92 L552.56,1121.79 L552.17,1122.67 L551.79,1123.56 L551.40,1124.45 L551.01,1125.35 L550.61,1126.26 L550.21,1127.17 L549.81,1128.09 L549.41,1129.01 L549.01,1129.93 L548.60,1130.86 L548.19,1131.80 L547.78,1132.73 L547.37,1133.68 L546.96,1134.62 L546.54,1135.57 L546.13,1136.52 L545.71,1137.47 L545.29,1138.43 L544.87,1139.38 L544.45,1140.34 L544.03,1141.30 L543.61,1142.26 L543.19,1143.22 L542.77,1144.19 L542.35,1145.15 L541.93,1146.11 L541.51,1147.07 L541.09,1148.03 L540.67,1148.99 L540.25,1149.95 L539.83,1150.90 L539.41,1151.86 L538.99,1152.81 L538.57,1153.76 L538.16,1154.70 L537.74,1155.65 L537.33,1156.59 L536.92,1157.52 L536.51,1158.45 L536.10,1159.38 L535.69,1160.30 L535.29,1161.22 L534.89,1162.14 L534.49,1163.04 L534.09,1163.95 L533.69,1164.84 L533.30,1165.73 L532.91,1166.62 L532.53,1167.49 L532.14,1168.36 L531.76,1169.22 L531.39,1170.08 L531.01,1170.93 L530.64,1171.76 L530.27,1172.59 L529.91,1173.42 L529.55,1174.23 L529.20,1175.03 L528.84,1175.83 L528.50,1176.61 L528.15,1177.39 L527.82,1178.15 L527.48,1178.91 L527.15,1179.65 L526.83,1180.39 L526.51,1181.11 L526.19,1181.82 L525.88,1182.52 L525.57,1183.21 L525.27,1183.89 L524.98,1184.55 L524.69,1185.20 L524.40,1185.84 L524.12,1186.47 L523.85,1187.09 L523.58,1187.69 L523.32,1188.28 L523.06,1188.85 L522.81,1189.41 L522.57,1189.96 L522.33,1190.49 L522.09,1191.01 L521.87,1191.52 L521.65,1192.01 L521.43,1192.49 L521.23,1192.95 L521.03,1193.40 L520.83,1193.83 L520.64,1194.25 L520.46,1194.65 L520.29,1195.04 L520.12,1195.41 L519.96,1195.76 L519.80,1196.10 L519.65,1196.43 L519.51,1196.74 L519.38,1197.03 L519.25,1197.31 L519.13,1197.57 L519.02,1197.81 L518.92,1198.04 L518.82,1198.25 L518.73,1198.45 L518.64,1198.63 L518.57,1198.79 L518.50,1198.93 L518.43,1199.06 L518.38,1199.18 L518.33,1199.27 L518.29,1199.35 L518.26,1199.41 L518.23,1199.46 L518.21,1199.49 L518.20,1199.50 L518.20,1199.50 L518.20,1199.47 L518.21,1199.44 L518.23,1199.38 L518.26,1199.31 L518.29,1199.22 L518.33,1199.12 L518.38,1198.99 L518.43,1198.85 L518.50,1198.70 L518.57,1198.53 L518.64,1198.34 L518.73,1198.14 L518.82,1197.91 L518.92,1197.68 L519.02,1197.42 L519.13,1197.15 L519.25,1196.87 L519.38,1196.57 L519.51,1196.25 L519.65,1195.92 L519.80,1195.57 L519.96,1195.20 L520.12,1194.82 L520.29,1194.43 L520.46,1194.02 L520.64,1193.59 L520.83,1193.15 L521.03,1192.70 L521.23,1192.22 L521.43,1191.74 L521.65,1191.24 L521.87,1190.73 L522.09,1190.20 L522.33,1189.66 L522.57,1189.10 L522.81,1188.53 L523.06,1187.95 L523.32,1187.36 L523.58,1186.75 L523.85,1186.12 L524.12,1185.49 L524.40,1184.84 L524.69,1184.18 L524.98,1183.51 L525.27,1182.83 L525.57,1182.13 L525.88,1181.43 L526.19,1180.71 L526.51,1179.98 L526.83,1179.24 L527.15,1178.49 L527.48,1177.73 L527.82,1176.96 L528.15,1176.18 L528.50,1175.39 L528.84,1174.59 L529.20,1173.78 L529.55,1172.96 L529.91,1172.14 L530.27,1171.30 L530.64,1170.46 L531.01,1169.61 L531.39,1168.75 L531.76,1167.88 L532.14,1167.01 L532.53,1166.13 L532.91,1165.24 L533.30,1164.35 L533.69,1163.45 L534.09,1162.54 L534.49,1161.63 L534.89,1160.71 L535.29,1159.79 L535.69,1158.87 L536.10,1157.94 L536.51,1157.00 L536.92,1156.07 L537.33,1155.12 L537.74,1154.18 L538.16,1153.23 L538.57,1152.28 L538.99,1151.33 L539.41,1150.37 L539.83,1149.42 L540.25,1148.46 L540.67,1147.50 L541.09,1146.54 L541.51,1145.58 L541.93,1144.61 L542.35,1143.65 L542.77,1142.69 L543.19,1141.73 L543.61,1140.77 L544.03,1139.81 L544.45,1138.85 L544.87,1137.90 L545.29,1136.94 L545.71,1135.99 L546.13,1135.04 L546.54,1134.10 L546.96,1133.15 L547.37,1132.21 L547.78,1131.28 L548.19,1130.35 L548.60,1129.42 L549.01,1128.50 L549.41,1127.58 L549.81,1126.66 L550.21,1125.76 L550.61,1124.85 L551.01,1123.96 L551.40,1123.07 L551.79,1122.18 L552.17,1121.31 L552.56,1120.44 L552.94,1119.58 L553.31,1118.72 L553.69,1117.87 L554.06,1117.04 L554.43,1116.21 L554.79,1115.38 L555.15,1114.57 L555.50,1113.77 L555.86,1112.97 L556.20,1112.19 L556.55,1111.41 L556.88,1110.65 L557.22,1109.89 L557.55,1109.15 L557.87,1108.41 L558.19,1107.69 L558.51,1106.98 L558.82,1106.28 L559.13,1105.59 L559.43,1104.91 L559.72,1104.25 L560.01,1103.60 L560.30,1102.96 L560.58,1102.33 L560.85,1101.71 L561.12,1101.11 L561.38,1100.52 L561.64,1099.95 L561.89,1099.39 L562.13,1098.84 L562.37,1098.31 L562.61,1097.79 L562.83,1097.28 L563.05,1096.79 L563.27,1096.31 L563.47,1095.85 L563.67,1095.40 L563.87,1094.97 L564.06,1094.55 L564.24,1094.15 L564.41,1093.76 L564.58,1093.39 L564.74,1093.04 L564.90,1092.70 L565.05,1092.37 L565.19,1092.06 L565.32,1091.77 L565.45,1091.49 L565.57,1091.23 L565.68,1090.99 L565.78,1090.76 L565.88,1090.55 L565.97,1090.35 L566.06,1090.17 L566.13,1090.01 L566.20,1089.87 L566.27,1089.74 L566.32,1089.62 L566.37,1089.53 L566.41,1089.45 L566.44,1089.39 L566.47,1089.34 L566.49,1089.31 L566.50,1089.30 Z" fill="none" stroke="#6DCD59" stroke-width="3.4" stroke-linejoin="round" />
<path d="M641.51,1272.10 L641.51,1273.11 L641.51,1274.09 L641.49,1275.03 L641.48,1275.95 L641.46,1276.83 L641.44,1277.67 L641.41,1278.49 L641.38,1279.27 L641.34,1280.02 L641.30,1280.73 L641.25,1281.41 L641.20,1282.05 L641.15,1282.66 L641.09,1283.24 L641.03,1283.78 L640.96,1284.28 L640.89,1284.75 L640.82,1285.19 L640.74,1285.58 L640.65,1285.95 L640.57,1286.27 L640.48,1286.57 L640.38,1286.82 L640.28,1287.04 L640.18,1287.22 L640.07,1287.37 L639.96,1287.48 L639.84,1287.56 L639.73,1287.60 L639.60,1287.60 L639.48,1287.56 L639.35,1287.49 L639.21,1287.39 L639.08,1287.25 L638.93,1287.07 L638.79,1286.85 L638.64,1286.60 L638.49,1286.31 L638.34,1285.99 L638.18,1285.63 L638.02,1285.24 L637.85,1284.81 L637.68,1284.34 L637.51,1283.84 L637.34,1283.31 L637.16,1282.74 L636.98,1282.13 L636.79,1281.49 L636.61,1280.82 L636.42,1280.11 L636.23,1279.37 L636.03,1278.59 L635.83,1277.78 L635.63,1276.94 L635.43,1276.06 L635.23,1275.15 L635.02,1274.21 L634.81,1273.24 L634.60,1272.23 L634.38,1271.20 L634.17,1270.13 L633.95,1269.03 L633.73,1267.90 L633.50,1266.74 L633.28,1265.55 L633.05,1264.33 L632.82,1263.08 L632.59,1261.80 L632.36,1260.50 L632.13,1259.16 L631.89,1257.80 L631.66,1256.41 L631.42,1255.00 L631.18,1253.56 L630.94,1252.09 L630.70,1250.60 L630.46,1249.08 L630.22,1247.54 L629.97,1245.97 L629.73,1244.38 L629.48,1242.77 L629.24,1241.13 L628.99,1239.47 L628.74,1237.79 L628.49,1236.09 L628.25,1234.37 L628.00,1232.63 L627.75,1230.87 L627.50,1229.09 L627.25,1227.29 L627.00,1225.47 L626.75,1223.64 L626.50,1221.79 L626.25,1219.92 L626.01,1218.04 L625.76,1216.14 L625.51,1214.23 L625.26,1212.31 L625.02,1210.37 L624.77,1208.42 L624.53,1206.45 L624.28,1204.48 L624.04,1202.49 L623.80,1200.49 L623.56,1198.49 L623.32,1196.47 L623.08,1194.45 L622.84,1192.42 L622.61,1190.38 L622.37,1188.33 L622.14,1186.28 L621.91,1184.22 L621.68,1182.16 L621.45,1180.09 L621.22,1178.02 L621.00,1175.95 L620.77,1173.88 L620.55,1171.80 L620.33,1169.72 L620.12,1167.64 L619.90,1165.57 L619.69,1163.49 L619.48,1161.42 L619.27,1159.34 L619.07,1157.27 L618.87,1155.21 L618.67,1153.14 L618.47,1151.09 L618.27,1149.03 L618.08,1146.99 L617.89,1144.95 L617.71,1142.91 L617.52,1140.89 L617.34,1138.87 L617.16,1136.86 L616.99,1134.87 L616.82,1132.88 L616.65,1130.90 L616.48,1128.94 L616.32,1126.98 L616.16,1125.04 L616.01,1123.11 L615.86,1121.20 L615.71,1119.30 L615.57,1117.42 L615.42,1115.55 L615.29,1113.70 L615.15,1111.86 L615.02,1110.04 L614.90,1108.24 L614.77,1106.46 L614.66,1104.70 L614.54,1102.95 L614.43,1101.23 L614.32,1099.52 L614.22,1097.84 L614.12,1096.18 L614.02,1094.54 L613.93,1092.93 L613.85,1091.33 L613.76,1089.76 L613.68,1088.22 L613.61,1086.70 L613.54,1085.20 L613.47,1083.73 L613.41,1082.28 L613.35,1080.87 L613.30,1079.47 L613.25,1078.11 L613.20,1076.77 L613.16,1075.46 L613.12,1074.18 L613.09,1072.93 L613.06,1071.71 L613.04,1070.51 L613.02,1069.35 L613.01,1068.21 L612.99,1067.11 L612.99,1066.04 L612.99,1065.00 L612.99,1063.99 L612.99,1063.01 L613.01,1062.07 L613.02,1061.15 L613.04,1060.27 L613.06,1059.43 L613.09,1058.61 L613.12,1057.83 L613.16,1057.08 L613.20,1056.37 L613.25,1055.69 L613.30,1055.05 L613.35,1054.44 L613.41,1053.86 L613.47,1053.32 L613.54,1052.82 L613.61,1052.35 L613.68,1051.91 L613.76,1051.52 L613.85,1051.15 L613.93,1050.83 L614.02,1050.53 L614.12,1050.28 L614.22,1050.06 L614.32,1049.88 L614.43,1049.73 L614.54,1049.62 L614.66,1049.54 L614.77,1049.50 L614.90,1049.50 L615.02,1049.54 L615.15,1049.61 L615.29,1049.71 L615.42,1049.85 L615.57,1050.03 L615.71,1050.25 L615.86,1050.50 L616.01,1050.79 L616.16,1051.11 L616.32,1051.47 L616.48,1051.86 L616.65,1052.29 L616.82,1052.76 L616.99,1053.26 L617.16,1053.79 L617.34,1054.36 L617.52,1054.97 L617.71,1055.61 L617.89,1056.28 L618.08,1056.99 L618.27,1057.73 L618.47,1058.51 L618.67,1059.32 L618.87,1060.16 L619.07,1061.04 L619.27,1061.95 L619.48,1062.89 L619.69,1063.86 L619.90,1064.87 L620.12,1065.90 L620.33,1066.97 L620.55,1068.07 L620.77,1069.20 L621.00,1070.36 L621.22,1071.55 L621.45,1072.77 L621.68,1074.02 L621.91,1075.30 L622.14,1076.60 L622.37,1077.94 L622.61,1079.30 L622.84,1080.69 L623.08,1082.10 L623.32,1083.54 L623.56,1085.01 L623.80,1086.50 L624.04,1088.02 L624.28,1089.56 L624.53,1091.13 L624.77,1092.72 L625.02,1094.33 L625.26,1095.97 L625.51,1097.63 L625.76,1099.31 L626.01,1101.01 L626.25,1102.73 L626.50,1104.47 L626.75,1106.23 L627.00,1108.01 L627.25,1109.81 L627.50,1111.63 L627.75,1113.46 L628.00,1115.31 L628.25,1117.18 L628.49,1119.06 L628.74,1120.96 L628.99,1122.87 L629.24,1124.79 L629.48,1126.73 L629.73,1128.68 L629.97,1130.65 L630.22,1132.62 L630.46,1134.61 L630.70,1136.61 L630.94,1138.61 L631.18,1140.63 L631.42,1142.65 L631.66,1144.68 L631.89,1146.72 L632.13,1148.77 L632.36,1150.82 L632.59,1152.88 L632.82,1154.94 L633.05,1157.01 L633.28,1159.08 L633.50,1161.15 L633.73,1163.22 L633.95,1165.30 L634.17,1167.38 L634.38,1169.46 L634.60,1171.53 L634.81,1173.61 L635.02,1175.68 L635.23,1177.76 L635.43,1179.83 L635.63,1181.89 L635.83,1183.96 L636.03,1186.01 L636.23,1188.07 L636.42,1190.11 L636.61,1192.15 L636.79,1194.19 L636.98,1196.21 L637.16,1198.23 L637.34,1200.24 L637.51,1202.23 L637.68,1204.22 L637.85,1206.20 L638.02,1208.16 L638.18,1210.12 L638.34,1212.06 L638.49,1213.99 L638.64,1215.90 L638.79,1217.80 L638.93,1219.68 L639.08,1221.55 L639.21,1223.40 L639.35,1225.24 L639.48,1227.06 L639.60,1228.86 L639.73,1230.64 L639.84,1232.40 L639.96,1234.15 L640.07,1235.87 L640.18,1237.58 L640.28,1239.26 L640.38,1240.92 L640.48,1242.56 L640.57,1244.17 L640.65,1245.77 L640.74,1247.34 L640.82,1248.88 L640.89,1250.40 L640.96,1251.90 L641.03,1253.37 L641.09,1254.82 L641.15,1256.23 L641.20,1257.63 L641.25,1258.99 L641.30,1260.33 L641.34,1261.64 L641.38,1262.92 L641.41,1264.17 L641.44,1265.39 L641.46,1266.59 L641.48,1267.75 L641.49,1268.89 L641.51,1269.99 L641.51,1271.06 Z" fill="none" stroke="#8FD744" stroke-width="3.4" stroke-linejoin="round" />
<path d="M702.00,1106.55 L701.96,1109.65 L701.86,1112.73 L701.68,1115.78 L701.43,1118.80 L701.11,1121.79 L700.72,1124.75 L700.26,1127.68 L699.72,1130.58 L699.12,1133.45 L698.45,1136.28 L697.70,1139.08 L696.89,1141.84 L696.01,1144.57 L695.06,1147.26 L694.03,1149.91 L692.94,1152.52 L691.78,1155.10 L690.56,1157.63 L689.26,1160.13 L687.90,1162.58 L686.47,1164.99 L684.98,1167.35 L683.41,1169.68 L681.79,1171.95 L680.09,1174.19 L678.34,1176.37 L676.52,1178.51 L674.63,1180.61 L672.69,1182.65 L670.68,1184.65 L668.61,1186.60 L666.47,1188.49 L664.28,1190.34 L662.03,1192.14 L659.72,1193.88 L657.35,1195.58 L654.92,1197.22 L652.44,1198.81 L649.90,1200.34 L647.30,1201.82 L644.65,1203.25 L641.95,1204.62 L639.19,1205.94 L636.38,1207.20 L633.52,1208.40 L630.61,1209.55 L627.65,1210.64 L624.64,1211.68 L621.59,1212.65 L618.48,1213.57 L615.34,1214.43 L612.14,1215.24 L608.90,1215.98 L605.62,1216.67 L602.30,1217.30 L598.94,1217.86 L595.54,1218.37 L592.10,1218.82 L588.62,1219.21 L585.10,1219.54 L581.55,1219.82 L577.96,1220.03 L574.34,1220.18 L570.69,1220.27 L567.01,1220.30 L563.30,1220.27 L559.55,1220.18 L555.78,1220.03 L551.99,1219.83 L548.16,1219.56 L544.32,1219.23 L540.45,1218.84 L536.56,1218.39 L532.64,1217.89 L528.71,1217.32 L524.76,1216.70 L520.79,1216.01 L516.81,1215.27 L512.81,1214.47 L508.80,1213.61 L504.77,1212.69 L500.74,1211.72 L496.69,1210.69 L492.64,1209.60 L488.58,1208.45 L484.51,1207.25 L480.44,1205.99 L476.36,1204.68 L472.28,1203.31 L468.20,1201.88 L464.12,1200.40 L460.04,1198.87 L455.96,1197.29 L451.89,1195.65 L447.82,1193.96 L443.76,1192.21 L439.71,1190.42 L435.66,1188.57 L431.63,1186.68 L427.60,1184.73 L423.59,1182.74 L419.59,1180.69 L415.61,1178.60 L411.64,1176.47 L407.69,1174.28 L403.76,1172.05 L399.84,1169.77 L395.95,1167.45 L392.08,1165.09 L388.24,1162.68 L384.41,1160.23 L380.62,1157.74 L376.85,1155.21 L373.10,1152.63 L369.39,1150.02 L365.71,1147.37 L362.06,1144.68 L358.44,1141.96 L354.85,1139.19 L351.30,1136.40 L347.78,1133.57 L344.30,1130.70 L340.86,1127.80 L337.46,1124.87 L334.10,1121.91 L330.78,1118.92 L327.50,1115.90 L324.26,1112.86 L321.06,1109.78 L317.92,1106.68 L314.81,1103.55 L311.76,1100.40 L308.75,1097.23 L305.79,1094.03 L302.88,1090.81 L300.02,1087.57 L297.21,1084.31 L294.45,1081.04 L291.75,1077.74 L289.10,1074.43 L286.50,1071.10 L283.96,1067.76 L281.48,1064.41 L279.05,1061.04 L276.68,1057.66 L274.37,1054.27 L272.12,1050.87 L269.93,1047.47 L267.79,1044.05 L265.72,1040.63 L263.71,1037.21 L261.77,1033.78 L259.88,1030.34 L258.06,1026.91 L256.31,1023.47 L254.61,1020.04 L252.99,1016.60 L251.42,1013.17 L249.93,1009.74 L248.50,1006.31 L247.14,1002.89 L245.84,999.48 L244.62,996.07 L243.46,992.67 L242.37,989.28 L241.34,985.90 L240.39,982.53 L239.51,979.18 L238.70,975.84 L237.95,972.51 L237.28,969.20 L236.68,965.90 L236.14,962.62 L235.68,959.36 L235.29,956.12 L234.97,952.90 L234.72,949.71 L234.54,946.53 L234.44,943.38 L234.40,940.25 L234.44,937.15 L234.54,934.07 L234.72,931.02 L234.97,928.00 L235.29,925.01 L235.68,922.05 L236.14,919.12 L236.68,916.22 L237.28,913.35 L237.95,910.52 L238.70,907.72 L239.51,904.96 L240.39,902.23 L241.34,899.54 L242.37,896.89 L243.46,894.28 L244.62,891.70 L245.84,889.17 L247.14,886.67 L248.50,884.22 L249.93,881.81 L251.42,879.45 L252.99,877.12 L254.61,874.85 L256.31,872.61 L258.06,870.43 L259.88,868.29 L261.77,866.19 L263.71,864.15 L265.72,862.15 L267.79,860.20 L269.93,858.31 L272.12,856.46 L274.37,854.66 L276.68,852.92 L279.05,851.22 L281.48,849.58 L283.96,847.99 L286.50,846.46 L289.10,844.98 L291.75,843.55 L294.45,842.18 L297.21,840.86 L300.02,839.60 L302.88,838.40 L305.79,837.25 L308.75,836.16 L311.76,835.12 L314.81,834.15 L317.92,833.23 L321.06,832.37 L324.26,831.56 L327.50,830.82 L330.78,830.13 L334.10,829.50 L337.46,828.94 L340.86,828.43 L344.30,827.98 L347.78,827.59 L351.30,827.26 L354.85,826.98 L358.44,826.77 L362.06,826.62 L365.71,826.53 L369.39,826.50 L373.10,826.53 L376.85,826.62 L380.62,826.77 L384.41,826.97 L388.24,827.24 L392.08,827.57 L395.95,827.96 L399.84,828.41 L403.76,828.91 L407.69,829.48 L411.64,830.10 L415.61,830.79 L419.59,831.53 L423.59,832.33 L427.60,833.19 L431.63,834.11 L435.66,835.08 L439.71,836.11 L443.76,837.20 L447.82,838.35 L451.89,839.55 L455.96,840.81 L460.04,842.12 L464.12,843.49 L468.20,844.92 L472.28,846.40 L476.36,847.93 L480.44,849.51 L484.51,851.15 L488.58,852.84 L492.64,854.59 L496.69,856.38 L500.74,858.23 L504.77,860.12 L508.80,862.07 L512.81,864.06 L516.81,866.11 L520.79,868.20 L524.76,870.33 L528.71,872.52 L532.64,874.75 L536.56,877.03 L540.45,879.35 L544.32,881.71 L548.16,884.12 L551.99,886.57 L555.78,889.06 L559.55,891.59 L563.30,894.17 L567.01,896.78 L570.69,899.43 L574.34,902.12 L577.96,904.84 L581.55,907.61 L585.10,910.40 L588.62,913.23 L592.10,916.10 L595.54,919.00 L598.94,921.93 L602.30,924.89 L605.62,927.88 L608.90,930.90 L612.14,933.94 L615.34,937.02 L618.48,940.12 L621.59,943.25 L624.64,946.40 L627.65,949.57 L630.61,952.77 L633.52,955.99 L636.38,959.23 L639.19,962.49 L641.95,965.76 L644.65,969.06 L647.30,972.37 L649.90,975.70 L652.44,979.04 L654.92,982.39 L657.35,985.76 L659.72,989.14 L662.03,992.53 L664.28,995.93 L666.47,999.33 L668.61,1002.75 L670.68,1006.17 L672.69,1009.59 L674.63,1013.02 L676.52,1016.46 L678.34,1019.89 L680.09,1023.33 L681.79,1026.76 L683.41,1030.20 L684.98,1033.63 L686.47,1037.06 L687.90,1040.49 L689.26,1043.91 L690.56,1047.32 L691.78,1050.73 L692.94,1054.13 L694.03,1057.52 L695.06,1060.90 L696.01,1064.27 L696.89,1067.62 L697.70,1070.96 L698.45,1074.29 L699.12,1077.60 L699.72,1080.90 L700.26,1084.18 L700.72,1087.44 L701.11,1090.68 L701.43,1093.90 L701.68,1097.09 L701.86,1100.27 L701.96,1103.42 Z" fill="none" stroke="#000" stroke-width="3.6" stroke-linejoin="round" stroke-dasharray="0 12.4072" stroke-dashoffset="-0.1" stroke-linecap="round"/>
<text x="397.00" y="1446.00" font-size="44" font-family="'Liberation Serif', 'Times New Roman', serif" font-weight="normal" text-anchor="start" >δ</text>
<text x="417.00" y="1424.70" font-size="25" font-family="'Liberation Sans', Arial, Helvetica, sans-serif" font-weight="normal" text-anchor="start" >13</text>
<text x="452.60" y="1441.00" font-size="44" font-family="'Liberation Sans', Arial, Helvetica, sans-serif" font-weight="normal" text-anchor="start" >C</text>
<text x="47.30" y="1099.50" font-size="44" font-family="'Liberation Serif', 'Times New Roman', serif" font-weight="normal" text-anchor="start" transform="rotate(-90 47.30 1099.50)" >δ</text>
<text x="27.00" y="1080.50" font-size="25" font-family="'Liberation Sans', Arial, Helvetica, sans-serif" font-weight="normal" text-anchor="start" transform="rotate(-90 27.00 1080.50)" >15</text>
<text x="43.00" y="1043.90" font-size="44" font-family="'Liberation Sans', Arial, Helvetica, sans-serif" font-weight="normal" text-anchor="start" transform="rotate(-90 43.00 1043.90)" >N</text>
<path d="M917.00,768.70 L1499.80,769.50 L1498.00,1339.20 L915.10,1338.20 Z" fill="none" stroke="#000" stroke-width="1.7" />
<line x1="899.50" y1="798.50" x2="916.90" y2="798.50" stroke="#000" stroke-width="1.7" />
<text x="855.60" y="793.70" font-size="37.5" font-family="'Liberation Sans', Arial, Helvetica, sans-serif" font-weight="normal" text-anchor="middle" transform="rotate(90 855.60 793.70)" >-2</text>
<line x1="899.50" y1="880.80" x2="916.63" y2="880.80" stroke="#000" stroke-width="1.7" />
<text x="855.60" y="880.80" font-size="37.5" font-family="'Liberation Sans', Arial, Helvetica, sans-serif" font-weight="normal" text-anchor="middle" transform="rotate(90 855.60 880.80)" >1</text>
<line x1="899.50" y1="962.80" x2="916.35" y2="962.80" stroke="#000" stroke-width="1.7" />
<text x="855.60" y="962.80" font-size="37.5" font-family="'Liberation Sans', Arial, Helvetica, sans-serif" font-weight="normal" text-anchor="middle" transform="rotate(90 855.60 962.80)" >0</text>
<line x1="899.50" y1="1044.80" x2="916.08" y2="1044.80" stroke="#000" stroke-width="1.7" />
<text x="855.60" y="1044.80" font-size="37.5" font-family="'Liberation Sans', Arial, Helvetica, sans-serif" font-weight="normal" text-anchor="middle" transform="rotate(90 855.60 1044.80)" >1</text>
<line x1="899.50" y1="1127.00" x2="915.80" y2="1127.00" stroke="#000" stroke-width="1.7" />
<text x="855.60" y="1127.00" font-size="37.5" font-family="'Liberation Sans', Arial, Helvetica, sans-serif" font-weight="normal" text-anchor="middle" transform="rotate(90 855.60 1127.00)" >2</text>
<line x1="899.50" y1="1209.00" x2="915.53" y2="1209.00" stroke="#000" stroke-width="1.7" />
<text x="855.60" y="1209.00" font-size="37.5" font-family="'Liberation Sans', Arial, Helvetica, sans-serif" font-weight="normal" text-anchor="middle" transform="rotate(90 855.60 1209.00)" >3</text>
<line x1="899.50" y1="1291.50" x2="915.26" y2="1291.50" stroke="#000" stroke-width="1.7" />
<text x="855.60" y="1291.50" font-size="37.5" font-family="'Liberation Sans', Arial, Helvetica, sans-serif" font-weight="normal" text-anchor="middle" transform="rotate(90 855.60 1291.50)" >4</text>
<line x1="938.90" y1="1339.60" x2="1464.90" y2="1340.00" stroke="#000" stroke-width="1.7" />
<line x1="938.90" y1="1338.60" x2="938.90" y2="1352.50" stroke="#000" stroke-width="1.7" />
<text x="936.90" y="1386.80" font-size="37.5" font-family="'Liberation Sans', Arial, Helvetica, sans-serif" font-weight="normal" text-anchor="middle" >0.0</text>
<line x1="1070.20" y1="1338.60" x2="1070.20" y2="1352.50" stroke="#000" stroke-width="1.7" />
<text x="1068.20" y="1386.80" font-size="37.5" font-family="'Liberation Sans', Arial, Helvetica, sans-serif" font-weight="normal" text-anchor="middle" >0.1</text>
<line x1="1201.50" y1="1338.60" x2="1201.50" y2="1352.50" stroke="#000" stroke-width="1.7" />
<text x="1199.50" y="1386.80" font-size="37.5" font-family="'Liberation Sans', Arial, Helvetica, sans-serif" font-weight="normal" text-anchor="middle" >0.2</text>
<line x1="1333.00" y1="1338.60" x2="1333.00" y2="1352.50" stroke="#000" stroke-width="1.7" />
<text x="1331.00" y="1386.80" font-size="37.5" font-family="'Liberation Sans', Arial, Helvetica, sans-serif" font-weight="normal" text-anchor="middle" >0.3</text>
<line x1="1464.90" y1="1338.60" x2="1464.90" y2="1352.50" stroke="#000" stroke-width="1.7" />
<text x="1462.90" y="1386.80" font-size="37.5" font-family="'Liberation Sans', Arial, Helvetica, sans-serif" font-weight="normal" text-anchor="middle" >0.4</text>
<text x="1228.20" y="1436.20" font-size="42.5" font-family="'Liberation Sans', Arial, Helvetica, sans-serif" font-weight="normal" text-anchor="middle" >Density</text>
<text x="805.30" y="1055.40" font-size="42.5" font-family="'Liberation Sans', Arial, Helvetica, sans-serif" font-weight="normal" text-anchor="middle" transform="rotate(90 805.30 1055.40)" >Difference from mean</text>
<text x="921.00" y="753.40" font-size="42.5" font-family="'Liberation Sans', Arial, Helvetica, sans-serif" font-weight="normal" text-anchor="start" >(C)</text>
<text x="1202.40" y="752.30" font-size="41.8" font-family="'Liberation Sans', Arial, Helvetica, sans-serif" font-weight="bold" text-anchor="middle" >Nitrogen</text>
<text x="933.00" y="1332.90" font-size="32.5" font-family="'Liberation Sans', Arial, Helvetica, sans-serif" font-weight="normal" text-anchor="start" >2011</text>
<text x="1026.00" y="1332.90" font-size="32.5" font-family="'Liberation Sans', Arial, Helvetica, sans-serif" font-weight="normal" text-anchor="start" >2015</text>
<text x="1130.00" y="1332.90" font-size="32.5" font-family="'Liberation Sans', Arial, Helvetica, sans-serif" font-weight="normal" text-anchor="start" >2017</text>
<text x="1221.00" y="1332.90" font-size="32.5" font-family="'Liberation Sans', Arial, Helvetica, sans-serif" font-weight="normal" text-anchor="start" >2018</text>
<rect x="1143.80" y="832.50" width="8.80" height="102.20" fill="#535B5F"/>
<rect x="1234.90" y="791.30" width="9.00" height="122.10" fill="#E3C70A"/>
<path d="M977.31,777.29 L979.31,779.04 L981.38,780.79 L983.54,782.54 L985.78,784.29 L988.10,786.05 L990.51,787.80 L993.00,789.55 L995.58,791.30 L998.25,793.05 L1001.01,794.80 L1003.87,796.55 L1006.82,798.30 L1009.87,800.06 L1013.01,801.81 L1016.25,803.56 L1019.59,805.31 L1023.04,807.06 L1026.58,808.81 L1030.23,810.56 L1033.98,812.32 L1037.84,814.07 L1041.80,815.82 L1045.86,817.57 L1050.03,819.32 L1054.31,821.07 L1058.69,822.82 L1063.18,824.57 L1067.78,826.33 L1072.48,828.08 L1077.28,829.83 L1082.19,831.58 L1087.20,833.33 L1092.31,835.08 L1097.53,836.83 L1102.84,838.58 L1108.25,840.34 L1113.76,842.09 L1119.36,843.84 L1125.05,845.59 L1130.83,847.34 L1136.69,849.09 L1142.65,850.84 L1148.68,852.60 L1154.79,854.35 L1160.97,856.10 L1167.23,857.85 L1173.55,859.60 L1179.93,861.35 L1186.38,863.10 L1192.88,864.85 L1199.43,866.61 L1206.02,868.36 L1212.65,870.11 L1219.32,871.86 L1226.02,873.61 L1232.75,875.36 L1239.49,877.11 L1246.25,878.86 L1253.02,880.62 L1259.78,882.37 L1266.54,884.12 L1273.29,885.87 L1280.03,887.62 L1286.74,889.37 L1293.42,891.12 L1300.06,892.88 L1306.66,894.63 L1313.21,896.38 L1319.70,898.13 L1326.12,899.88 L1332.48,901.63 L1338.75,903.38 L1344.94,905.13 L1351.04,906.89 L1357.04,908.64 L1362.93,910.39 L1368.71,912.14 L1374.37,913.89 L1379.91,915.64 L1385.31,917.39 L1390.57,919.15 L1395.69,920.90 L1400.65,922.65 L1405.45,924.40 L1410.09,926.15 L1414.56,927.90 L1418.86,929.65 L1422.97,931.40 L1426.89,933.16 L1430.63,934.91 L1434.17,936.66 L1437.50,938.41 L1440.63,940.16 L1443.55,941.91 L1446.26,943.66 L1448.75,945.41 L1451.01,947.17 L1453.06,948.92 L1454.88,950.67 L1456.47,952.42 L1457.83,954.17 L1458.95,955.92 L1459.84,957.67 L1460.50,959.43 L1460.92,961.18 L1461.10,962.93 L1461.05,964.68 L1460.75,966.43 L1460.23,968.18 L1459.46,969.93 L1458.46,971.68 L1457.23,973.44 L1455.76,975.19 L1454.07,976.94 L1452.14,978.69 L1450.00,980.44 L1447.63,982.19 L1445.04,983.94 L1442.23,985.69 L1439.21,987.45 L1435.99,989.20 L1432.56,990.95 L1428.93,992.70 L1425.11,994.45 L1421.10,996.20 L1416.90,997.95 L1412.53,999.71 L1407.98,1001.46 L1403.26,1003.21 L1398.38,1004.96 L1393.35,1006.71 L1388.16,1008.46 L1382.84,1010.21 L1377.37,1011.96 L1371.78,1013.72 L1366.06,1015.47 L1360.23,1017.22 L1354.29,1018.97 L1348.24,1020.72 L1342.10,1022.47 L1335.87,1024.22 L1329.56,1025.98 L1323.17,1027.73 L1316.71,1029.48 L1310.20,1031.23 L1303.62,1032.98 L1297.00,1034.73 L1290.34,1036.48 L1283.65,1038.23 L1276.93,1039.99 L1270.19,1041.74 L1263.43,1043.49 L1256.66,1045.24 L1249.90,1046.99 L1243.14,1048.74 L1236.38,1050.49 L1229.65,1052.24 L1222.93,1054.00 L1216.25,1055.75 L1209.59,1057.50 L1202.98,1059.25 L1196.40,1061.00 L1189.88,1062.75 L1183.40,1064.50 L1176.98,1066.26 L1170.63,1068.01 L1164.34,1069.76 L1158.11,1071.51 L1151.96,1073.26 L1145.89,1075.01 L1139.89,1076.76 L1133.98,1078.51 L1128.15,1080.27 L1122.41,1082.02 L1116.76,1083.77 L1111.21,1085.52 L1105.74,1087.27 L1100.38,1089.02 L1095.11,1090.77 L1089.94,1092.52 L1084.88,1094.28 L1079.92,1096.03 L1075.06,1097.78 L1070.30,1099.53 L1065.65,1101.28 L1061.10,1103.03 L1056.66,1104.78 L1052.33,1106.54 L1048.10,1108.29 L1043.98,1110.04 L1039.96,1111.79 L1036.05,1113.54 L1032.24,1115.29 L1028.54,1117.04 L1024.94,1118.79 L1021.44,1120.55 L1018.04,1122.30 L1014.74,1124.05 L1011.55,1125.80 L1008.45,1127.55 L1005.45,1129.30 L1002.54,1131.05 L999.73,1132.80 L997.01,1134.56 L994.38,1136.31 L991.84,1138.06 L989.39,1139.81 L987.02,1141.56 L984.74,1143.31 L982.54,1145.06 L980.42,1146.82 L978.38,1148.57 L976.41,1150.32 L974.52,1152.07 L972.71,1153.82 L970.96,1155.57 L969.28,1157.32 L967.68,1159.07 L966.13,1160.83 L964.65,1162.58 L963.24,1164.33 L961.88,1166.08 L960.58,1167.83 L959.34,1169.58 L958.15,1171.33 L957.01,1173.09 L955.92,1174.84 L954.89,1176.59 L953.90,1178.34 L952.96,1180.09 L952.06,1181.84 L951.20,1183.59 L950.38,1185.34 L949.61,1187.10 L948.87,1188.85 L948.17,1190.60 L947.50,1192.35 L946.87,1194.10 L946.26,1195.85 L945.69,1197.60 L945.15,1199.35 L944.64,1201.11 L944.15,1202.86 L943.69,1204.61 L943.26,1206.36 L942.84,1208.11 L942.45,1209.86 L942.09,1211.61 L941.74,1213.37 L941.41,1215.12 L941.10,1216.87 L940.81,1218.62 L940.53,1220.37 L940.27,1222.12 L940.03,1223.87 L939.80,1225.62 L939.58,1227.38 L939.38,1229.13 L939.19,1230.88 L939.01,1232.63 L938.84,1234.38 L938.68,1236.13 L938.53,1237.88 L938.39,1239.63 L938.26,1241.39 L938.14,1243.14 L938.02,1244.89 L937.92,1246.64 L937.82,1248.39 L937.72,1250.14 L937.63,1251.89 L937.55,1253.65 L937.48,1255.40 L937.41,1257.15 L937.34,1258.90 L937.28,1260.65 L937.22,1262.40 L937.17,1264.15 L937.12,1265.90 L937.07,1267.66 L937.03,1269.41 L936.99,1271.16 L936.95,1272.91 L936.91,1274.66 L936.88,1276.41 L936.85,1278.16 L936.83,1279.91 L936.80,1281.67 L936.78,1283.42 L936.75,1285.17 L936.73,1286.92 L936.71,1288.67 L936.70,1290.42 L936.68,1292.17 L936.67,1293.93 L936.65,1295.68 L936.64,1297.43 L936.63,1299.18 L936.62,1300.93 L936.61,1302.68" fill="none" stroke="#000" stroke-width="1.9" stroke-dasharray="4.2 7.11" stroke-dashoffset="-0.95" stroke-linecap="round" stroke-linejoin="round"/>
<rect x="932.40" y="820.50" width="8.20" height="87.90" fill="#472D7B"/>
<rect x="946.10" y="846.60" width="8.20" height="116.00" fill="#404688"/>
<rect x="959.80" y="806.50" width="8.30" height="100.50" fill="#33638D"/>
<rect x="973.30" y="814.00" width="8.50" height="90.30" fill="#A9ABAA"/>
<rect x="985.00" y="823.30" width="8.70" height="110.50" fill="#3CBB75"/>
<rect x="1038.10" y="941.60" width="8.20" height="98.80" fill="#440154"/>
<rect x="1051.10" y="867.60" width="8.50" height="120.00" fill="#2D708E"/>
<rect x="1065.00" y="777.70" width="8.20" height="78.20" fill="#35A59A"/>
<rect x="1077.70" y="777.30" width="8.80" height="110.30" fill="#C56A0F"/>
<rect x="1037.30" y="1134.20" width="8.70" height="48.30" fill="#3B528B"/>
<rect x="1130.10" y="788.60" width="8.50" height="105.40" fill="#4B1C6E"/>
<rect x="1182.40" y="789.80" width="10.40" height="107.10" fill="#B8DE29"/>
<rect x="1155.50" y="1129.30" width="10.30" height="77.40" fill="#6DCD59"/>
<rect x="1169.70" y="1100.40" width="9.60" height="95.60" fill="#FDE725"/>
<rect x="1221.50" y="843.30" width="8.70" height="89.40" fill="#8FD744"/>
<rect x="1248.90" y="804.20" width="8.20" height="48.60" fill="#55C667"/>
<rect x="1234.30" y="1151.30" width="8.70" height="154.90" fill="#8FD744"/>
<rect x="1248.00" y="1117.60" width="8.30" height="114.20" fill="#20A386"/>
</svg></body></html>
